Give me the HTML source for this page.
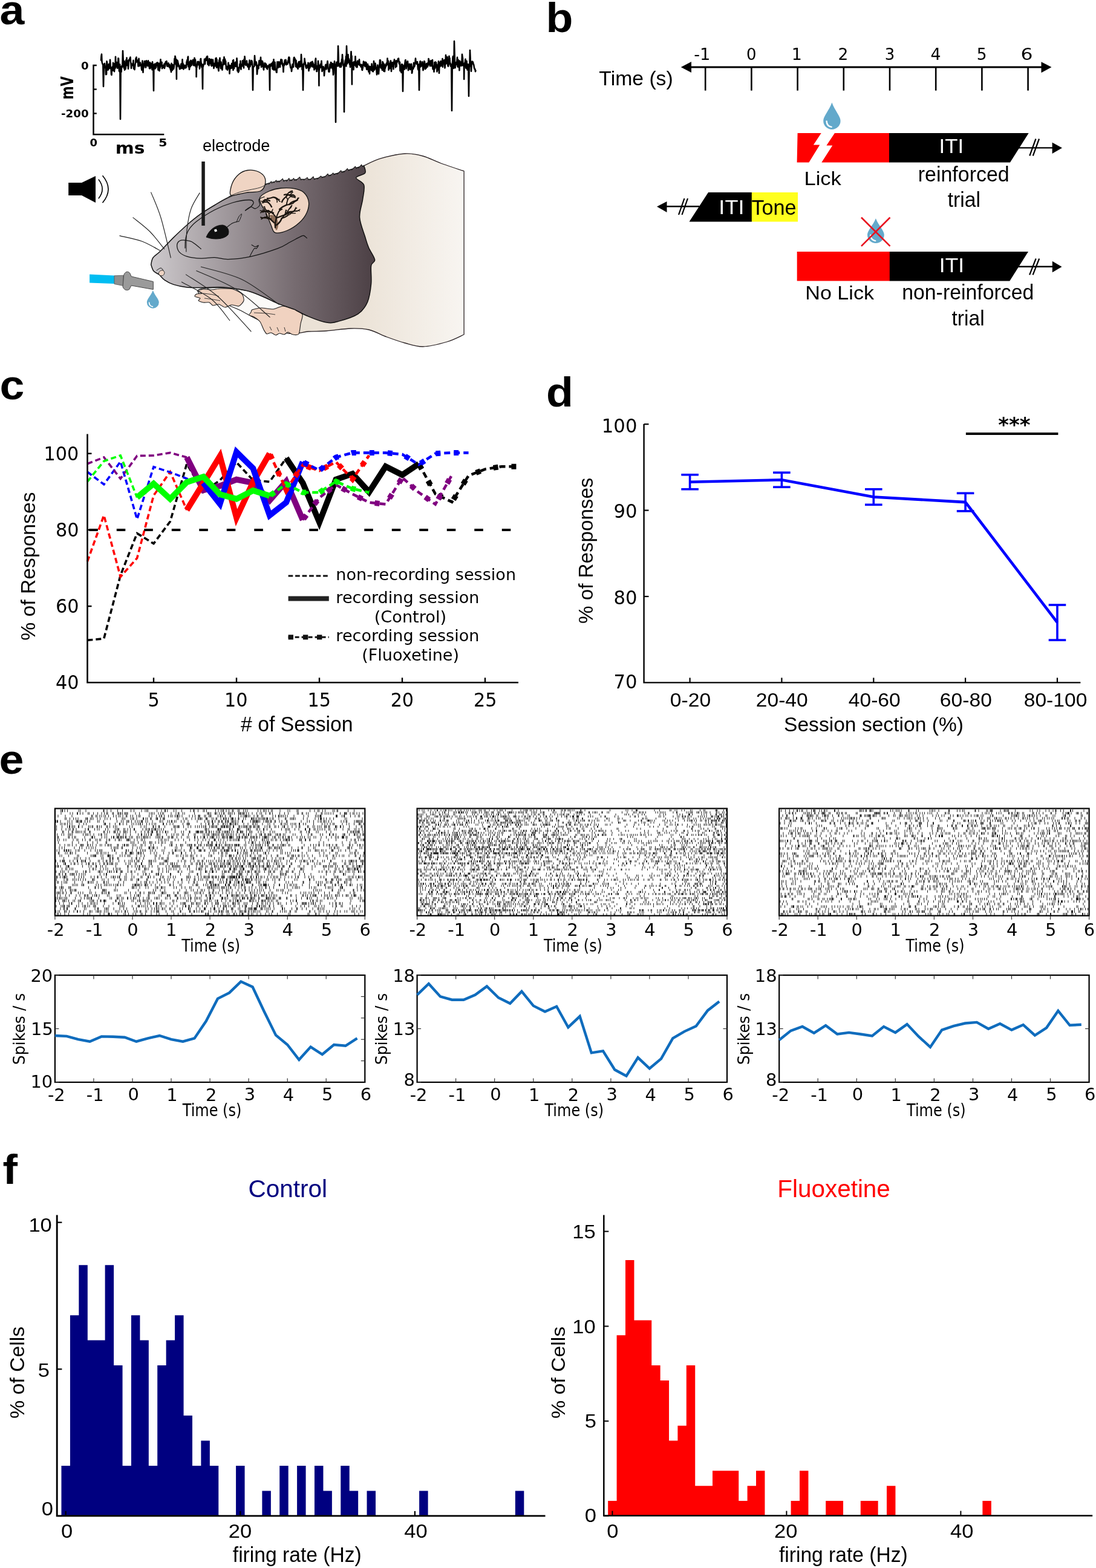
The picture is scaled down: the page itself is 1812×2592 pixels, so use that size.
<!DOCTYPE html>
<html><head><meta charset="utf-8"><title>Figure</title>
<style>html,body{margin:0;padding:0;background:#fff;} svg{display:block;}</style>
</head><body>
<svg width="1812" height="2592" viewBox="0 0 1812 2592"><text x="0.0" y="0.0" font-family="Liberation Sans, Arial, sans-serif" font-size="68" text-anchor="start" font-weight="bold" fill="#000" transform="translate(-0.5 39.5) scale(1.08 1)">a</text>
<text x="0.0" y="0.0" font-family="Liberation Sans, Arial, sans-serif" font-size="68" text-anchor="start" font-weight="bold" fill="#000" transform="translate(902.5 53) scale(1.08 1)">b</text>
<text x="0.0" y="0.0" font-family="Liberation Sans, Arial, sans-serif" font-size="68" text-anchor="start" font-weight="bold" fill="#000" transform="translate(-0.5 660) scale(1.08 1)">c</text>
<text x="0.0" y="0.0" font-family="Liberation Sans, Arial, sans-serif" font-size="68" text-anchor="start" font-weight="bold" fill="#000" transform="translate(903 672) scale(1.08 1)">d</text>
<text x="0.0" y="0.0" font-family="Liberation Sans, Arial, sans-serif" font-size="68" text-anchor="start" font-weight="bold" fill="#000" transform="translate(-1.5 1278.5) scale(1.08 1)">e</text>
<text x="0.0" y="0.0" font-family="Liberation Sans, Arial, sans-serif" font-size="68" text-anchor="start" font-weight="bold" fill="#000" transform="translate(4.5 1956.5) scale(1.08 1)">f</text>
<path d="M159.8 108.1 H154.5 V222.3 H271.3" fill="none" stroke="#000" stroke-width="2.5"/>
<line x1="154.5" y1="147.6" x2="159.8" y2="147.6" stroke="#000" stroke-width="2.3" />
<line x1="154.5" y1="187.5" x2="159.8" y2="187.5" stroke="#000" stroke-width="2.3" />
<text transform="translate(133.99 115.43) scale(1.0160 1)" font-family="DejaVu Sans, sans-serif" font-size="17.88" font-weight="bold" fill="#000">0</text>
<text transform="translate(101.00 193.73) scale(0.9985 1)" font-family="DejaVu Sans, sans-serif" font-size="18.28" font-weight="bold" fill="#000">-200</text>
<text transform="translate(148.40 241.64) scale(1.0535 1)" font-family="DejaVu Sans, sans-serif" font-size="17.09" font-weight="bold" fill="#000">0</text>
<text transform="translate(262.27 241.64) scale(1.1760 1)" font-family="DejaVu Sans, sans-serif" font-size="17.32" font-weight="bold" fill="#000">5</text>
<text transform="translate(190.77 253.91) scale(1.1565 1)" font-family="DejaVu Sans, sans-serif" font-size="25.74" font-weight="bold" fill="#000">ms</text>
<text transform="translate(120.90 164.60) rotate(-90) scale(0.7411 1)" font-family="DejaVu Sans, sans-serif" font-size="28.63" font-weight="bold" fill="#000">mV</text>
<path d="M167.0 100.6L167.5 92.8L168.0 89.6L168.5 102.0L169.0 104.0L169.5 105.8L170.3 106.5L171.0 143.0L171.7 110.5L172.5 105.7L173.0 104.9L173.5 108.2L174.0 112.4L174.5 110.9L175.0 123.1L175.5 112.2L176.0 122.6L176.5 101.2L177.0 103.4L177.5 108.8L178.0 110.4L178.5 115.7L179.0 112.7L179.5 114.2L180.0 106.1L180.5 113.1L181.0 108.8L181.5 108.8L182.0 98.8L182.5 107.2L183.0 113.3L183.5 111.3L184.0 122.8L184.5 123.9L185.0 112.3L185.5 115.7L186.0 110.4L186.5 116.6L187.0 103.7L187.5 112.9L188.0 116.0L188.5 105.4L189.0 118.1L189.5 111.6L190.0 113.3L190.5 112.8L191.0 93.7L191.5 104.3L192.0 107.5L192.5 110.5L193.0 103.0L193.5 106.7L194.0 112.6L194.5 112.4L195.0 108.6L195.5 96.4L196.0 96.5L196.5 107.8L197.0 117.5L197.5 118.1L198.3 106.5L199.0 197.0L199.7 110.5L200.5 119.0L201.0 111.3L201.5 108.8L202.0 110.9L202.4 109.5L203.0 84.0L204.0 105.5L204.5 108.3L205.0 112.8L205.5 101.1L206.0 115.8L206.5 103.7L207.0 106.2L207.5 114.1L208.0 110.3L208.5 99.0L209.0 107.7L209.5 95.6L210.0 107.9L210.5 100.2L211.0 102.7L211.5 103.1L212.0 113.8L212.5 107.8L213.0 99.1L213.5 100.4L214.0 97.6L214.5 98.0L215.0 95.8L215.5 94.5L216.0 101.7L216.5 105.6L217.0 112.9L217.5 106.8L218.0 105.7L218.5 106.2L219.0 108.2L219.5 107.5L220.0 106.3L220.5 99.8L221.0 113.5L221.5 108.6L222.0 111.5L222.5 115.1L223.0 110.5L223.5 106.0L224.0 103.8L224.5 96.5L225.0 96.2L225.5 94.5L226.0 102.4L226.5 99.0L227.0 100.3L227.5 100.0L228.0 103.1L228.5 109.5L229.0 105.4L229.5 96.7L230.0 105.0L230.5 109.1L231.0 106.4L231.5 104.9L232.0 103.5L232.5 105.7L233.0 108.6L233.5 108.1L234.0 113.6L234.5 115.9L235.0 112.4L235.5 100.5L236.0 106.6L236.5 119.8L237.0 109.5L237.5 112.0L238.0 110.4L238.5 105.3L239.0 101.0L239.5 102.5L240.0 101.4L240.5 103.6L241.0 111.6L241.5 109.2L242.0 100.4L242.5 105.5L243.0 107.8L243.5 102.9L244.0 107.0L244.5 109.3L245.0 100.3L245.5 103.5L246.0 107.1L246.5 103.0L247.0 113.0L247.5 113.2L248.0 103.3L248.5 113.2L249.0 107.4L249.5 106.4L250.0 104.9L250.5 110.9L251.0 105.7L251.5 115.2L252.0 102.3L252.5 107.1L253.3 106.5L254.0 150.0L254.4 109.5L254.7 110.5L256.0 105.5L256.5 113.5L257.0 109.1L257.5 112.2L258.0 111.1L258.5 104.6L259.0 104.8L259.5 107.9L260.0 103.2L260.5 104.1L261.0 109.9L261.5 115.6L262.0 109.5L262.5 104.6L263.0 112.1L263.5 117.2L264.0 109.9L264.5 112.6L265.0 105.4L265.5 98.2L266.0 107.8L266.5 109.1L267.0 105.4L267.5 102.7L268.0 113.2L268.5 112.2L269.0 111.1L269.5 108.3L270.0 111.6L270.5 110.2L271.0 108.0L271.5 105.5L272.0 112.9L272.5 107.4L273.0 110.0L273.5 103.4L274.0 102.0L274.5 102.1L275.0 102.2L275.5 101.1L276.0 106.8L276.5 109.6L277.0 106.2L277.5 108.1L278.0 109.4L278.5 104.2L279.0 106.2L279.5 109.5L280.0 111.3L280.5 106.9L281.0 111.2L281.5 112.7L282.0 115.6L282.5 114.9L283.0 119.2L283.5 104.8L284.0 106.7L284.5 112.2L285.0 116.1L285.5 107.1L286.0 107.8L286.5 109.1L287.0 114.0L287.5 111.5L288.0 107.6L288.5 97.1L289.0 104.9L289.5 92.9L290.0 94.6L290.5 99.9L291.0 106.9L291.2 106.5L291.5 106.5L291.9 130.7L292.0 98.6L292.5 99.9L292.6 110.5L293.0 102.8L293.5 100.0L294.0 101.8L294.5 104.9L295.0 105.4L295.5 110.0L296.0 108.1L296.5 111.2L297.0 114.3L297.5 112.7L298.0 111.6L298.5 113.6L299.0 107.5L299.5 105.6L300.0 109.1L300.5 108.9L301.0 113.0L301.5 98.2L302.0 108.7L302.5 104.8L303.0 109.9L303.5 114.5L304.0 107.4L304.5 110.3L305.0 111.9L305.5 112.3L306.0 111.8L306.5 108.1L307.0 112.4L307.5 111.4L308.0 111.0L308.5 102.3L309.0 101.7L309.5 99.0L310.0 106.7L310.5 95.1L311.0 93.5L311.5 110.3L312.0 109.2L312.5 108.8L313.0 114.9L313.5 111.4L314.0 101.7L314.5 104.9L315.0 110.0L315.5 99.7L316.0 101.9L316.5 106.9L317.0 107.7L317.5 101.1L318.0 101.6L318.5 103.1L319.0 98.9L319.5 100.6L320.0 107.9L320.5 105.3L321.0 108.4L321.5 95.7L322.0 97.9L322.5 100.7L323.0 98.8L323.5 109.6L323.9 106.5L324.0 110.9L324.5 109.1L324.6 127.0L325.0 109.7L325.3 110.5L325.5 111.2L326.0 105.9L326.5 102.1L327.0 107.3L327.5 106.8L328.0 101.9L328.5 106.8L329.0 102.5L329.5 107.0L330.0 113.7L330.5 109.5L331.0 105.4L331.5 97.9L332.0 97.0L332.5 104.1L333.0 104.8L333.5 111.1L334.3 106.5L335.0 147.0L335.4 109.5L335.7 110.5L337.0 105.5L337.5 105.5L338.0 97.9L338.5 102.8L339.0 106.0L339.5 99.2L340.0 96.8L340.5 99.2L341.0 99.8L341.5 94.4L342.0 98.7L342.5 93.0L343.0 93.0L343.5 106.5L344.0 104.0L344.5 105.1L345.0 106.4L345.5 108.3L346.0 97.1L346.5 99.3L347.0 105.0L347.5 99.3L348.0 98.3L348.5 101.0L349.0 107.9L349.5 98.0L350.0 109.2L350.5 103.5L351.0 108.5L351.5 98.9L352.0 98.7L352.5 106.0L353.0 104.5L353.5 112.9L354.0 109.2L354.5 109.1L355.0 104.7L355.5 109.3L356.0 102.9L356.5 96.6L357.0 105.3L357.5 95.9L358.0 111.6L358.5 98.4L359.0 111.1L359.5 103.7L360.0 108.0L360.5 109.7L361.0 114.8L361.5 117.2L362.0 102.6L362.5 99.0L363.0 100.9L363.5 95.8L364.0 105.6L364.5 109.8L365.0 113.3L365.5 102.5L366.0 109.5L366.5 107.2L367.0 113.5L367.5 115.6L368.0 109.5L368.5 107.2L369.0 98.7L369.5 105.9L370.0 106.3L370.5 94.4L371.0 103.7L371.5 103.7L372.0 97.8L372.5 106.3L373.0 100.8L373.5 106.0L374.0 113.9L374.5 111.8L375.0 113.0L375.5 110.1L376.0 115.7L376.5 113.9L377.0 109.8L377.5 103.8L378.0 107.3L378.5 108.5L379.0 107.6L379.5 121.7L380.0 114.6L380.5 112.8L381.0 108.6L381.5 108.3L382.0 112.9L382.5 111.3L383.0 105.0L383.5 105.2L384.0 109.1L384.5 112.8L385.0 100.0L385.5 116.0L386.0 99.0L386.5 111.3L387.0 113.3L387.5 108.8L388.0 108.4L388.5 106.7L389.0 103.0L389.5 109.5L390.0 109.9L390.5 102.3L391.0 106.3L391.5 96.2L392.0 101.4L392.5 117.1L393.0 111.3L393.5 114.8L394.0 119.5L394.5 118.2L395.0 117.4L395.5 111.6L396.0 111.7L396.5 105.8L397.0 111.3L397.5 100.9L398.0 111.0L398.5 114.7L399.0 106.9L399.5 106.3L400.0 107.6L400.5 109.2L401.0 100.3L401.5 106.1L402.0 108.0L402.5 108.0L403.0 112.4L403.5 98.0L404.0 106.5L404.5 93.2L405.0 97.5L405.5 106.0L406.0 105.9L406.5 108.0L407.0 105.1L407.5 103.8L408.0 100.5L408.5 107.2L409.0 105.2L409.5 110.4L410.0 108.1L410.5 108.5L411.0 106.2L411.5 114.6L412.0 105.1L412.5 99.5L413.0 107.3L413.5 110.2L414.0 104.1L414.5 103.8L415.0 106.9L415.5 100.1L416.0 104.4L416.5 100.9L417.3 106.5L418.0 149.0L418.7 110.5L419.5 110.0L420.0 110.2L420.4 109.5L421.0 92.0L422.0 105.5L422.5 104.7L423.0 107.6L423.5 102.3L424.0 103.8L424.5 110.7L425.0 122.6L425.5 117.1L426.0 114.1L426.5 113.6L427.0 107.6L427.5 113.1L428.0 104.9L428.5 100.2L429.0 107.8L429.5 106.7L430.0 103.4L430.5 100.5L431.0 94.9L431.5 104.5L432.0 110.8L432.5 106.3L433.0 100.8L433.5 104.0L434.0 101.2L434.5 110.1L435.0 103.7L435.5 112.9L436.0 115.5L436.5 107.8L437.0 110.6L437.5 110.8L438.0 104.2L438.5 105.7L439.0 110.5L439.5 107.5L440.0 105.9L440.5 112.5L441.0 112.8L441.5 109.3L442.0 114.4L442.5 108.8L443.0 111.0L443.5 108.9L444.0 109.7L444.5 111.0L445.3 106.5L446.0 149.0L446.4 109.5L446.7 110.5L448.0 105.5L448.5 106.2L449.0 105.5L449.5 109.4L450.0 104.1L450.5 113.2L451.0 114.4L451.5 102.1L452.0 107.3L452.5 98.2L453.0 115.8L453.5 113.7L454.0 114.2L454.5 102.8L455.0 113.3L455.5 115.3L456.0 116.4L456.5 115.9L457.0 119.5L457.5 119.7L458.0 108.8L458.5 102.2L459.0 111.7L459.5 109.3L460.0 111.9L460.5 110.6L461.0 102.3L461.5 106.2L462.0 107.1L462.5 103.3L463.0 110.9L463.5 105.1L464.0 101.0L464.5 98.2L465.0 101.4L465.5 105.5L466.0 98.8L466.5 103.4L467.0 104.3L467.5 109.1L468.0 108.4L468.5 118.9L469.0 108.6L469.5 105.5L470.0 108.1L470.5 102.0L471.0 99.4L471.5 105.6L472.0 101.5L472.5 98.8L473.0 104.8L473.5 107.1L474.0 104.1L474.5 105.7L475.0 103.7L475.5 105.9L476.0 100.5L476.5 103.4L477.0 96.8L477.5 94.5L478.0 94.6L478.5 95.4L479.0 104.4L479.5 106.2L480.0 109.5L480.5 112.2L481.0 112.5L481.5 111.4L482.0 118.0L482.5 114.4L483.0 109.5L483.5 106.4L484.0 111.1L484.5 110.5L485.0 110.7L485.5 98.7L486.0 95.2L486.5 94.9L487.0 97.7L487.5 96.9L488.0 98.6L488.5 105.2L489.0 110.0L489.5 99.9L490.0 110.5L490.5 104.9L491.0 111.5L491.5 111.7L492.0 110.2L492.5 113.9L493.0 111.2L493.5 103.7L494.0 102.0L494.5 104.4L495.0 106.8L495.5 110.8L496.0 103.5L496.5 101.4L497.0 103.3L497.4 109.5L498.0 90.0L499.0 105.5L499.5 115.0L500.3 106.5L501.0 149.0L501.7 110.5L502.5 104.8L503.0 106.0L503.5 96.8L504.0 101.3L504.5 102.9L505.0 105.1L505.5 110.6L506.0 111.8L506.5 112.8L507.0 111.9L507.5 107.7L508.0 110.9L508.5 108.8L509.0 111.2L509.5 103.7L510.0 113.4L510.5 117.1L511.0 113.3L511.5 111.3L512.0 112.7L512.5 104.3L513.0 110.8L513.5 103.6L514.0 107.2L514.5 102.7L515.0 105.6L515.5 108.2L516.0 110.3L516.5 101.7L517.0 108.3L517.5 104.3L518.0 110.8L518.5 106.7L519.0 110.6L519.5 115.4L520.0 112.1L520.5 113.6L521.0 103.9L521.5 98.9L522.0 96.5L522.5 108.6L523.0 114.1L523.5 118.1L524.0 117.9L524.5 109.0L525.0 114.3L525.5 110.8L526.0 100.8L526.5 105.7L526.7 106.5L527.0 111.9L527.4 141.6L527.5 108.1L528.0 115.6L528.1 110.5L528.5 113.1L529.0 110.3L529.5 111.8L530.0 106.1L530.5 106.2L531.0 104.7L531.5 100.8L532.0 109.2L532.5 118.0L533.0 113.5L533.5 115.8L534.0 112.0L534.5 110.0L535.0 115.1L535.5 112.3L536.0 125.2L536.5 119.4L537.0 114.9L537.5 112.9L538.0 108.3L538.5 106.8L539.0 113.8L539.5 114.5L540.0 107.1L540.5 111.0L541.0 104.5L541.5 101.1L542.0 105.5L542.5 113.9L543.0 114.3L543.5 118.7L544.0 116.3L544.5 118.7L545.0 113.8L545.5 106.3L546.0 107.1L546.5 112.4L547.0 103.1L547.5 103.4L548.0 108.2L548.5 107.0L549.0 109.5L549.5 113.5L550.0 105.1L550.5 115.8L551.0 123.6L551.5 120.8L552.0 106.0L552.5 107.5L553.0 101.3L553.5 107.0L554.3 106.5L555.0 202.0L555.7 110.5L556.5 102.9L557.0 107.8L557.5 106.3L558.0 102.4L558.4 109.5L559.0 76.0L560.0 105.5L560.5 104.7L561.0 109.2L561.5 105.5L562.0 110.9L562.5 106.1L563.0 109.3L563.5 103.7L564.0 110.6L564.5 107.3L565.0 98.1L565.5 101.9L566.0 90.3L566.5 97.4L567.0 100.0L567.5 108.2L568.3 106.5L569.0 185.0L569.7 110.5L570.5 102.8L571.0 99.3L571.5 101.0L572.0 93.0L572.4 109.5L573.0 76.0L574.0 105.5L574.5 101.7L575.0 96.3L575.5 90.2L576.0 103.1L576.5 97.0L577.0 99.4L577.5 100.8L578.0 106.5L578.5 102.9L579.0 110.9L579.5 104.0L580.0 94.5L580.5 85.2L581.0 94.6L581.2 106.5L581.5 92.5L581.9 139.4L582.0 103.6L582.5 108.5L582.6 110.5L583.0 106.5L583.5 103.5L584.0 112.6L584.5 115.2L585.0 102.4L585.5 102.7L586.0 107.4L586.5 104.9L587.0 107.9L587.5 93.3L588.0 102.5L588.5 110.1L589.0 106.2L589.5 103.3L590.0 111.2L590.5 111.0L591.0 100.9L591.5 100.6L592.0 103.3L592.5 102.2L593.0 105.5L593.5 107.2L594.0 98.3L594.5 105.1L595.0 108.1L595.5 106.3L596.0 107.5L596.5 110.0L597.0 111.0L597.5 109.5L598.0 106.9L598.5 115.3L599.0 116.0L599.5 113.6L600.0 111.0L600.5 107.3L601.0 101.5L601.5 106.8L602.0 107.7L602.5 107.8L603.0 102.9L603.5 109.9L604.0 107.8L604.5 102.8L605.0 106.6L605.5 103.5L606.0 113.9L606.5 115.0L607.0 109.7L607.5 112.5L608.0 106.1L608.5 113.0L609.0 115.3L609.5 118.8L610.0 109.3L610.5 110.7L611.0 122.0L611.5 112.6L612.0 110.5L612.5 112.3L613.0 110.0L613.5 110.7L614.0 116.1L614.5 105.5L615.0 109.5L615.5 115.8L616.0 118.0L616.5 114.0L617.0 118.4L617.5 113.5L618.0 101.1L618.5 111.8L619.0 115.6L619.5 106.0L620.0 106.2L620.5 104.7L621.0 113.1L621.5 113.9L622.0 111.2L622.5 116.9L623.0 123.5L623.5 116.8L624.0 107.5L624.5 113.5L625.0 121.3L625.5 119.8L626.0 122.2L626.5 115.4L627.0 107.4L627.5 108.6L628.0 99.3L628.5 101.3L629.0 99.5L629.5 111.9L630.0 112.5L630.5 107.2L631.0 110.6L631.5 112.9L632.0 116.0L632.5 102.1L633.0 103.3L633.5 107.5L634.0 104.5L634.5 117.6L635.0 106.1L635.5 115.6L636.0 118.2L636.5 107.7L637.0 112.7L637.5 110.1L638.0 109.8L638.5 105.2L639.0 108.3L639.5 103.9L640.0 106.0L640.5 96.6L641.0 103.7L641.5 106.9L642.0 100.8L642.5 115.6L643.0 109.1L643.5 105.5L644.0 104.9L644.5 113.1L645.0 111.8L645.5 101.8L646.0 100.4L646.5 112.3L647.0 118.0L647.5 108.5L648.0 109.8L648.5 103.3L649.0 107.4L649.5 103.5L650.0 104.7L650.5 114.2L651.0 102.8L651.5 101.5L652.0 98.4L652.5 105.1L653.0 100.8L653.5 105.2L654.0 111.4L654.5 102.5L655.0 100.3L655.5 109.8L656.0 101.7L656.5 103.0L657.0 100.4L657.5 100.5L658.0 97.1L658.5 100.5L659.0 96.5L659.5 102.0L660.0 105.7L660.5 103.7L661.0 102.7L661.5 117.1L662.0 109.5L662.5 109.9L663.0 116.4L663.5 120.0L664.0 106.3L664.5 114.1L665.3 106.5L665.4 109.5L666.0 151.0L666.7 110.5L667.5 108.5L668.0 114.5L668.5 114.7L669.0 107.0L669.5 104.1L670.0 100.0L670.5 99.1L671.0 102.2L671.5 113.5L672.0 110.2L672.5 105.8L673.0 102.5L673.5 108.6L674.0 101.3L674.5 106.6L675.0 116.1L675.5 111.5L676.0 110.0L676.5 113.0L677.0 105.8L677.5 108.1L678.0 114.9L678.5 114.5L679.0 108.4L679.5 106.4L680.0 105.7L680.5 109.1L681.0 120.9L681.5 119.2L682.0 111.5L682.5 114.4L683.0 114.1L683.5 112.9L684.0 103.7L684.5 109.6L685.0 110.4L685.5 109.1L686.0 106.8L686.5 102.7L687.0 96.5L687.5 102.3L688.0 104.2L688.5 104.0L689.0 105.8L689.5 102.8L690.0 102.0L690.5 107.1L691.0 113.8L691.5 115.4L692.3 106.5L693.0 149.0L693.7 110.5L694.5 101.7L695.0 101.2L695.5 110.4L696.0 106.2L696.5 107.1L697.0 106.2L697.5 109.0L698.0 102.3L698.5 107.8L699.0 110.2L699.5 116.1L700.0 114.4L700.5 108.6L701.0 102.3L701.5 101.1L702.0 101.9L702.5 107.9L703.0 114.1L703.5 112.2L704.0 106.6L704.5 113.0L705.0 105.3L705.5 111.0L706.0 108.8L706.5 104.6L707.0 110.4L707.5 107.4L708.0 107.6L708.5 97.0L709.0 98.6L709.5 106.8L710.0 104.4L710.5 102.4L711.0 109.1L711.5 100.7L712.0 106.6L712.5 100.2L713.0 108.2L713.5 109.1L714.0 103.0L714.5 101.3L715.0 99.0L715.5 113.5L716.0 114.6L716.5 114.5L717.0 109.2L717.5 118.8L718.0 111.7L718.5 103.0L719.0 113.6L719.5 109.3L720.0 102.5L720.5 105.9L721.0 103.2L721.5 111.1L722.0 106.8L722.5 118.5L723.0 111.4L723.5 115.8L724.0 114.5L724.5 108.3L725.0 101.2L725.5 107.2L726.0 121.0L726.5 103.5L727.0 110.6L727.5 105.9L728.0 109.4L728.5 101.1L729.0 101.2L729.5 106.1L730.0 108.4L730.5 109.1L731.0 105.2L731.5 97.1L732.0 110.7L732.5 107.1L733.0 102.2L733.5 104.5L734.0 99.5L734.5 100.9L735.0 99.1L735.5 112.5L736.0 106.8L736.5 103.5L737.0 91.1L737.5 105.4L738.0 103.7L738.5 99.7L739.0 97.8L739.5 94.1L740.0 104.4L740.5 108.6L741.0 109.6L741.5 107.3L742.0 105.7L742.5 92.7L743.0 100.4L743.5 96.1L744.0 105.4L744.5 104.3L745.0 109.4L745.5 108.6L746.3 106.5L747.0 183.0L747.7 110.5L748.5 95.2L749.0 93.1L749.5 103.0L750.0 112.9L750.4 109.5L751.0 68.0L752.0 105.5L752.5 112.3L753.0 109.0L753.5 104.9L754.0 104.7L754.5 102.7L755.0 106.5L755.5 99.9L756.0 94.7L756.5 109.8L757.0 110.7L757.5 98.8L758.0 108.2L758.5 102.8L759.0 108.2L759.5 116.3L760.0 100.6L760.5 108.3L761.0 108.7L761.5 105.7L762.0 102.6L762.5 104.3L763.0 108.8L763.5 103.0L764.0 89.8L764.5 93.9L765.0 96.2L765.5 108.1L766.0 106.3L766.5 106.5L767.0 111.2L767.2 131.0L767.5 110.5L767.9 110.5L768.0 104.3L768.5 106.4L769.0 102.3L769.5 97.7L770.0 110.1L770.5 112.7L771.0 109.6L771.5 100.8L772.0 106.5L772.5 115.4L773.0 107.1L773.5 106.3L774.3 106.5L775.0 159.0L775.7 110.5L776.4 109.5L777.0 83.0L778.0 105.5L778.5 107.7L779.0 117.8L779.5 109.4L780.0 105.8L780.5 101.6L781.0 105.4L781.5 102.1L782.0 103.1L782.5 105.1L783.0 106.4L783.5 108.6L784.0 112.1L784.5 114.0L785.0 113.6L785.5 115.2L786.0 118.3L786.5 115.9L787.0 115.5" fill="none" stroke="#000" stroke-width="2.6" stroke-linejoin="round"/>
<text transform="translate(334.88 250.23) scale(0.9872 1)" font-family="Liberation Sans, Arial, sans-serif" font-size="27.48" font-weight="normal" fill="#000">electrode</text>
<defs>
<linearGradient id="gfur" x1="250" y1="0" x2="612" y2="0" gradientUnits="userSpaceOnUse">
<stop offset="0" stop-color="#cdc9cc"/><stop offset="0.3" stop-color="#a59ea2"/><stop offset="0.65" stop-color="#776c71"/><stop offset="1" stop-color="#4e4247"/></linearGradient>
<linearGradient id="gcream" x1="590" y1="0" x2="767" y2="0" gradientUnits="userSpaceOnUse">
<stop offset="0" stop-color="#ebe2d6"/><stop offset="1" stop-color="#f8f5f1"/></linearGradient>
</defs>
<path d="M601.6 273.9C606.2 271.9 618.2 265.2 629.5 261.9C640.8 258.6 657.8 254.7 669.4 254.0C681.0 253.3 689.3 255.3 699.3 258.0C709.3 260.7 717.9 265.9 729.2 270.0C740.5 274.1 760.8 280.8 767.1 282.9 L767.1 553 L767.1 553.0C762.5 555.0 750.5 561.7 739.2 565.0C727.9 568.3 710.9 572.7 699.3 573.0C687.7 573.3 679.4 569.7 669.4 567.0C659.4 564.3 649.5 560.7 639.5 557.0C629.5 553.3 619.6 547.3 609.6 545.0C599.6 542.7 591.3 542.7 579.7 543.0C568.1 543.3 551.4 546.2 539.8 547.0C528.2 547.8 518.2 547.3 509.9 548.0C501.6 548.7 496.6 551.0 490.0 551.0C483.4 551.0 474.7 553.2 470.0 548.0C465.3 542.8 462.0 533.0 462.0 520.0C462.0 507.0 467.0 490.0 470.0 470.0C473.0 450.0 471.7 425.0 480.0 400.0C488.3 375.0 505.0 336.7 520.0 320.0C535.0 303.3 561.7 303.3 570.0 300.0Z" fill="url(#gcream)" stroke="#2a2224" stroke-width="1.3" stroke-linejoin="round"/>
<path d="M330.0 478.0C337.5 475.7 363.3 474.7 380.0 476.0C396.7 477.3 415.0 482.0 430.0 486.0C445.0 490.0 459.7 495.2 470.0 500.0C480.3 504.8 488.0 509.2 492.0 515.0C496.0 520.8 497.7 530.8 494.0 535.0C490.3 539.2 480.7 540.8 470.0 540.0C459.3 539.2 442.5 534.7 430.0 530.0C417.5 525.3 406.7 517.3 395.0 512.0C383.3 506.7 370.0 501.7 360.0 498.0C350.0 494.3 340.0 493.3 335.0 490.0C330.0 486.7 322.5 480.3 330.0 478.0Z" fill="#fbfaf8" stroke="#1d1d1d" stroke-width="1.1"/>
<path d="M417.0 512.0C419.0 511.2 427.9 509.1 432.0 509.0C436.1 508.9 447.8 511.4 452.0 511.0C456.2 510.6 463.8 506.0 468.0 506.0C472.2 506.0 484.3 509.4 488.0 511.0C491.7 512.6 498.9 517.2 500.0 520.0C501.1 522.8 497.7 531.3 497.0 535.0C496.3 538.7 495.5 549.9 494.0 552.0C492.5 554.1 486.1 553.4 484.0 553.0C481.9 552.6 477.6 549.0 476.0 549.0C474.4 549.0 471.6 552.8 470.0 553.0C468.4 553.2 463.6 550.9 462.0 551.0C460.4 551.1 457.6 554.1 456.0 554.0C454.4 553.9 449.8 550.2 448.0 550.0C446.2 549.8 442.4 552.6 441.0 552.0C439.6 551.4 437.3 547.3 436.0 545.0C434.7 542.7 431.9 534.5 430.0 532.0C428.1 529.5 422.1 525.3 420.0 524.0C417.9 522.7 412.6 521.9 412.0 521.0C411.4 520.1 414.4 517.0 415.0 516.0C415.6 515.0 415.0 512.8 417.0 512.0Z" fill="#f0d2c0" stroke="#1d1d1d" stroke-width="1.1"/>
<path d="M420.0 517.0C423.3 517.2 434.2 517.5 440.0 518.0C445.8 518.5 452.5 519.7 455.0 520.0" fill="none" stroke="#222" stroke-width="0.9"/>
<path d="M446.0 540.0 L449.0 546.0" fill="none" stroke="#222" stroke-width="0.9"/>
<path d="M458.0 541.0 L461.0 548.0" fill="none" stroke="#222" stroke-width="0.9"/>
<path d="M470.0 541.0 L472.0 548.0" fill="none" stroke="#222" stroke-width="0.9"/>
<path d="M400.0 486.0C402.1 488.2 403.6 494.7 403.0 497.0C402.4 499.3 397.3 505.2 395.0 506.0C392.7 506.8 385.7 503.8 383.0 504.0C380.3 504.2 374.4 508.1 372.0 508.0C369.6 507.9 364.3 503.4 362.0 503.0C359.7 502.6 353.9 505.4 352.0 505.0C350.1 504.6 347.9 500.6 346.0 500.0C344.1 499.4 338.1 500.4 336.0 500.0C333.9 499.6 328.6 497.8 328.0 497.0C327.4 496.2 331.7 493.8 331.0 493.0C330.3 492.2 322.7 490.8 322.0 490.0C321.3 489.2 323.6 486.6 325.0 486.0C326.4 485.4 333.8 485.6 334.0 485.0C334.2 484.4 326.8 481.8 327.0 481.0C327.2 480.2 333.3 478.2 336.0 478.0C338.7 477.8 346.6 479.1 350.0 479.0C353.4 478.9 360.9 477.1 365.0 477.0C369.1 476.9 380.9 476.9 385.0 478.0C389.1 479.1 397.9 483.8 400.0 486.0Z" fill="#f0d2c0" stroke="#1d1d1d" stroke-width="1.1"/>
<path d="M336.0 485.0C338.7 485.3 347.7 486.2 352.0 487.0C356.3 487.8 360.3 489.5 362.0 490.0" fill="none" stroke="#222" stroke-width="0.9"/>
<path d="M338.0 493.0C340.3 493.3 347.7 494.3 352.0 495.0C356.3 495.7 362.0 496.7 364.0 497.0" fill="none" stroke="#222" stroke-width="0.9"/>
<path d="M249.7 437.4C250.2 435.5 250.5 429.6 253.0 426.0C255.5 422.4 258.9 421.4 264.5 415.8C270.1 410.2 279.4 400.0 286.9 392.6C294.4 385.2 301.8 378.2 309.3 371.7C316.8 365.2 324.2 359.1 331.8 353.7C339.4 348.2 347.1 343.7 355.0 339.0C362.9 334.3 369.2 330.1 379.5 325.5C389.8 320.9 404.5 315.9 417.0 311.7C429.5 307.5 441.9 303.0 454.3 300.5C466.8 298.0 480.8 297.5 491.7 296.7C502.6 295.9 508.5 297.6 519.9 295.8C531.2 294.0 546.2 289.5 559.8 285.9C573.4 282.2 594.6 275.9 601.6 273.9L601.6 273.9C601.9 275.9 605.8 282.6 603.6 285.9C601.5 289.2 589.0 290.5 588.7 293.8C588.4 297.1 599.8 299.8 601.6 305.8C603.4 311.8 600.8 320.7 599.6 329.7C598.4 338.7 593.9 349.3 594.6 359.6C595.3 369.9 601.1 383.2 603.6 391.5C606.1 399.8 606.9 403.2 609.6 409.5C612.3 415.8 618.9 424.4 619.6 429.4C620.3 434.4 614.6 432.8 613.6 439.4C612.6 446.0 614.6 459.3 613.6 469.3C612.6 479.3 611.2 490.9 607.6 499.2C604.0 507.5 599.7 513.8 591.7 519.1C583.7 524.4 568.4 528.8 559.8 531.1C551.1 533.4 548.1 534.4 539.8 533.1C531.5 531.8 518.9 526.8 509.9 523.1C500.9 519.5 490.0 513.2 486.0 511.2L486.0 511.2C481.7 509.7 467.8 505.2 460.0 502.0C452.2 498.8 446.7 495.5 439.0 492.2C431.3 488.9 422.3 484.7 414.0 482.2C405.7 479.7 397.3 478.5 389.0 477.3C380.7 476.1 372.5 475.1 364.3 474.8C356.1 474.5 349.2 475.5 340.0 475.5C330.8 475.5 318.1 475.8 309.3 474.9C300.5 474.0 293.2 472.4 287.0 470.4C280.8 468.4 276.0 465.6 272.0 462.9C268.0 460.2 266.0 456.5 263.0 454.0C260.0 451.5 256.2 450.8 254.0 448.0C251.8 445.2 250.4 439.2 249.7 437.4Z" fill="url(#gfur)" stroke="#111" stroke-width="1.5" stroke-linejoin="round"/>
<path d="M444.0 305.0L448.5 299.9L449.9 303.3" fill="url(#gfur)" stroke="#1a1a1a" stroke-width="1.1" stroke-linejoin="round"/>
<path d="M452.5 302.5L456.7 297.9L458.1 301.6" fill="url(#gfur)" stroke="#1a1a1a" stroke-width="1.1" stroke-linejoin="round"/>
<path d="M460.8 301.3L467.3 295.3L469.4 300.5" fill="url(#gfur)" stroke="#1a1a1a" stroke-width="1.1" stroke-linejoin="round"/>
<path d="M473.5 300.1L477.9 294.7L479.4 299.5" fill="url(#gfur)" stroke="#1a1a1a" stroke-width="1.1" stroke-linejoin="round"/>
<path d="M481.5 299.2L485.7 294.7L487.2 298.7" fill="url(#gfur)" stroke="#1a1a1a" stroke-width="1.1" stroke-linejoin="round"/>
<path d="M489.0 298.5L495.6 292.6L497.7 298.0" fill="url(#gfur)" stroke="#1a1a1a" stroke-width="1.1" stroke-linejoin="round"/>
<path d="M502.0 297.9L508.1 293.4L510.2 297.6" fill="url(#gfur)" stroke="#1a1a1a" stroke-width="1.1" stroke-linejoin="round"/>
<path d="M512.4 297.5L518.0 292.0L519.9 297.3" fill="url(#gfur)" stroke="#1a1a1a" stroke-width="1.1" stroke-linejoin="round"/>
<path d="M524.3 296.2L530.7 291.0L532.9 294.1" fill="url(#gfur)" stroke="#1a1a1a" stroke-width="1.1" stroke-linejoin="round"/>
<path d="M536.3 293.2L542.0 287.3L544.0 291.3" fill="url(#gfur)" stroke="#1a1a1a" stroke-width="1.1" stroke-linejoin="round"/>
<path d="M545.7 290.9L550.8 285.9L552.6 289.2" fill="url(#gfur)" stroke="#1a1a1a" stroke-width="1.1" stroke-linejoin="round"/>
<path d="M557.3 288.0L563.7 281.8L565.8 285.7" fill="url(#gfur)" stroke="#1a1a1a" stroke-width="1.1" stroke-linejoin="round"/>
<path d="M568.0 285.1L574.4 278.7L576.6 282.6" fill="url(#gfur)" stroke="#1a1a1a" stroke-width="1.1" stroke-linejoin="round"/>
<path d="M581.1 281.3L587.4 275.1L589.5 278.9" fill="url(#gfur)" stroke="#1a1a1a" stroke-width="1.1" stroke-linejoin="round"/>
<path d="M592.2 278.1L597.7 272.2L599.6 276.0" fill="url(#gfur)" stroke="#1a1a1a" stroke-width="1.1" stroke-linejoin="round"/>
<path d="M381.0 322.0C379.2 319.0 381.7 308.7 384.0 303.0C386.3 297.3 390.8 291.6 395.0 288.0C399.2 284.4 404.0 282.3 409.0 281.5C414.0 280.7 420.3 281.2 425.0 283.0C429.7 284.8 434.8 288.2 437.0 292.0C439.2 295.8 439.2 302.0 438.0 306.0C436.8 310.0 434.7 314.0 430.0 316.0C425.3 318.0 415.8 317.2 410.0 318.0C404.2 318.8 399.8 320.3 395.0 321.0C390.2 321.7 382.8 325.0 381.0 322.0Z" fill="#efd4c3" stroke="#111" stroke-width="1.3"/>
<path d="M378.0 325.0C380.8 323.8 389.3 319.8 395.0 318.0C400.7 316.2 406.2 315.3 412.0 314.0C417.8 312.7 424.5 311.8 430.0 310.0C435.5 308.2 440.0 304.8 445.0 303.0C450.0 301.2 457.5 299.7 460.0 299.0" fill="none" stroke="#333" stroke-width="1"/>
<path d="M430.0 326.0C432.2 322.3 439.2 318.5 445.0 316.0C450.8 313.5 458.2 311.7 465.0 311.0C471.8 310.3 479.8 310.5 486.0 311.7C492.2 312.9 497.9 314.3 502.0 318.0C506.1 321.7 509.6 328.3 510.4 334.0C511.2 339.7 509.6 346.3 507.0 352.0C504.4 357.7 500.3 363.2 495.0 368.0C489.7 372.8 481.7 378.2 475.0 381.0C468.3 383.8 459.5 386.1 455.0 384.6C450.5 383.1 450.5 377.4 448.0 372.0C445.5 366.6 442.7 357.7 440.0 352.0C437.3 346.3 433.7 342.3 432.0 338.0C430.3 333.7 427.8 329.7 430.0 326.0Z" fill="#efd4c3" stroke="#111" stroke-width="1.3"/>
<path d="M446.0 356.0C445.3 357.7 450.5 364.3 452.0 368.0C453.5 371.7 454.0 376.0 455.0 378.0C456.0 380.0 457.2 381.3 458.0 380.0C458.8 378.7 460.3 373.7 460.0 370.0C459.7 366.3 458.3 360.3 456.0 358.0C453.7 355.7 446.7 354.3 446.0 356.0Z" fill="#8d6c57"/>
<path d="M455.0 376.0Q454.6 368.8 456.9 360.1" fill="none" stroke="#1b1510" stroke-width="2.35" stroke-linecap="round"/>
<path d="M456.9 360.1Q457.7 356.3 460.7 350.1" fill="none" stroke="#1b1510" stroke-width="1.90" stroke-linecap="round"/>
<path d="M460.7 350.1Q463.6 346.8 466.5 345.7" fill="none" stroke="#1b1510" stroke-width="1.45" stroke-linecap="round"/>
<path d="M460.7 350.1Q462.2 346.2 465.8 346.0" fill="none" stroke="#1b1510" stroke-width="1.45" stroke-linecap="round"/>
<path d="M456.9 360.1Q453.6 354.8 450.3 352.5" fill="none" stroke="#1b1510" stroke-width="1.90" stroke-linecap="round"/>
<path d="M450.3 352.5Q449.2 350.5 450.9 346.0" fill="none" stroke="#1b1510" stroke-width="1.45" stroke-linecap="round"/>
<path d="M450.3 352.5Q446.2 348.8 444.6 348.8" fill="none" stroke="#1b1510" stroke-width="1.45" stroke-linecap="round"/>
<path d="M457.0 372.0Q463.2 368.1 465.7 361.0" fill="none" stroke="#1b1510" stroke-width="2.35" stroke-linecap="round"/>
<path d="M465.7 361.0Q470.7 359.7 475.1 356.6" fill="none" stroke="#1b1510" stroke-width="1.90" stroke-linecap="round"/>
<path d="M475.1 356.6Q477.9 352.3 478.1 350.4" fill="none" stroke="#1b1510" stroke-width="1.45" stroke-linecap="round"/>
<path d="M475.1 356.6Q480.0 354.5 480.9 353.2" fill="none" stroke="#1b1510" stroke-width="1.45" stroke-linecap="round"/>
<path d="M465.7 361.0Q468.8 358.3 471.5 353.6" fill="none" stroke="#1b1510" stroke-width="1.90" stroke-linecap="round"/>
<path d="M471.5 353.6Q472.3 350.8 472.6 347.1" fill="none" stroke="#1b1510" stroke-width="1.45" stroke-linecap="round"/>
<path d="M471.5 353.6Q472.0 349.0 474.0 347.5" fill="none" stroke="#1b1510" stroke-width="1.45" stroke-linecap="round"/>
<path d="M453.0 368.0Q450.0 365.3 445.6 361.2" fill="none" stroke="#1b1510" stroke-width="2.35" stroke-linecap="round"/>
<path d="M445.6 361.2Q444.8 359.3 444.7 353.4" fill="none" stroke="#1b1510" stroke-width="1.90" stroke-linecap="round"/>
<path d="M444.7 353.4Q448.1 351.3 448.4 349.3" fill="none" stroke="#1b1510" stroke-width="1.45" stroke-linecap="round"/>
<path d="M444.7 353.4Q443.5 351.5 440.1 349.6" fill="none" stroke="#1b1510" stroke-width="1.45" stroke-linecap="round"/>
<path d="M445.6 361.2Q441.5 358.9 440.7 357.9" fill="none" stroke="#1b1510" stroke-width="1.90" stroke-linecap="round"/>
<path d="M440.7 357.9Q441.1 355.5 439.5 353.4" fill="none" stroke="#1b1510" stroke-width="1.45" stroke-linecap="round"/>
<path d="M440.7 357.9Q440.3 359.5 437.3 358.8" fill="none" stroke="#1b1510" stroke-width="1.45" stroke-linecap="round"/>
<path d="M458.0 360.0Q466.4 356.7 472.1 354.9" fill="none" stroke="#1b1510" stroke-width="2.35" stroke-linecap="round"/>
<path d="M472.1 354.9Q477.6 351.6 481.0 352.2" fill="none" stroke="#1b1510" stroke-width="1.90" stroke-linecap="round"/>
<path d="M481.0 352.2Q482.7 352.8 488.3 352.5" fill="none" stroke="#1b1510" stroke-width="1.45" stroke-linecap="round"/>
<path d="M481.0 352.2Q485.9 349.1 487.6 349.0" fill="none" stroke="#1b1510" stroke-width="1.45" stroke-linecap="round"/>
<path d="M472.1 354.9Q475.8 348.5 478.3 345.2" fill="none" stroke="#1b1510" stroke-width="1.90" stroke-linecap="round"/>
<path d="M478.3 345.2Q480.5 341.2 482.7 339.4" fill="none" stroke="#1b1510" stroke-width="1.45" stroke-linecap="round"/>
<path d="M478.3 345.2Q481.2 344.2 482.3 340.1" fill="none" stroke="#1b1510" stroke-width="1.45" stroke-linecap="round"/>
<path d="M452.0 352.0Q446.2 351.1 443.9 348.2" fill="none" stroke="#1b1510" stroke-width="2.35" stroke-linecap="round"/>
<path d="M443.9 348.2Q439.6 349.4 437.4 349.1" fill="none" stroke="#1b1510" stroke-width="1.90" stroke-linecap="round"/>
<path d="M437.4 349.1Q435.3 349.2 434.1 350.8" fill="none" stroke="#1b1510" stroke-width="1.45" stroke-linecap="round"/>
<path d="M437.4 349.1Q436.3 348.0 434.4 346.8" fill="none" stroke="#1b1510" stroke-width="1.45" stroke-linecap="round"/>
<path d="M443.9 348.2Q439.4 348.0 438.4 345.2" fill="none" stroke="#1b1510" stroke-width="1.90" stroke-linecap="round"/>
<path d="M438.4 345.2Q437.2 345.3 437.5 341.4" fill="none" stroke="#1b1510" stroke-width="1.45" stroke-linecap="round"/>
<path d="M438.4 345.2Q437.7 341.6 436.0 341.9" fill="none" stroke="#1b1510" stroke-width="1.45" stroke-linecap="round"/>
<path d="M462.0 346.0Q467.6 341.2 473.9 338.7" fill="none" stroke="#1b1510" stroke-width="2.35" stroke-linecap="round"/>
<path d="M473.9 338.7Q473.9 335.0 475.8 329.7" fill="none" stroke="#1b1510" stroke-width="1.90" stroke-linecap="round"/>
<path d="M475.8 329.7Q478.0 326.2 480.6 324.9" fill="none" stroke="#1b1510" stroke-width="1.45" stroke-linecap="round"/>
<path d="M475.8 329.7Q474.2 327.9 472.7 324.4" fill="none" stroke="#1b1510" stroke-width="1.45" stroke-linecap="round"/>
<path d="M473.9 338.7Q479.9 338.1 484.3 336.1" fill="none" stroke="#1b1510" stroke-width="1.90" stroke-linecap="round"/>
<path d="M484.3 336.1Q487.0 333.8 490.7 330.6" fill="none" stroke="#1b1510" stroke-width="1.45" stroke-linecap="round"/>
<path d="M484.3 336.1Q486.7 332.8 489.9 332.3" fill="none" stroke="#1b1510" stroke-width="1.45" stroke-linecap="round"/>
<path d="M449.0 342.0Q447.6 338.6 444.3 335.5" fill="none" stroke="#1b1510" stroke-width="2.35" stroke-linecap="round"/>
<path d="M444.3 335.5Q442.0 333.6 438.2 334.1" fill="none" stroke="#1b1510" stroke-width="1.90" stroke-linecap="round"/>
<path d="M438.2 334.1Q436.6 333.2 433.7 334.3" fill="none" stroke="#1b1510" stroke-width="1.45" stroke-linecap="round"/>
<path d="M438.2 334.1Q434.9 335.3 433.9 335.8" fill="none" stroke="#1b1510" stroke-width="1.45" stroke-linecap="round"/>
<path d="M444.3 335.5Q441.5 332.2 440.5 331.4" fill="none" stroke="#1b1510" stroke-width="1.90" stroke-linecap="round"/>
<path d="M440.5 331.4Q437.8 332.2 437.6 329.4" fill="none" stroke="#1b1510" stroke-width="1.45" stroke-linecap="round"/>
<path d="M440.5 331.4Q436.7 331.9 436.7 331.5" fill="none" stroke="#1b1510" stroke-width="1.45" stroke-linecap="round"/>
<path d="M466.0 334.0Q467.8 328.9 472.8 325.4" fill="none" stroke="#1b1510" stroke-width="2.35" stroke-linecap="round"/>
<path d="M472.8 325.4Q474.7 320.4 477.6 318.3" fill="none" stroke="#1b1510" stroke-width="1.90" stroke-linecap="round"/>
<path d="M477.6 318.3Q480.6 315.1 483.3 315.5" fill="none" stroke="#1b1510" stroke-width="1.45" stroke-linecap="round"/>
<path d="M477.6 318.3Q482.2 318.5 483.4 315.6" fill="none" stroke="#1b1510" stroke-width="1.45" stroke-linecap="round"/>
<path d="M472.8 325.4Q475.2 321.8 480.1 321.8" fill="none" stroke="#1b1510" stroke-width="1.90" stroke-linecap="round"/>
<path d="M480.1 321.8Q483.5 322.0 485.8 322.4" fill="none" stroke="#1b1510" stroke-width="1.45" stroke-linecap="round"/>
<path d="M480.1 321.8Q483.7 318.0 484.1 317.6" fill="none" stroke="#1b1510" stroke-width="1.45" stroke-linecap="round"/>
<path d="M446.0 332.0Q441.7 329.4 439.2 330.3" fill="none" stroke="#1b1510" stroke-width="2.35" stroke-linecap="round"/>
<path d="M439.2 330.3Q438.0 332.3 435.3 333.0" fill="none" stroke="#1b1510" stroke-width="1.90" stroke-linecap="round"/>
<path d="M435.3 333.0Q433.3 333.4 432.1 332.4" fill="none" stroke="#1b1510" stroke-width="1.45" stroke-linecap="round"/>
<path d="M439.2 330.3Q436.7 331.0 435.4 331.4" fill="none" stroke="#1b1510" stroke-width="1.90" stroke-linecap="round"/>
<path d="M442.0 328.0Q445.5 328.4 451.8 326.0" fill="none" stroke="#1b1510" stroke-width="2.35" stroke-linecap="round"/>
<path d="M451.8 326.0Q456.2 326.2 459.1 328.7" fill="none" stroke="#1b1510" stroke-width="1.90" stroke-linecap="round"/>
<path d="M459.1 328.7Q461.2 332.6 463.1 333.2" fill="none" stroke="#1b1510" stroke-width="1.45" stroke-linecap="round"/>
<path d="M459.1 328.7Q459.9 330.8 461.8 332.0" fill="none" stroke="#1b1510" stroke-width="1.45" stroke-linecap="round"/>
<path d="M451.8 326.0Q456.2 326.7 457.5 329.7" fill="none" stroke="#1b1510" stroke-width="1.90" stroke-linecap="round"/>
<path d="M457.5 329.7Q458.9 333.0 458.0 334.4" fill="none" stroke="#1b1510" stroke-width="1.45" stroke-linecap="round"/>
<path d="M457.5 329.7Q461.1 329.2 462.2 329.7" fill="none" stroke="#1b1510" stroke-width="1.45" stroke-linecap="round"/>
<path d="M445.0 350.0Q439.6 350.2 438.1 349.0" fill="none" stroke="#1b1510" stroke-width="2.35" stroke-linecap="round"/>
<path d="M438.1 349.0Q437.9 349.9 434.3 350.5" fill="none" stroke="#1b1510" stroke-width="1.90" stroke-linecap="round"/>
<path d="M438.1 349.0Q436.7 350.0 433.1 349.0" fill="none" stroke="#1b1510" stroke-width="1.90" stroke-linecap="round"/>
<path d="M433.1 349.0Q431.4 348.1 430.2 348.2" fill="none" stroke="#1b1510" stroke-width="1.45" stroke-linecap="round"/>
<path d="M433.1 349.0Q432.2 351.6 430.6 351.8" fill="none" stroke="#1b1510" stroke-width="1.45" stroke-linecap="round"/>
<path d="M470.0 322.0Q474.1 320.5 479.0 322.9" fill="none" stroke="#1b1510" stroke-width="2.35" stroke-linecap="round"/>
<path d="M479.0 322.9Q482.1 326.1 484.7 325.3" fill="none" stroke="#1b1510" stroke-width="1.90" stroke-linecap="round"/>
<path d="M484.7 325.3Q487.5 326.3 488.5 324.7" fill="none" stroke="#1b1510" stroke-width="1.45" stroke-linecap="round"/>
<path d="M484.7 325.3Q486.2 326.6 488.6 326.9" fill="none" stroke="#1b1510" stroke-width="1.45" stroke-linecap="round"/>
<path d="M479.0 322.9Q482.8 323.7 484.4 322.2" fill="none" stroke="#1b1510" stroke-width="1.90" stroke-linecap="round"/>
<path d="M484.4 322.2Q487.1 324.8 487.1 324.2" fill="none" stroke="#1b1510" stroke-width="1.45" stroke-linecap="round"/>
<path d="M484.4 322.2Q486.7 322.2 487.5 323.8" fill="none" stroke="#1b1510" stroke-width="1.45" stroke-linecap="round"/>
<path d="M448.0 362.0Q443.0 361.8 440.2 360.1" fill="none" stroke="#1b1510" stroke-width="2.35" stroke-linecap="round"/>
<path d="M440.2 360.1Q436.9 359.0 434.5 360.4" fill="none" stroke="#1b1510" stroke-width="1.90" stroke-linecap="round"/>
<path d="M434.5 360.4Q434.1 361.1 432.1 362.5" fill="none" stroke="#1b1510" stroke-width="1.45" stroke-linecap="round"/>
<path d="M434.5 360.4Q432.4 359.7 430.8 359.0" fill="none" stroke="#1b1510" stroke-width="1.45" stroke-linecap="round"/>
<path d="M440.2 360.1Q438.7 360.6 435.1 360.1" fill="none" stroke="#1b1510" stroke-width="1.90" stroke-linecap="round"/>
<path d="M435.1 360.1Q432.3 361.4 431.7 360.4" fill="none" stroke="#1b1510" stroke-width="1.45" stroke-linecap="round"/>
<path d="M435.1 360.1Q431.7 359.8 431.6 359.5" fill="none" stroke="#1b1510" stroke-width="1.45" stroke-linecap="round"/>
<path d="M474.0 352.0Q477.8 349.2 483.8 350.0" fill="none" stroke="#1b1510" stroke-width="2.35" stroke-linecap="round"/>
<path d="M483.8 350.0Q486.4 349.4 488.0 345.9" fill="none" stroke="#1b1510" stroke-width="1.90" stroke-linecap="round"/>
<path d="M488.0 345.9Q488.7 342.8 489.1 342.7" fill="none" stroke="#1b1510" stroke-width="1.45" stroke-linecap="round"/>
<path d="M488.0 345.9Q488.3 345.3 490.6 343.8" fill="none" stroke="#1b1510" stroke-width="1.45" stroke-linecap="round"/>
<path d="M483.8 350.0Q485.4 348.6 490.9 348.8" fill="none" stroke="#1b1510" stroke-width="1.90" stroke-linecap="round"/>
<path d="M490.9 348.8Q492.8 348.7 495.8 346.2" fill="none" stroke="#1b1510" stroke-width="1.45" stroke-linecap="round"/>
<path d="M490.9 348.8Q494.7 347.1 495.1 348.8" fill="none" stroke="#1b1510" stroke-width="1.45" stroke-linecap="round"/>
<path d="M478.0 338.0Q480.4 334.8 485.4 332.9" fill="none" stroke="#1b1510" stroke-width="2.35" stroke-linecap="round"/>
<path d="M485.4 332.9Q488.1 333.2 491.6 331.0" fill="none" stroke="#1b1510" stroke-width="1.90" stroke-linecap="round"/>
<path d="M491.6 331.0Q490.8 328.5 493.3 327.4" fill="none" stroke="#1b1510" stroke-width="1.45" stroke-linecap="round"/>
<path d="M491.6 331.0Q492.6 328.0 494.0 327.1" fill="none" stroke="#1b1510" stroke-width="1.45" stroke-linecap="round"/>
<path d="M485.4 332.9Q488.5 331.3 491.0 330.7" fill="none" stroke="#1b1510" stroke-width="1.90" stroke-linecap="round"/>
<path d="M491.0 330.7Q491.5 328.5 493.5 327.5" fill="none" stroke="#1b1510" stroke-width="1.45" stroke-linecap="round"/>
<path d="M491.0 330.7Q493.1 328.4 492.3 327.3" fill="none" stroke="#1b1510" stroke-width="1.45" stroke-linecap="round"/>
<path d="M341 392 C346 380 356 372 368 372 C376 373 380 381 377 388 C371 395 358 396 348 394 Z" fill="#111" stroke="#111" stroke-width="1"/>
<rect x="354.5" y="379" width="4" height="4" fill="#fff" transform="rotate(-20 356.5 381)"/>
<path d="M306.0 410.0C306.2 407.3 306.0 399.0 307.0 394.0C308.0 389.0 309.0 384.7 312.0 380.0C315.0 375.3 317.9 371.5 325.0 366.0C332.1 360.5 344.9 352.2 354.8 347.0C364.8 341.8 375.2 337.8 384.7 335.0C394.2 332.2 405.9 330.6 411.6 330.5C417.3 330.4 418.6 332.5 419.1 334.4C419.6 336.3 416.9 339.6 414.6 341.9C412.4 344.1 407.1 346.9 405.6 347.9" fill="none" stroke="#141414" stroke-width="1.3" stroke-linecap="round" stroke-linejoin="round"/>
<path d="M405.6 347.9C407.1 346.9 411.9 342.4 414.6 341.9C417.3 341.4 419.5 345.4 422.0 344.9C424.5 344.4 428.5 341.4 429.5 338.9C430.5 336.4 426.8 332.1 428.0 329.9C429.2 327.6 435.5 326.1 437.0 325.4" fill="none" stroke="#141414" stroke-width="1.2" stroke-linecap="round" stroke-linejoin="round"/>
<path d="M332.3 411.4C330.6 410.0 325.0 405.1 322.0 403.0C319.0 400.9 318.2 399.7 314.4 398.7C310.6 397.7 303.0 396.2 299.4 397.2C295.8 398.2 293.2 401.5 292.7 404.7C292.2 407.9 293.5 413.4 296.4 416.6C299.3 419.8 303.9 422.4 309.9 424.1C315.9 425.9 324.8 426.9 332.3 427.1C339.8 427.4 347.3 425.4 354.8 425.6C362.3 425.9 367.2 428.9 377.2 428.6C387.2 428.4 400.9 427.1 414.6 424.1C428.3 421.1 448.5 414.7 459.4 410.7C470.3 406.7 473.8 403.2 480.0 400.0C486.2 396.8 493.1 392.9 496.8 391.2C500.5 389.4 500.2 389.1 502.0 389.5C503.8 389.9 506.4 392.8 507.3 393.5" fill="none" stroke="#141414" stroke-width="1.3" stroke-linecap="round" stroke-linejoin="round"/>
<path d="M374.2 376.3C375.9 375.1 381.2 370.6 384.7 368.8C388.2 367.1 393.4 366.3 395.1 365.8" fill="none" stroke="#141414" stroke-width="1.1" stroke-linecap="round" stroke-linejoin="round"/>
<path d="M391.0 367.0C391.7 365.5 393.6 360.2 395.0 358.0C396.4 355.8 399.3 353.1 399.6 353.8C399.9 354.5 397.8 360.0 397.0 362.0C396.2 364.0 395.4 365.2 395.1 365.8" fill="none" stroke="#141414" stroke-width="1.0" stroke-linecap="round" stroke-linejoin="round"/>
<path d="M416.0 404.7C417.0 405.2 420.1 407.9 422.0 408.0C423.9 408.1 427.0 405.1 427.3 405.5C427.6 405.9 425.1 409.8 424.0 410.7C422.9 411.6 421.9 409.5 420.6 410.7C419.3 411.9 417.3 415.8 416.0 418.0C414.7 420.2 413.5 423.1 413.0 424.1" fill="none" stroke="#141414" stroke-width="1.1" stroke-linecap="round" stroke-linejoin="round"/>
<path d="M259.0 447.0C260.2 446.3 264.2 442.8 266.0 443.0C267.8 443.2 269.7 446.2 270.0 448.0C270.3 449.8 269.3 453.3 268.0 454.0C266.7 454.7 263.0 452.3 262.0 452.0" fill="none" stroke="#141414" stroke-width="1.0" stroke-linecap="round" stroke-linejoin="round"/>
<path d="M262 452 C264 446 270 445 272 450 C272 455 268 457 264 455 Z" fill="#efd4c3" stroke="#222" stroke-width="0.9"/>
<path d="M249.5 317.6C252.2 324.7 260.5 341.9 266.0 360.0C271.5 378.1 279.7 415.2 282.4 426.3" fill="none" stroke="#222" stroke-width="1.15"/>
<path d="M219.6 359.4C224.3 363.3 239.3 374.2 248.0 383.0C256.7 391.8 268.0 407.2 272.0 412.0" fill="none" stroke="#222" stroke-width="1.15"/>
<path d="M197.5 389.6C203.8 391.2 223.6 394.8 235.0 399.0C246.4 403.2 260.8 412.3 266.0 415.0" fill="none" stroke="#222" stroke-width="1.15"/>
<path d="M330.3 318.6C327.9 323.0 319.6 334.8 316.0 345.0C312.4 355.2 310.4 368.1 309.0 380.0C307.6 391.9 308.0 410.4 307.8 416.5" fill="none" stroke="#222" stroke-width="1.15"/>
<path d="M307.0 453.6C315.8 459.7 341.9 474.2 360.0 490.0C378.1 505.8 406.2 538.6 415.4 548.3" fill="none" stroke="#222" stroke-width="1.15"/>
<path d="M324.4 447.4C335.3 452.5 369.6 465.1 390.0 478.0C410.4 490.9 437.1 516.8 446.5 524.6" fill="none" stroke="#222" stroke-width="1.15"/>
<path d="M332.0 441.0C343.3 444.5 378.4 451.6 400.0 462.0C421.6 472.4 451.2 496.5 461.5 503.4" fill="none" stroke="#222" stroke-width="1.15"/>
<path d="M300.0 466.0C308.3 470.8 336.7 484.3 350.0 495.0C363.3 505.7 375.0 524.2 380.0 530.0" fill="none" stroke="#222" stroke-width="1.15"/>
<rect x="333.3" y="267" width="5.5" height="106" fill="#1a1a1a"/>
<path d="M113.2 302.1 H135.1 L158 291 V335 L135.1 323.1 H113.2 Z" fill="#000"/>
<path d="M162.8 296.6 Q175.5 312.6 162.8 328.3" fill="none" stroke="#000" stroke-width="1.6"/>
<path d="M169.5 290.2 Q188.5 312.6 169.5 335.3" fill="none" stroke="#000" stroke-width="1.6"/>
<path d="M148.1 453.6 L189 455.4 L189 468.9 L148.1 467.4 Z" fill="#00bdf2"/>
<path d="M189 455.8 L204 455.2 L204 472.4 L189 469.5 Z" fill="#8f8f8f" stroke="#555" stroke-width="0.8"/>
<path d="M203 474 L204.5 456 C205.5 449 212 447 215 452 L217 457 L253.3 465.5 L253.3 478.5 L217 472 L214 478 C211 481 205 480 203 474 Z" fill="#9a9a9a" stroke="#444" stroke-width="1"/>
<path d="M252.8 480.0 C256.3 488.9 262.8 494.7 262.8 499.7 A10.0 10.0 0 0 1 242.8 499.7 C242.8 494.7 249.3 488.9 252.8 480.0Z" fill="#63a9cb"/>
<path d="M246.6 500.2 Q246.8 505.9 252.3 506.9" fill="none" stroke="#fff" stroke-width="1.7" stroke-linecap="round"/>
<line x1="1140.0" y1="111.0" x2="1724.0" y2="111.0" stroke="#000" stroke-width="2.8" />
<path d="M1125.8 111.0 L1143.0 102.0 L1143.0 120.0" fill="#000" stroke="none" stroke-width="1" />
<path d="M1738.5 111.0 L1721.5 102.3 L1721.5 120.3" fill="#000" stroke="none" stroke-width="1" />
<line x1="1166.2" y1="111.0" x2="1166.2" y2="149.7" stroke="#000" stroke-width="2.6" />
<line x1="1242.4" y1="111.0" x2="1242.4" y2="149.7" stroke="#000" stroke-width="2.6" />
<line x1="1318.6" y1="111.0" x2="1318.6" y2="149.7" stroke="#000" stroke-width="2.6" />
<line x1="1394.8" y1="111.0" x2="1394.8" y2="149.7" stroke="#000" stroke-width="2.6" />
<line x1="1471.0" y1="111.0" x2="1471.0" y2="149.7" stroke="#000" stroke-width="2.6" />
<line x1="1547.2" y1="111.0" x2="1547.2" y2="149.7" stroke="#000" stroke-width="2.6" />
<line x1="1623.4" y1="111.0" x2="1623.4" y2="149.7" stroke="#000" stroke-width="2.6" />
<line x1="1699.6" y1="111.0" x2="1699.6" y2="149.7" stroke="#000" stroke-width="2.6" />
<text transform="translate(1147.13 98.90) scale(1.0193 1)" font-family="DejaVu Sans, sans-serif" font-size="26.85" font-weight="normal" fill="#000">-1</text>
<text transform="translate(1234.06 98.51) scale(1.0000 1)" font-family="DejaVu Sans, sans-serif" font-size="25.96" font-weight="normal" fill="#000">0</text>
<text transform="translate(1308.81 98.90) scale(1.0000 1)" font-family="DejaVu Sans, sans-serif" font-size="26.85" font-weight="normal" fill="#000">1</text>
<text transform="translate(1385.52 98.90) scale(1.0000 1)" font-family="DejaVu Sans, sans-serif" font-size="26.49" font-weight="normal" fill="#000">2</text>
<text transform="translate(1462.82 98.51) scale(1.0000 1)" font-family="DejaVu Sans, sans-serif" font-size="25.96" font-weight="normal" fill="#000">3</text>
<text transform="translate(1538.54 98.90) scale(1.0000 1)" font-family="DejaVu Sans, sans-serif" font-size="26.85" font-weight="normal" fill="#000">4</text>
<text transform="translate(1614.78 98.51) scale(1.0000 1)" font-family="DejaVu Sans, sans-serif" font-size="26.31" font-weight="normal" fill="#000">5</text>
<text transform="translate(1687.40 98.51) scale(1.2128 1)" font-family="DejaVu Sans, sans-serif" font-size="25.96" font-weight="normal" fill="#000">6</text>
<text transform="translate(990.33 140.76) scale(0.9920 1)" font-family="Liberation Sans, Arial, sans-serif" font-size="34.01" font-weight="normal" fill="#000">Time (s)</text>
<path d="M1318.6 220.0 L1357.7 220.0 L1344.9 239.5 L1355.3 239.5 L1337.4 268.5 L1317.6 268.5" fill="#ff0000" stroke="none" stroke-width="1" />
<path d="M1380.0 220.0 L1470.5 220.0 L1470.5 268.5 L1358.3 268.5 L1376.3 240.5 L1366.4 240.5" fill="#ff0000" stroke="none" stroke-width="1" />
<path d="M1470.0 220.0 L1700.7 220.0 L1670.0 268.5 L1470.0 268.5" fill="#000" stroke="none" stroke-width="1" />
<text transform="translate(1552.57 253.30) scale(1.0775 1)" font-family="Liberation Sans, Arial, sans-serif" font-size="32.32" font-weight="normal" fill="#fff">ITI</text>
<line x1="1684.0" y1="244.4" x2="1741.0" y2="244.4" stroke="#000" stroke-width="2.4" />
<path d="M1756.0 244.6 L1739.6 235.4 L1739.6 254.0" fill="#000" stroke="none" stroke-width="1" />
<line x1="1712.5" y1="229.5" x2="1702.3" y2="257.5" stroke="#000" stroke-width="2.2" />
<line x1="1718.0" y1="229.5" x2="1707.8" y2="257.5" stroke="#000" stroke-width="2.2" />
<path d="M1375.4 169.6 C1380.4 183.1 1389.6 192.6 1389.6 199.7 A14.2 14.2 0 0 1 1361.2 199.7 C1361.2 192.6 1370.4 183.1 1375.4 169.6Z" fill="#63a9cb"/>
<path d="M1366.6 200.4 Q1366.9 208.5 1374.7 209.9" fill="none" stroke="#fff" stroke-width="2.4" stroke-linecap="round"/>
<text transform="translate(1329.44 305.68) scale(1.0708 1)" font-family="Liberation Sans, Arial, sans-serif" font-size="32.24" font-weight="normal" fill="#000">Lick</text>
<text transform="translate(1517.69 300.25) scale(0.9754 1)" font-family="Liberation Sans, Arial, sans-serif" font-size="34.83" font-weight="normal" fill="#000">reinforced</text>
<text transform="translate(1566.69 341.75) scale(0.9766 1)" font-family="Liberation Sans, Arial, sans-serif" font-size="34.60" font-weight="normal" fill="#000">trial</text>
<path d="M1171.0 318.0 L1243.0 318.0 L1243.0 366.5 L1139.5 366.5" fill="#000" stroke="none" stroke-width="1" />
<rect x="1242.8" y="318" width="76.3" height="48.5" fill="#ffff1e"/>
<text transform="translate(1188.35 354.20) scale(1.0703 1)" font-family="Liberation Sans, Arial, sans-serif" font-size="33.77" font-weight="normal" fill="#fff">ITI</text>
<text transform="translate(1242.42 355.06) scale(0.9986 1)" font-family="Liberation Sans, Arial, sans-serif" font-size="34.29" font-weight="normal" fill="#000">Tone</text>
<line x1="1100.0" y1="341.3" x2="1156.0" y2="341.3" stroke="#000" stroke-width="2.4" />
<path d="M1086.0 341.5 L1102.5 333.0 L1102.5 351.0" fill="#000" stroke="none" stroke-width="1" />
<line x1="1131.5" y1="328.0" x2="1122.0" y2="355.0" stroke="#000" stroke-width="2.2" />
<line x1="1137.0" y1="328.0" x2="1127.5" y2="355.0" stroke="#000" stroke-width="2.2" />
<rect x="1317.7" y="416" width="153.3" height="48.4" fill="#ff0000"/>
<path d="M1470.8 416.0 L1700.0 416.0 L1669.3 464.4 L1470.8 464.4" fill="#000" stroke="none" stroke-width="1" />
<text transform="translate(1552.81 449.60) scale(1.0770 1)" font-family="Liberation Sans, Arial, sans-serif" font-size="32.90" font-weight="normal" fill="#fff">ITI</text>
<line x1="1683.0" y1="440.7" x2="1741.0" y2="440.7" stroke="#000" stroke-width="2.4" />
<path d="M1755.5 440.9 L1739.8 431.8 L1739.8 450.2" fill="#000" stroke="none" stroke-width="1" />
<line x1="1712.7" y1="427.5" x2="1702.1" y2="454.4" stroke="#000" stroke-width="2.2" />
<line x1="1718.2" y1="427.5" x2="1707.6" y2="454.4" stroke="#000" stroke-width="2.2" />
<path d="M1447.9 361.0 C1452.8 373.2 1461.8 381.2 1461.8 388.1 A13.9 13.9 0 0 1 1434.0 388.1 C1434.0 381.2 1443.0 373.2 1447.9 361.0Z" fill="#63a9cb"/>
<path d="M1439.3 388.8 Q1439.6 396.7 1447.2 398.1" fill="none" stroke="#fff" stroke-width="2.4" stroke-linecap="round"/>
<line x1="1424.0" y1="359.5" x2="1471.5" y2="406.8" stroke="#e8101e" stroke-width="2.6" />
<line x1="1471.5" y1="359.5" x2="1424.0" y2="406.8" stroke="#e8101e" stroke-width="2.6" />
<text transform="translate(1331.27 495.29) scale(1.0907 1)" font-family="Liberation Sans, Arial, sans-serif" font-size="31.29" font-weight="normal" fill="#000">No Lick</text>
<text transform="translate(1491.20 495.15) scale(0.9776 1)" font-family="Liberation Sans, Arial, sans-serif" font-size="34.60" font-weight="normal" fill="#000">non-reinforced</text>
<text transform="translate(1573.50 537.55) scale(0.9709 1)" font-family="Liberation Sans, Arial, sans-serif" font-size="34.60" font-weight="normal" fill="#000">trial</text>
<g fill="none" stroke-linejoin="miter">
<path d="M144.4 1058.3 L171.8 1055.7 L199.2 951.0 L226.6 881.6 L254.0 898.6 L281.4 862.0 L308.8 766.7 L336.2 813.4 L363.6 793.9 L391.0 764.2 L418.4 793.9 L445.8 796.4 L473.2 757.3" stroke="#000000" stroke-width="3.6" stroke-dasharray="9 5"/>
<path d="M144.4 928.3 L171.8 851.9 L199.2 953.5 L226.6 922.6 L254.0 819.1 L281.4 780.0 L308.8 843.1" stroke="#ff0000" stroke-width="3.6" stroke-dasharray="9 5"/>
<path d="M144.4 780.0 L171.8 800.8 L199.2 763.0 L226.6 858.2 L254.0 771.8 L281.4 780.6 L308.8 791.3 L336.2 798.3" stroke="#0000ff" stroke-width="3.6" stroke-dasharray="9 5"/>
<path d="M144.4 766.7 L171.8 756.0 L199.2 791.3 L226.6 753.5 L254.0 752.9 L281.4 748.4 L308.8 756.0" stroke="#800080" stroke-width="3.6" stroke-dasharray="9 5"/>
<path d="M144.4 796.4 L171.8 762.3 L199.2 752.9 L226.6 822.3" stroke="#00ff00" stroke-width="3.6" stroke-dasharray="9 5"/>
<path d="M308.8 756.0 L336.2 810.3 L363.6 803.3 L391.0 792.6 L418.4 798.3 L445.8 827.3 L473.2 795.8 L500.6 859.5" stroke="#800080" stroke-width="9.8"/>
<path d="M473.2 757.3 L500.6 798.3 L528.0 863.3 L555.4 792.6 L582.8 783.1 L610.2 813.4 L637.6 771.2 L665.0 785.0 L692.4 766.7" stroke="#000000" stroke-width="9.8"/>
<path d="M308.8 843.1 L336.2 798.9 L363.6 754.1 L391.0 855.7 L418.4 797.0 L445.8 749.7" stroke="#ff0000" stroke-width="9.8"/>
<path d="M336.2 798.3 L363.6 833.0 L391.0 747.2 L418.4 774.3 L445.8 851.9 L473.2 830.5 L500.6 763.6" stroke="#0000ff" stroke-width="9.8"/>
<path d="M226.6 822.3 L254.0 799.5 L281.4 824.8 L308.8 797.0 L336.2 788.2 L363.6 817.2 L391.0 824.8 L418.4 810.9 L445.8 819.7" stroke="#00ff00" stroke-width="9.8"/>
<path d="M692.4 766.7 L719.8 816.6 L747.2 829.8 L774.6 786.3 L802.0 775.6 L829.4 771.2 L856.8 771.2" stroke="#000000" stroke-width="4.5" stroke-dasharray="10 6"/>
<path d="M692.4 766.7 L719.8 816.6 L747.2 829.8 L774.6 786.3 L802.0 775.6 L829.4 771.2 L856.8 771.2" stroke="#000000" stroke-width="9" stroke-dasharray="8 22" stroke-dashoffset="-2"/>
<path d="M445.8 749.7 L473.2 809.6 L500.6 768.6 L528.0 778.1 L555.4 763.6 L582.8 792.0 L610.2 752.9" stroke="#ff0000" stroke-width="4.5" stroke-dasharray="10 6"/>
<path d="M445.8 749.7 L473.2 809.6 L500.6 768.6 L528.0 778.1 L555.4 763.6 L582.8 792.0 L610.2 752.9" stroke="#ff0000" stroke-width="9" stroke-dasharray="8 22" stroke-dashoffset="-2"/>
<path d="M500.6 763.6 L528.0 777.5 L555.4 756.0 L582.8 748.4 L610.2 748.4 L637.6 748.4 L665.0 751.0 L692.4 768.0 L719.8 749.7 L747.2 748.4 L774.6 748.4" stroke="#0000ff" stroke-width="4.5" stroke-dasharray="10 6"/>
<path d="M500.6 763.6 L528.0 777.5 L555.4 756.0 L582.8 748.4 L610.2 748.4 L637.6 748.4 L665.0 751.0 L692.4 768.0 L719.8 749.7 L747.2 748.4 L774.6 748.4" stroke="#0000ff" stroke-width="9" stroke-dasharray="8 22" stroke-dashoffset="-2"/>
<path d="M500.6 859.5 L528.0 822.9 L555.4 801.4 L582.8 816.6 L610.2 830.5 L637.6 833.6 L665.0 789.5 L692.4 814.1 L719.8 833.6 L747.2 785.0" stroke="#800080" stroke-width="4.5" stroke-dasharray="10 6"/>
<path d="M500.6 859.5 L528.0 822.9 L555.4 801.4 L582.8 816.6 L610.2 830.5 L637.6 833.6 L665.0 789.5 L692.4 814.1 L719.8 833.6 L747.2 785.0" stroke="#800080" stroke-width="9" stroke-dasharray="8 22" stroke-dashoffset="-2"/>
<path d="M445.8 819.7 L473.2 800.2 L500.6 814.1 L528.0 814.1 L555.4 795.8 L582.8 807.8 L610.2 814.1" stroke="#00ff00" stroke-width="4.5" stroke-dasharray="10 6"/>
<path d="M445.8 819.7 L473.2 800.2 L500.6 814.1 L528.0 814.1 L555.4 795.8 L582.8 807.8 L610.2 814.1" stroke="#00ff00" stroke-width="9" stroke-dasharray="8 22" stroke-dashoffset="-2"/>
</g>
<path d="M144.3 875.9 H850" stroke="#000" stroke-width="4" stroke-dasharray="14.5 31" stroke-dashoffset="-3"/>
<path d="M144.5 717.5 V1128.3 H857" fill="none" stroke="#000" stroke-width="2.6"/>
<line x1="144.5" y1="1002.1" x2="151.5" y2="1002.1" stroke="#000" stroke-width="2.4" />
<line x1="144.5" y1="875.9" x2="151.5" y2="875.9" stroke="#000" stroke-width="2.4" />
<line x1="144.5" y1="749.7" x2="151.5" y2="749.7" stroke="#000" stroke-width="2.4" />
<line x1="254.0" y1="1128.3" x2="254.0" y2="1120.3" stroke="#000" stroke-width="2.4" />
<line x1="391.0" y1="1128.3" x2="391.0" y2="1120.3" stroke="#000" stroke-width="2.4" />
<line x1="528.0" y1="1128.3" x2="528.0" y2="1120.3" stroke="#000" stroke-width="2.4" />
<line x1="665.0" y1="1128.3" x2="665.0" y2="1120.3" stroke="#000" stroke-width="2.4" />
<line x1="802.0" y1="1128.3" x2="802.0" y2="1120.3" stroke="#000" stroke-width="2.4" />
<text transform="translate(91.94 1139.32) scale(0.9519 1)" font-family="DejaVu Sans, sans-serif" font-size="31.79" font-weight="normal" fill="#000">40</text>
<text transform="translate(91.94 1013.12) scale(0.9519 1)" font-family="DejaVu Sans, sans-serif" font-size="31.79" font-weight="normal" fill="#000">60</text>
<text transform="translate(91.94 886.92) scale(0.9519 1)" font-family="DejaVu Sans, sans-serif" font-size="31.79" font-weight="normal" fill="#000">80</text>
<text transform="translate(72.57 760.72) scale(0.9519 1)" font-family="DejaVu Sans, sans-serif" font-size="31.79" font-weight="normal" fill="#000">100</text>
<text transform="translate(244.54 1167.72) scale(0.9519 1)" font-family="DejaVu Sans, sans-serif" font-size="31.79" font-weight="normal" fill="#000">5</text>
<text transform="translate(371.10 1167.72) scale(0.9519 1)" font-family="DejaVu Sans, sans-serif" font-size="31.79" font-weight="normal" fill="#000">10</text>
<text transform="translate(508.41 1167.72) scale(0.9519 1)" font-family="DejaVu Sans, sans-serif" font-size="31.79" font-weight="normal" fill="#000">15</text>
<text transform="translate(645.63 1167.72) scale(0.9519 1)" font-family="DejaVu Sans, sans-serif" font-size="31.79" font-weight="normal" fill="#000">20</text>
<text transform="translate(782.94 1167.72) scale(0.9519 1)" font-family="DejaVu Sans, sans-serif" font-size="31.79" font-weight="normal" fill="#000">25</text>
<text transform="translate(398.03 1209.26) scale(0.9801 1)" font-family="Liberation Sans, Arial, sans-serif" font-size="34.42" font-weight="normal" fill="#000"># of Session</text>
<text transform="translate(57.53 1058.68) rotate(-90) scale(0.9996 1)" font-family="Liberation Sans, Arial, sans-serif" font-size="33.69" font-weight="normal" fill="#000">% of Responses</text>
<line x1="476.6" y1="951.9" x2="543.8" y2="951.9" stroke="#111" stroke-width="3" stroke-dasharray="7.7 3.8"/>
<line x1="476.6" y1="989.5" x2="543.8" y2="989.5" stroke="#222" stroke-width="8.2" />
<line x1="476.6" y1="1053.3" x2="543.8" y2="1053.3" stroke="#111" stroke-width="3" stroke-dasharray="7 4"/>
<rect x="476.6" y="1049.3" width="8.4" height="8" fill="#111"/>
<rect x="500.9" y="1049.3" width="8.4" height="8" fill="#111"/>
<rect x="524.0" y="1049.3" width="8.4" height="8" fill="#111"/>
<text transform="translate(555.36 959.10) scale(1.0176 1)" font-family="DejaVu Sans, sans-serif" font-size="26.60" font-weight="normal" fill="#000">non-recording session</text>
<text transform="translate(555.36 996.60) scale(1.0176 1)" font-family="DejaVu Sans, sans-serif" font-size="26.60" font-weight="normal" fill="#000">recording session</text>
<text transform="translate(618.69 1029.00) scale(1.0224 1)" font-family="DejaVu Sans, sans-serif" font-size="26.60" font-weight="normal" fill="#000">(Control)</text>
<text transform="translate(555.36 1060.00) scale(1.0176 1)" font-family="DejaVu Sans, sans-serif" font-size="26.60" font-weight="normal" fill="#000">recording session</text>
<text transform="translate(598.20 1092.40) scale(1.0175 1)" font-family="DejaVu Sans, sans-serif" font-size="26.60" font-weight="normal" fill="#000">(Fluoxetine)</text>
<path d="M1064.6 701 V1128.4 H1786.4" fill="none" stroke="#000" stroke-width="2.4"/>
<line x1="1064.6" y1="986.0" x2="1072.5" y2="986.0" stroke="#000" stroke-width="2.2" />
<line x1="1064.6" y1="843.6" x2="1072.5" y2="843.6" stroke="#000" stroke-width="2.2" />
<line x1="1064.6" y1="701.2" x2="1072.5" y2="701.2" stroke="#000" stroke-width="2.2" />
<line x1="1140.6" y1="1128.4" x2="1140.6" y2="1120.4" stroke="#000" stroke-width="2.2" />
<line x1="1292.4" y1="1128.4" x2="1292.4" y2="1120.4" stroke="#000" stroke-width="2.2" />
<line x1="1444.3" y1="1128.4" x2="1444.3" y2="1120.4" stroke="#000" stroke-width="2.2" />
<line x1="1596.1" y1="1128.4" x2="1596.1" y2="1120.4" stroke="#000" stroke-width="2.2" />
<line x1="1748.0" y1="1128.4" x2="1748.0" y2="1120.4" stroke="#000" stroke-width="2.2" />
<text transform="translate(994.82 715.43) scale(0.9745 1)" font-family="DejaVu Sans, sans-serif" font-size="31.52" font-weight="normal" fill="#000">100</text>
<text transform="translate(1014.48 856.33) scale(0.9745 1)" font-family="DejaVu Sans, sans-serif" font-size="31.52" font-weight="normal" fill="#000">90</text>
<text transform="translate(1014.48 999.23) scale(0.9745 1)" font-family="DejaVu Sans, sans-serif" font-size="31.52" font-weight="normal" fill="#000">80</text>
<text transform="translate(1014.48 1138.43) scale(0.9745 1)" font-family="DejaVu Sans, sans-serif" font-size="31.52" font-weight="normal" fill="#000">70</text>
<text transform="translate(1107.85 1167.78) scale(1.0434 1)" font-family="Liberation Sans, Arial, sans-serif" font-size="32.25" font-weight="normal" fill="#000">0-20</text>
<text transform="translate(1249.74 1167.78) scale(1.0434 1)" font-family="Liberation Sans, Arial, sans-serif" font-size="32.25" font-weight="normal" fill="#000">20-40</text>
<text transform="translate(1402.76 1167.78) scale(1.0434 1)" font-family="Liberation Sans, Arial, sans-serif" font-size="32.25" font-weight="normal" fill="#000">40-60</text>
<text transform="translate(1553.84 1167.78) scale(1.0434 1)" font-family="Liberation Sans, Arial, sans-serif" font-size="32.25" font-weight="normal" fill="#000">60-80</text>
<text transform="translate(1692.70 1167.78) scale(1.0434 1)" font-family="Liberation Sans, Arial, sans-serif" font-size="32.25" font-weight="normal" fill="#000">80-100</text>
<text transform="translate(1295.99 1208.55) scale(1.0306 1)" font-family="Liberation Sans, Arial, sans-serif" font-size="32.62" font-weight="normal" fill="#000">Session section (%)</text>
<text transform="translate(979.86 1030.96) rotate(-90) scale(0.9751 1)" font-family="Liberation Sans, Arial, sans-serif" font-size="34.01" font-weight="normal" fill="#000">% of Responses</text>
<path d="M1140.6 796.8 L1292.4 793.2 L1444.3 821.5 L1596.1 830.1 L1748.0 1029.0" fill="none" stroke="#0000ff" stroke-width="4.6"/>
<line x1="1140.6" y1="784.8" x2="1140.6" y2="808.7" stroke="#0000ff" stroke-width="3.6" />
<line x1="1126.3" y1="784.8" x2="1154.9" y2="784.8" stroke="#0000ff" stroke-width="3.6" />
<line x1="1126.3" y1="808.7" x2="1154.9" y2="808.7" stroke="#0000ff" stroke-width="3.6" />
<line x1="1292.4" y1="781.2" x2="1292.4" y2="805.2" stroke="#0000ff" stroke-width="3.6" />
<line x1="1278.1" y1="781.2" x2="1306.7" y2="781.2" stroke="#0000ff" stroke-width="3.6" />
<line x1="1278.1" y1="805.2" x2="1306.7" y2="805.2" stroke="#0000ff" stroke-width="3.6" />
<line x1="1444.3" y1="808.7" x2="1444.3" y2="834.3" stroke="#0000ff" stroke-width="3.6" />
<line x1="1430.0" y1="808.7" x2="1458.6" y2="808.7" stroke="#0000ff" stroke-width="3.6" />
<line x1="1430.0" y1="834.3" x2="1458.6" y2="834.3" stroke="#0000ff" stroke-width="3.6" />
<line x1="1596.1" y1="815.3" x2="1596.1" y2="844.9" stroke="#0000ff" stroke-width="3.6" />
<line x1="1581.8" y1="815.3" x2="1610.4" y2="815.3" stroke="#0000ff" stroke-width="3.6" />
<line x1="1581.8" y1="844.9" x2="1610.4" y2="844.9" stroke="#0000ff" stroke-width="3.6" />
<line x1="1748.0" y1="1000.0" x2="1748.0" y2="1058.1" stroke="#0000ff" stroke-width="3.6" />
<line x1="1733.7" y1="1000.0" x2="1762.3" y2="1000.0" stroke="#0000ff" stroke-width="3.6" />
<line x1="1733.7" y1="1058.1" x2="1762.3" y2="1058.1" stroke="#0000ff" stroke-width="3.6" />
<line x1="1596.9" y1="717.0" x2="1749.4" y2="717.0" stroke="#000" stroke-width="4" />
<text transform="translate(1650.22 714.33) scale(1.0144 1)" font-family="DejaVu Sans, sans-serif" font-size="33.55" font-weight="bold" fill="#000">***</text>
<g stroke="#262626" stroke-width="4.38" fill="none" transform="scale(0.5 1)">
<path d="M184 1340.19h1020" stroke-dasharray="0 16 2 2 2 0 2 5 2 7 2 35 2 3 2 17 2 56 2 0 2 8 2 11 2 20 2 14 2 26 2 8 2 23 2 10 2 3 2 2 2 28 2 13 2 9 2 0 2 4 2 20 2 5 2 17 2 27 2 8 2 0 2 11 2 15 2 2 2 5 2 28 2 7 2 7 2 3 2 1 2 7 2 7 2 9 2 1 2 14 2 2 2 12 2 4 2 4 2 34 2 7 2 7 2 2 2 3 2 6 2 7 2 2 2 23 2 24 2 4 2 22 2 2 2 37 2 13 2 9 2 2 2 10 2 6 2 24 2 3 2 6 2 1 2 32 2 18 2 3000"/>
<path d="M184 1344.57h1020" stroke-dasharray="0 17 2 28 2 6 2 13 2 0 2 6 2 7 2 15 2 2 2 12 2 12 2 11 2 7 2 6 2 1 2 14 2 1 2 13 2 0 2 3 2 1 2 3 2 5 2 1 2 2 2 1 2 24 2 11 2 31 2 4 2 2 2 4 2 12 2 5 2 4 2 2 2 23 2 14 2 5 2 1 2 10 2 4 2 31 2 41 2 1 2 1 2 3 2 12 2 0 2 2 2 6 2 5 2 5 2 1 2 11 2 2 2 2 2 3 2 5 2 12 2 1 2 1 2 1 2 3 2 0 2 2 2 4 2 5 2 10 2 13 2 9 2 3 2 12 2 10 2 1 2 5 2 22 2 14 2 10 2 28 2 2 2 9 2 1 2 10 2 4 2 25 2 14 2 1 2 8 2 4 2 4 2 5 2 6 2 21 2 12 2 0 2 1 2 0 2 10 2 7 2 2 2 7 2 6 2 10 2 3000"/>
<path d="M184 1348.95h1020" stroke-dasharray="0 7 2 22 2 20 2 63 2 1 2 9 2 2 2 7 2 4 2 6 2 3 2 8 2 14 2 7 2 7 2 3 2 6 2 9 2 1 2 10 2 5 2 11 2 5 2 2 2 28 2 7 2 13 2 8 2 3 2 1 2 6 2 12 2 5 2 3 2 8 2 3 2 1 2 0 2 3 2 6 2 22 2 9 2 6 2 9 2 0 2 1 2 13 2 2 2 9 2 2 2 1 2 21 2 5 2 0 2 3 2 8 2 13 2 1 2 24 2 6 2 5 2 3 2 1 2 0 2 0 2 3 2 3 2 12 2 8 2 1 2 10 2 2 2 31 2 7 2 8 2 0 2 3 2 2 2 3 2 4 2 5 2 20 2 30 2 13 2 22 2 3 2 3 2 3 2 0 2 0 2 47 2 0 2 0 2 14 2 4 2 0 2 18 2 13 2 9 2 2 2 3000"/>
<path d="M184 1353.33h1020" stroke-dasharray="0 30 2 2 2 10 2 10 2 6 2 5 2 23 2 2 2 0 2 8 2 2 2 3 2 12 2 7 2 14 2 5 2 9 2 18 2 17 2 2 2 3 2 18 2 4 2 1 2 8 2 19 2 0 2 5 2 3 2 9 2 0 2 14 2 1 2 0 2 8 2 6 2 1 2 0 2 40 2 2 2 14 2 6 2 2 2 14 2 10 2 7 2 1 2 2 2 0 2 2 2 10 2 1 2 0 2 14 2 3 2 6 2 1 2 11 2 7 2 0 2 3 2 0 2 5 2 7 2 1 2 0 2 0 2 5 2 8 2 0 2 13 2 5 2 17 2 0 2 1 2 1 2 3 2 3 2 4 2 2 2 3 2 3 2 1 2 1 2 3 2 1 2 0 2 6 2 5 2 2 2 16 2 19 2 1 2 12 2 2 2 2 2 1 2 3 2 25 2 11 2 24 2 9 2 4 2 0 2 0 2 6 2 6 2 10 2 10 2 36 2 3 2 50 2 3000"/>
<path d="M184 1357.71h1020" stroke-dasharray="0 0 2 2 2 0 2 7 2 22 2 4 2 6 2 12 2 1 2 0 2 2 2 3 2 0 2 0 2 9 2 6 2 6 2 24 2 3 2 13 2 42 2 12 2 4 2 10 2 2 2 1 2 7 2 10 2 5 2 4 2 4 2 1 2 0 2 9 2 4 2 14 2 22 2 2 2 4 2 15 2 4 2 4 2 0 2 6 2 3 2 15 2 8 2 11 2 28 2 23 2 8 2 2 2 8 2 0 2 6 2 9 2 1 2 6 2 0 2 8 2 1 2 3 2 0 2 8 2 2 2 0 2 3 2 2 2 5 2 12 2 0 2 24 2 5 2 0 2 1 2 1 2 1 2 0 2 1 2 0 2 3 2 11 2 5 2 1 2 1 2 2 2 4 2 0 2 9 2 1 2 11 2 6 2 13 2 1 2 44 2 18 2 5 2 12 2 13 2 5 2 2 2 5 2 1 2 3 2 7 2 7 2 30 2 7 2 5 2 1 2 23 2 4 2 1 2 1 2 1 2 2 2 2 2 1 2 3000"/>
<path d="M184 1362.09h1020" stroke-dasharray="0 15 2 3 2 5 2 2 2 5 2 6 2 5 2 22 2 13 2 6 2 57 2 1 2 0 2 12 2 16 2 12 2 0 2 8 2 10 2 15 2 4 2 6 2 5 2 3 2 1 2 4 2 12 2 7 2 7 2 5 2 3 2 22 2 0 2 8 2 9 2 8 2 31 2 11 2 1 2 1 2 0 2 37 2 13 2 7 2 1 2 9 2 0 2 14 2 14 2 1 2 4 2 4 2 6 2 0 2 0 2 2 2 3 2 3 2 0 2 4 2 18 2 12 2 13 2 2 2 4 2 3 2 16 2 16 2 4 2 12 2 21 2 1 2 6 2 3 2 3 2 10 2 4 2 4 2 2 2 9 2 0 2 10 2 6 2 24 2 26 2 7 2 6 2 8 2 7 2 2 2 25 2 12 2 6 2 15 2 14 2 0 2 2 2 7 2 3000"/>
<path d="M184 1366.47h1020" stroke-dasharray="0 2 2 16 2 16 2 4 2 0 2 5 2 2 2 3 2 10 2 0 2 9 2 19 2 3 2 4 2 1 2 11 2 1 2 4 2 4 2 16 2 1 2 5 2 10 2 4 2 3 2 41 2 6 2 27 2 9 2 4 2 21 2 0 2 5 2 8 2 0 2 16 2 28 2 1 2 2 2 3 2 1 2 0 2 13 2 13 2 7 2 13 2 5 2 4 2 6 2 4 2 3 2 1 2 10 2 4 2 2 2 0 2 3 2 2 2 1 2 12 2 1 2 0 2 2 2 0 2 0 2 3 2 0 2 1 2 2 2 2 2 7 2 0 2 15 2 0 2 4 2 4 2 2 2 1 2 2 2 0 2 5 2 2 2 0 2 7 2 0 2 3 2 4 2 0 2 1 2 17 2 5 2 5 2 1 2 13 2 2 2 7 2 11 2 3 2 0 2 9 2 12 2 11 2 8 2 1 2 23 2 1 2 13 2 3 2 8 2 4 2 4 2 9 2 1 2 1 2 6 2 1 2 17 2 0 2 1 2 9 2 0 2 6 2 18 2 21 2 14 2 1 2 3000"/>
<path d="M184 1370.85h1020" stroke-dasharray="0 2 2 15 2 12 2 8 2 2 2 6 2 1 2 7 2 28 2 7 2 0 2 18 2 7 2 4 2 19 2 6 2 22 2 3 2 2 2 1 2 14 2 2 2 7 2 7 2 10 2 0 2 25 2 8 2 2 2 4 2 0 2 5 2 2 2 3 2 1 2 0 2 3 2 4 2 5 2 6 2 25 2 9 2 34 2 61 2 1 2 1 2 4 2 28 2 0 2 0 2 2 2 0 2 27 2 0 2 5 2 15 2 0 2 0 2 2 2 20 2 3 2 0 2 3 2 19 2 2 2 5 2 10 2 0 2 8 2 12 2 32 2 11 2 2 2 3 2 2 2 16 2 11 2 19 2 0 2 10 2 0 2 11 2 2 2 7 2 5 2 5 2 7 2 11 2 2 2 13 2 4 2 20 2 15 2 2 2 15 2 3 2 8 2 9 2 3000"/>
<path d="M184 1375.23h1020" stroke-dasharray="0 22 2 1 2 15 2 9 2 1 2 8 2 2 2 2 2 3 2 4 2 6 2 2 2 12 2 0 2 43 2 1 2 7 2 5 2 12 2 1 2 1 2 5 2 6 2 10 2 1 2 1 2 3 2 9 2 16 2 16 2 10 2 8 2 1 2 6 2 1 2 0 2 11 2 0 2 7 2 7 2 7 2 0 2 4 2 22 2 19 2 5 2 17 2 0 2 18 2 1 2 0 2 0 2 0 2 3 2 1 2 1 2 1 2 7 2 1 2 5 2 1 2 4 2 5 2 7 2 3 2 2 2 1 2 6 2 4 2 2 2 1 2 2 2 0 2 3 2 5 2 4 2 10 2 0 2 7 2 0 2 1 2 1 2 10 2 8 2 2 2 2 2 19 2 7 2 7 2 19 2 7 2 4 2 36 2 11 2 32 2 2 2 15 2 5 2 0 2 21 2 4 2 25 2 13 2 53 2 8 2 2 2 3 2 0 2 3 2 2 2 2 2 1 2 0 2 10 2 3000"/>
<path d="M184 1379.61h1020" stroke-dasharray="0 4 2 13 2 5 2 13 2 2 2 2 2 3 2 34 2 6 2 2 2 2 2 5 2 10 2 15 2 5 2 0 2 9 2 4 2 31 2 4 2 1 2 11 2 6 2 13 2 24 2 8 2 0 2 7 2 4 2 5 2 6 2 0 2 15 2 1 2 1 2 3 2 20 2 15 2 5 2 8 2 3 2 11 2 2 2 14 2 17 2 2 2 24 2 3 2 5 2 2 2 1 2 8 2 2 2 0 2 2 2 2 2 3 2 2 2 7 2 2 2 1 2 6 2 2 2 2 2 4 2 2 2 4 2 7 2 8 2 11 2 1 2 6 2 4 2 0 2 5 2 15 2 10 2 2 2 0 2 8 2 1 2 6 2 1 2 2 2 1 2 14 2 2 2 1 2 4 2 0 2 8 2 3 2 25 2 5 2 19 2 20 2 8 2 1 2 25 2 6 2 20 2 0 2 7 2 1 2 6 2 21 2 2 2 0 2 13 2 14 2 0 2 3 2 3 2 6 2 7 2 0 2 3000"/>
<path d="M184 1383.99h1020" stroke-dasharray="0 5 2 1 2 31 2 1 2 8 2 5 2 2 2 28 2 20 2 1 2 0 2 4 2 21 2 9 2 4 2 14 2 4 2 0 2 7 2 1 2 0 2 1 2 3 2 0 2 2 2 2 2 4 2 0 2 9 2 4 2 2 2 12 2 2 2 4 2 5 2 4 2 0 2 2 2 2 2 2 2 5 2 18 2 3 2 2 2 2 2 5 2 0 2 16 2 2 2 5 2 1 2 0 2 11 2 13 2 17 2 3 2 17 2 0 2 6 2 9 2 6 2 1 2 0 2 7 2 7 2 3 2 0 2 0 2 1 2 8 2 5 2 9 2 1 2 0 2 2 2 4 2 0 2 5 2 0 2 0 2 0 2 0 2 2 2 10 2 2 2 2 2 0 2 5 2 1 2 4 2 1 2 0 2 2 2 9 2 1 2 2 2 1 2 1 2 4 2 0 2 6 2 9 2 3 2 0 2 0 2 0 2 1 2 3 2 12 2 4 2 0 2 9 2 3 2 6 2 1 2 5 2 6 2 1 2 0 2 5 2 16 2 9 2 4 2 6 2 10 2 4 2 11 2 4 2 16 2 15 2 15 2 11 2 3 2 3 2 10 2 0 2 0 2 0 2 5 2 2 2 32 2 2 2 2 2 3000"/>
<path d="M184 1388.37h1020" stroke-dasharray="0 5 2 4 2 13 2 5 2 22 2 10 2 2 2 13 2 7 2 12 2 1 2 15 2 3 2 6 2 2 2 18 2 5 2 1 2 16 2 10 2 0 2 3 2 17 2 1 2 0 2 0 2 2 2 12 2 8 2 11 2 2 2 5 2 45 2 5 2 2 2 6 2 3 2 5 2 21 2 9 2 15 2 18 2 15 2 9 2 14 2 7 2 10 2 14 2 0 2 0 2 9 2 5 2 8 2 10 2 6 2 2 2 5 2 3 2 3 2 3 2 1 2 0 2 17 2 13 2 4 2 9 2 4 2 17 2 1 2 3 2 5 2 3 2 8 2 3 2 7 2 2 2 10 2 8 2 3 2 2 2 0 2 0 2 3 2 0 2 7 2 23 2 1 2 1 2 10 2 0 2 10 2 1 2 32 2 24 2 23 2 33 2 13 2 9 2 1 2 8 2 7 2 4 2 1 2 3000"/>
<path d="M184 1392.75h1020" stroke-dasharray="0 8 2 44 2 19 2 27 2 16 2 13 2 26 2 1 2 78 2 3 2 3 2 12 2 16 2 3 2 13 2 1 2 2 2 10 2 9 2 7 2 2 2 6 2 17 2 2 2 43 2 37 2 11 2 20 2 0 2 8 2 0 2 12 2 10 2 8 2 6 2 64 2 9 2 7 2 1 2 0 2 5 2 12 2 10 2 5 2 4 2 0 2 1 2 1 2 38 2 17 2 46 2 55 2 13 2 60 2 23 2 15 2 2 2 3000"/>
<path d="M184 1397.13h1020" stroke-dasharray="0 13 2 14 2 9 2 3 2 7 2 11 2 12 2 1 2 1 2 1 2 12 2 1 2 5 2 5 2 10 2 11 2 3 2 10 2 6 2 1 2 3 2 2 2 18 2 1 2 13 2 3 2 0 2 4 2 0 2 2 2 11 2 3 2 4 2 15 2 2 2 8 2 17 2 6 2 25 2 26 2 3 2 0 2 12 2 12 2 1 2 2 2 14 2 3 2 1 2 2 2 0 2 7 2 1 2 9 2 3 2 1 2 9 2 5 2 1 2 2 2 2 2 1 2 1 2 0 2 9 2 0 2 0 2 5 2 1 2 4 2 9 2 1 2 2 2 3 2 1 2 3 2 3 2 5 2 0 2 1 2 0 2 2 2 0 2 1 2 14 2 3 2 16 2 4 2 6 2 2 2 3 2 2 2 1 2 5 2 7 2 6 2 1 2 12 2 0 2 13 2 8 2 3 2 0 2 1 2 3 2 8 2 2 2 46 2 19 2 8 2 6 2 7 2 0 2 12 2 9 2 5 2 0 2 8 2 9 2 1 2 18 2 19 2 1 2 6 2 14 2 5 2 1 2 6 2 3000"/>
<path d="M184 1401.51h1020" stroke-dasharray="0 11 2 7 2 6 2 31 2 15 2 6 2 13 2 6 2 6 2 4 2 6 2 50 2 7 2 2 2 3 2 2 2 10 2 1 2 32 2 13 2 6 2 4 2 22 2 0 2 0 2 5 2 2 2 0 2 9 2 23 2 33 2 3 2 13 2 27 2 0 2 1 2 15 2 0 2 0 2 14 2 19 2 5 2 7 2 0 2 6 2 2 2 1 2 8 2 1 2 0 2 12 2 0 2 2 2 3 2 10 2 16 2 4 2 9 2 13 2 7 2 7 2 2 2 5 2 4 2 0 2 0 2 19 2 2 2 0 2 3 2 8 2 0 2 2 2 2 2 3 2 1 2 3 2 32 2 19 2 10 2 0 2 18 2 15 2 3 2 46 2 4 2 7 2 1 2 5 2 3 2 27 2 2 2 0 2 6 2 25 2 4 2 3000"/>
<path d="M184 1405.89h1020" stroke-dasharray="0 3 2 6 2 14 2 0 2 3 2 0 2 3 2 0 2 4 2 15 2 5 2 2 2 16 2 18 2 13 2 5 2 5 2 2 2 2 2 32 2 5 2 0 2 34 2 1 2 4 2 10 2 12 2 12 2 4 2 3 2 3 2 14 2 4 2 9 2 20 2 4 2 26 2 7 2 0 2 2 2 5 2 4 2 9 2 16 2 2 2 9 2 14 2 0 2 1 2 0 2 8 2 1 2 16 2 5 2 2 2 2 2 2 2 13 2 2 2 5 2 0 2 2 2 1 2 0 2 0 2 1 2 7 2 1 2 6 2 0 2 5 2 10 2 6 2 1 2 5 2 11 2 0 2 1 2 6 2 0 2 3 2 2 2 3 2 1 2 4 2 14 2 5 2 12 2 10 2 10 2 3 2 29 2 5 2 4 2 5 2 0 2 0 2 30 2 4 2 14 2 1 2 2 2 3 2 7 2 3 2 8 2 17 2 0 2 1 2 16 2 5 2 14 2 11 2 17 2 2 2 3000"/>
<path d="M184 1410.27h1020" stroke-dasharray="0 8 2 1 2 18 2 4 2 8 2 0 2 3 2 9 2 37 2 29 2 2 2 7 2 2 2 5 2 4 2 6 2 24 2 18 2 9 2 1 2 10 2 0 2 0 2 0 2 2 2 11 2 2 2 0 2 3 2 1 2 5 2 22 2 10 2 6 2 21 2 16 2 10 2 0 2 24 2 0 2 11 2 17 2 9 2 46 2 13 2 14 2 8 2 1 2 9 2 2 2 32 2 0 2 7 2 7 2 3 2 2 2 2 2 12 2 5 2 10 2 19 2 3 2 0 2 7 2 38 2 3 2 9 2 5 2 6 2 38 2 13 2 40 2 13 2 17 2 18 2 3 2 41 2 4 2 6 2 1 2 7 2 17 2 3000"/>
<path d="M184 1414.65h1020" stroke-dasharray="0 13 2 4 2 21 2 27 2 2 2 39 2 3 2 2 2 0 2 1 2 0 2 15 2 4 2 14 2 0 2 0 2 0 2 2 2 5 2 22 2 5 2 7 2 7 2 2 2 2 2 20 2 12 2 9 2 34 2 2 2 10 2 25 2 25 2 3 2 8 2 6 2 7 2 3 2 8 2 1 2 3 2 11 2 12 2 24 2 4 2 1 2 30 2 2 2 9 2 9 2 0 2 0 2 1 2 6 2 7 2 9 2 8 2 7 2 4 2 7 2 1 2 11 2 11 2 2 2 1 2 17 2 13 2 17 2 1 2 30 2 2 2 8 2 1 2 1 2 4 2 7 2 1 2 8 2 5 2 10 2 13 2 23 2 10 2 6 2 2 2 17 2 1 2 6 2 8 2 8 2 3 2 15 2 18 2 1 2 13 2 7 2 3000"/>
<path d="M184 1419.03h1020" stroke-dasharray="0 26 2 33 2 4 2 3 2 7 2 16 2 9 2 39 2 3 2 19 2 1 2 5 2 0 2 13 2 1 2 42 2 12 2 0 2 8 2 11 2 36 2 11 2 7 2 2 2 12 2 2 2 45 2 0 2 24 2 4 2 1 2 32 2 32 2 13 2 7 2 25 2 4 2 1 2 8 2 1 2 5 2 3 2 9 2 5 2 19 2 2 2 1 2 0 2 1 2 4 2 1 2 4 2 9 2 1 2 5 2 17 2 10 2 10 2 3 2 5 2 0 2 21 2 1 2 2 2 11 2 17 2 20 2 17 2 40 2 16 2 4 2 79 2 0 2 3000"/>
<path d="M184 1423.41h1020" stroke-dasharray="0 0 2 12 2 5 2 0 2 1 2 0 2 16 2 9 2 11 2 0 2 10 2 1 2 2 2 3 2 0 2 13 2 25 2 2 2 10 2 8 2 1 2 7 2 1 2 5 2 18 2 17 2 12 2 4 2 3 2 6 2 6 2 2 2 1 2 9 2 19 2 1 2 2 2 1 2 5 2 4 2 26 2 2 2 0 2 0 2 2 2 32 2 9 2 8 2 2 2 14 2 10 2 10 2 2 2 8 2 1 2 10 2 5 2 5 2 5 2 9 2 6 2 3 2 3 2 6 2 0 2 7 2 2 2 4 2 6 2 2 2 5 2 2 2 5 2 8 2 4 2 0 2 7 2 12 2 2 2 11 2 3 2 1 2 2 2 3 2 1 2 13 2 2 2 8 2 7 2 0 2 3 2 3 2 6 2 19 2 6 2 18 2 13 2 3 2 5 2 0 2 1 2 4 2 10 2 4 2 1 2 12 2 15 2 4 2 18 2 0 2 35 2 8 2 10 2 2 2 1 2 0 2 1 2 2 2 4 2 1 2 12 2 1 2 1 2 1 2 3000"/>
<path d="M184 1427.79h1020" stroke-dasharray="0 5 2 19 2 2 2 0 2 16 2 8 2 1 2 8 2 11 2 12 2 6 2 0 2 9 2 1 2 6 2 11 2 11 2 1 2 6 2 0 2 4 2 3 2 1 2 1 2 7 2 3 2 27 2 8 2 3 2 14 2 2 2 14 2 0 2 22 2 3 2 1 2 25 2 2 2 3 2 2 2 11 2 8 2 2 2 1 2 4 2 6 2 24 2 19 2 2 2 11 2 2 2 5 2 0 2 5 2 6 2 13 2 2 2 1 2 6 2 1 2 6 2 9 2 3 2 3 2 2 2 5 2 2 2 1 2 0 2 1 2 7 2 4 2 7 2 0 2 5 2 8 2 2 2 9 2 2 2 0 2 0 2 8 2 3 2 0 2 8 2 1 2 12 2 8 2 1 2 4 2 13 2 5 2 1 2 4 2 8 2 14 2 12 2 1 2 27 2 20 2 1 2 19 2 6 2 6 2 2 2 27 2 12 2 2 2 2 2 26 2 2 2 10 2 2 2 6 2 10 2 17 2 0 2 3000"/>
<path d="M184 1432.17h1020" stroke-dasharray="0 1 2 3 2 0 2 5 2 17 2 3 2 0 2 0 2 43 2 19 2 5 2 14 2 0 2 12 2 4 2 9 2 31 2 37 2 0 2 10 2 9 2 5 2 4 2 0 2 7 2 1 2 4 2 11 2 8 2 17 2 25 2 8 2 9 2 0 2 2 2 2 2 1 2 2 2 1 2 2 2 12 2 4 2 8 2 0 2 22 2 10 2 3 2 1 2 9 2 3 2 12 2 7 2 1 2 2 2 4 2 5 2 0 2 1 2 1 2 4 2 0 2 7 2 6 2 2 2 5 2 4 2 1 2 2 2 4 2 2 2 1 2 0 2 0 2 9 2 6 2 3 2 1 2 2 2 1 2 0 2 5 2 2 2 5 2 1 2 4 2 2 2 0 2 8 2 1 2 0 2 1 2 2 2 7 2 13 2 2 2 1 2 7 2 1 2 1 2 15 2 0 2 25 2 3 2 12 2 25 2 8 2 25 2 1 2 2 2 1 2 6 2 3 2 2 2 2 2 7 2 4 2 15 2 0 2 10 2 2 2 14 2 2 2 7 2 2 2 2 2 0 2 0 2 3 2 3000"/>
<path d="M184 1436.55h1020" stroke-dasharray="0 20 2 10 2 2 2 7 2 4 2 3 2 53 2 9 2 1 2 5 2 13 2 8 2 6 2 4 2 17 2 7 2 2 2 4 2 2 2 23 2 26 2 6 2 1 2 14 2 0 2 2 2 4 2 31 2 2 2 9 2 11 2 6 2 4 2 8 2 5 2 11 2 23 2 5 2 20 2 6 2 1 2 0 2 3 2 10 2 16 2 1 2 1 2 7 2 7 2 2 2 13 2 17 2 0 2 0 2 8 2 0 2 1 2 2 2 10 2 2 2 3 2 0 2 0 2 21 2 2 2 0 2 12 2 5 2 13 2 2 2 0 2 0 2 8 2 8 2 8 2 4 2 13 2 0 2 19 2 17 2 19 2 0 2 1 2 3 2 26 2 38 2 13 2 19 2 2 2 7 2 12 2 12 2 1 2 0 2 2 2 4 2 4 2 1 2 0 2 3 2 0 2 0 2 6 2 3000"/>
<path d="M184 1440.93h1020" stroke-dasharray="0 1 2 13 2 4 2 3 2 12 2 22 2 3 2 19 2 5 2 0 2 10 2 26 2 2 2 0 2 4 2 16 2 4 2 1 2 3 2 6 2 6 2 0 2 10 2 1 2 0 2 17 2 8 2 1 2 8 2 25 2 4 2 20 2 1 2 19 2 11 2 11 2 4 2 29 2 1 2 8 2 25 2 4 2 2 2 24 2 13 2 0 2 1 2 8 2 5 2 0 2 0 2 8 2 18 2 6 2 0 2 2 2 4 2 1 2 9 2 2 2 1 2 12 2 1 2 3 2 2 2 8 2 5 2 1 2 0 2 5 2 10 2 0 2 2 2 4 2 2 2 14 2 11 2 2 2 1 2 8 2 1 2 17 2 3 2 12 2 1 2 2 2 11 2 1 2 20 2 10 2 50 2 8 2 11 2 1 2 9 2 11 2 2 2 13 2 0 2 3 2 11 2 5 2 3 2 9 2 3 2 11 2 0 2 4 2 8 2 3000"/>
<path d="M184 1445.31h1020" stroke-dasharray="0 10 2 1 2 7 2 7 2 0 2 12 2 2 2 2 2 0 2 2 2 5 2 7 2 6 2 4 2 4 2 47 2 11 2 5 2 0 2 43 2 17 2 17 2 18 2 16 2 5 2 1 2 8 2 20 2 1 2 2 2 0 2 6 2 28 2 0 2 30 2 26 2 25 2 0 2 8 2 25 2 42 2 3 2 25 2 14 2 1 2 4 2 0 2 1 2 1 2 16 2 13 2 12 2 2 2 1 2 33 2 8 2 26 2 1 2 2 2 2 2 4 2 0 2 28 2 12 2 15 2 19 2 49 2 23 2 29 2 0 2 3 2 26 2 3000"/>
<path d="M184 1449.69h1020" stroke-dasharray="0 2 2 0 2 8 2 7 2 2 2 0 2 0 2 3 2 24 2 12 2 6 2 6 2 22 2 9 2 8 2 0 2 9 2 14 2 15 2 4 2 0 2 3 2 6 2 3 2 0 2 15 2 3 2 16 2 5 2 21 2 2 2 17 2 0 2 4 2 10 2 20 2 4 2 2 2 13 2 5 2 8 2 5 2 35 2 2 2 1 2 3 2 13 2 10 2 7 2 7 2 1 2 2 2 3 2 2 2 0 2 7 2 0 2 2 2 4 2 0 2 6 2 8 2 0 2 1 2 0 2 0 2 10 2 3 2 1 2 0 2 0 2 1 2 0 2 0 2 0 2 0 2 2 2 0 2 4 2 0 2 0 2 4 2 2 2 9 2 13 2 0 2 5 2 7 2 0 2 4 2 5 2 2 2 6 2 9 2 9 2 6 2 2 2 4 2 2 2 8 2 12 2 10 2 9 2 10 2 5 2 1 2 19 2 11 2 8 2 4 2 22 2 8 2 33 2 2 2 3 2 1 2 32 2 3 2 5 2 2 2 7 2 6 2 0 2 2 2 4 2 3000"/>
<path d="M184 1454.07h1020" stroke-dasharray="0 2 2 23 2 7 2 1 2 15 2 3 2 4 2 5 2 5 2 7 2 6 2 21 2 0 2 2 2 24 2 4 2 12 2 18 2 17 2 1 2 10 2 3 2 14 2 2 2 14 2 2 2 0 2 24 2 1 2 28 2 8 2 0 2 11 2 9 2 4 2 14 2 22 2 0 2 14 2 6 2 14 2 1 2 10 2 5 2 4 2 10 2 3 2 16 2 14 2 6 2 6 2 10 2 0 2 7 2 2 2 3 2 7 2 2 2 2 2 14 2 0 2 5 2 0 2 1 2 0 2 1 2 2 2 4 2 1 2 8 2 3 2 5 2 4 2 18 2 3 2 13 2 5 2 11 2 1 2 14 2 32 2 5 2 39 2 0 2 11 2 37 2 0 2 15 2 0 2 1 2 10 2 4 2 3 2 2 2 14 2 2 2 4 2 2 2 1 2 18 2 17 2 3000"/>
<path d="M184 1458.45h1020" stroke-dasharray="0 4 2 2 2 9 2 6 2 3 2 2 2 24 2 23 2 17 2 0 2 3 2 3 2 3 2 11 2 20 2 0 2 5 2 4 2 32 2 15 2 41 2 12 2 10 2 2 2 1 2 8 2 9 2 12 2 12 2 9 2 9 2 15 2 14 2 11 2 20 2 14 2 1 2 7 2 29 2 8 2 0 2 0 2 2 2 2 2 20 2 3 2 5 2 7 2 0 2 7 2 0 2 0 2 11 2 4 2 3 2 0 2 0 2 6 2 5 2 6 2 0 2 0 2 0 2 2 2 0 2 1 2 17 2 5 2 2 2 11 2 5 2 28 2 35 2 6 2 11 2 33 2 0 2 18 2 20 2 5 2 4 2 4 2 12 2 3 2 6 2 1 2 1 2 17 2 0 2 18 2 1 2 3 2 11 2 3000"/>
<path d="M184 1462.83h1020" stroke-dasharray="0 19 2 34 2 3 2 4 2 3 2 12 2 2 2 1 2 39 2 5 2 7 2 9 2 3 2 2 2 5 2 4 2 7 2 5 2 3 2 0 2 7 2 7 2 29 2 3 2 1 2 0 2 1 2 2 2 0 2 2 2 4 2 9 2 0 2 1 2 2 2 10 2 12 2 12 2 31 2 1 2 7 2 20 2 3 2 36 2 8 2 1 2 1 2 17 2 6 2 4 2 8 2 0 2 3 2 1 2 2 2 0 2 1 2 3 2 1 2 19 2 0 2 5 2 1 2 0 2 11 2 2 2 4 2 6 2 6 2 0 2 1 2 4 2 23 2 0 2 18 2 3 2 2 2 4 2 0 2 0 2 0 2 0 2 0 2 4 2 17 2 15 2 0 2 14 2 7 2 7 2 2 2 5 2 4 2 3 2 17 2 21 2 26 2 0 2 6 2 10 2 1 2 21 2 7 2 0 2 8 2 6 2 0 2 14 2 9 2 0 2 3 2 16 2 7 2 3 2 3000"/>
<path d="M184 1467.21h1020" stroke-dasharray="0 1 2 10 2 3 2 0 2 2 2 16 2 2 2 1 2 57 2 19 2 0 2 7 2 8 2 45 2 53 2 1 2 1 2 5 2 10 2 18 2 6 2 22 2 3 2 1 2 9 2 0 2 2 2 4 2 28 2 6 2 16 2 9 2 13 2 3 2 24 2 27 2 2 2 1 2 3 2 1 2 3 2 3 2 4 2 4 2 7 2 1 2 1 2 2 2 4 2 4 2 4 2 1 2 12 2 10 2 6 2 8 2 1 2 11 2 7 2 11 2 11 2 5 2 10 2 0 2 9 2 12 2 34 2 7 2 16 2 6 2 2 2 2 2 4 2 31 2 5 2 7 2 3 2 31 2 6 2 2 2 3 2 4 2 23 2 1 2 1 2 0 2 46 2 11 2 0 2 3000"/>
<path d="M184 1471.59h1020" stroke-dasharray="0 15 2 4 2 9 2 13 2 1 2 3 2 4 2 1 2 1 2 44 2 39 2 1 2 0 2 1 2 2 2 25 2 2 2 4 2 35 2 30 2 48 2 6 2 13 2 13 2 47 2 20 2 14 2 5 2 12 2 10 2 2 2 5 2 13 2 11 2 1 2 17 2 7 2 11 2 1 2 3 2 10 2 17 2 12 2 7 2 0 2 10 2 7 2 6 2 8 2 5 2 4 2 5 2 20 2 20 2 3 2 6 2 3 2 2 2 16 2 5 2 73 2 5 2 3 2 5 2 4 2 34 2 0 2 18 2 4 2 10 2 28 2 0 2 10 2 10 2 6 2 3000"/>
<path d="M184 1475.97h1020" stroke-dasharray="0 3 2 2 2 1 2 2 2 5 2 2 2 7 2 13 2 0 2 21 2 5 2 6 2 21 2 3 2 12 2 19 2 1 2 4 2 3 2 6 2 0 2 50 2 3 2 11 2 16 2 11 2 1 2 9 2 13 2 1 2 1 2 4 2 3 2 1 2 21 2 1 2 0 2 2 2 3 2 25 2 10 2 1 2 18 2 2 2 0 2 3 2 21 2 3 2 3 2 5 2 1 2 6 2 17 2 1 2 6 2 1 2 7 2 6 2 12 2 10 2 8 2 7 2 12 2 10 2 14 2 16 2 1 2 4 2 4 2 6 2 8 2 13 2 12 2 7 2 2 2 30 2 8 2 5 2 41 2 9 2 4 2 9 2 5 2 7 2 13 2 18 2 14 2 26 2 2 2 35 2 9 2 2 2 3000"/>
<path d="M184 1480.35h1020" stroke-dasharray="0 5 2 7 2 16 2 10 2 21 2 10 2 14 2 0 2 4 2 1 2 13 2 5 2 3 2 0 2 6 2 25 2 3 2 25 2 5 2 3 2 31 2 11 2 6 2 2 2 0 2 3 2 24 2 1 2 31 2 5 2 18 2 0 2 2 2 1 2 14 2 1 2 0 2 11 2 13 2 9 2 5 2 15 2 18 2 12 2 1 2 7 2 1 2 0 2 9 2 18 2 0 2 19 2 0 2 11 2 0 2 1 2 3 2 3 2 1 2 0 2 2 2 6 2 3 2 8 2 2 2 10 2 1 2 7 2 0 2 2 2 6 2 8 2 0 2 1 2 1 2 5 2 0 2 7 2 4 2 5 2 3 2 4 2 44 2 1 2 13 2 19 2 1 2 6 2 4 2 8 2 5 2 1 2 2 2 0 2 1 2 15 2 8 2 3 2 3 2 5 2 5 2 10 2 1 2 2 2 4 2 9 2 9 2 1 2 2 2 10 2 5 2 0 2 0 2 1 2 13 2 3000"/>
<path d="M184 1484.73h1020" stroke-dasharray="0 1 2 3 2 4 2 1 2 3 2 5 2 3 2 2 2 26 2 17 2 9 2 7 2 2 2 2 2 3 2 0 2 21 2 36 2 3 2 16 2 0 2 2 2 8 2 3 2 11 2 0 2 8 2 6 2 1 2 3 2 10 2 11 2 10 2 3 2 1 2 16 2 4 2 0 2 4 2 19 2 3 2 9 2 21 2 0 2 8 2 6 2 4 2 9 2 5 2 0 2 10 2 3 2 2 2 4 2 3 2 19 2 6 2 0 2 0 2 5 2 27 2 0 2 0 2 4 2 2 2 4 2 16 2 4 2 3 2 9 2 6 2 0 2 1 2 1 2 7 2 0 2 7 2 0 2 1 2 2 2 2 2 11 2 1 2 20 2 0 2 0 2 2 2 0 2 3 2 5 2 1 2 2 2 12 2 1 2 0 2 17 2 1 2 28 2 15 2 16 2 0 2 5 2 4 2 17 2 21 2 9 2 1 2 6 2 4 2 11 2 43 2 4 2 19 2 4 2 3 2 3000"/>
<path d="M184 1489.11h1020" stroke-dasharray="0 0 2 7 2 11 2 2 2 0 2 3 2 7 2 13 2 3 2 10 2 3 2 0 2 30 2 3 2 2 2 1 2 10 2 8 2 0 2 7 2 0 2 0 2 1 2 30 2 0 2 10 2 5 2 31 2 3 2 12 2 3 2 1 2 8 2 1 2 2 2 4 2 2 2 8 2 32 2 35 2 2 2 7 2 31 2 3 2 6 2 13 2 18 2 10 2 2 2 2 2 6 2 3 2 12 2 4 2 0 2 11 2 12 2 10 2 2 2 6 2 6 2 3 2 0 2 0 2 4 2 1 2 26 2 1 2 0 2 3 2 2 2 5 2 7 2 8 2 1 2 0 2 3 2 1 2 6 2 2 2 5 2 3 2 10 2 2 2 41 2 6 2 8 2 0 2 44 2 5 2 0 2 8 2 2 2 7 2 3 2 42 2 50 2 29 2 6 2 2 2 3000"/>
<path d="M184 1493.49h1020" stroke-dasharray="0 12 2 11 2 17 2 5 2 0 2 20 2 10 2 16 2 8 2 2 2 4 2 2 2 5 2 22 2 27 2 15 2 0 2 2 2 6 2 4 2 36 2 14 2 13 2 6 2 4 2 11 2 0 2 6 2 0 2 8 2 1 2 2 2 4 2 18 2 10 2 22 2 4 2 2 2 0 2 1 2 18 2 1 2 2 2 7 2 1 2 2 2 3 2 14 2 0 2 6 2 12 2 10 2 1 2 2 2 0 2 14 2 4 2 8 2 13 2 1 2 0 2 3 2 6 2 2 2 14 2 3 2 3 2 16 2 13 2 1 2 10 2 2 2 8 2 4 2 6 2 9 2 13 2 1 2 4 2 17 2 14 2 18 2 14 2 1 2 0 2 2 2 0 2 1 2 6 2 6 2 3 2 1 2 4 2 14 2 29 2 8 2 8 2 0 2 8 2 1 2 5 2 24 2 3000"/>
<path d="M184 1497.87h1020" stroke-dasharray="0 1 2 14 2 3 2 2 2 0 2 7 2 2 2 1 2 22 2 5 2 12 2 4 2 0 2 6 2 4 2 11 2 2 2 1 2 24 2 16 2 35 2 3 2 2 2 2 2 25 2 17 2 1 2 0 2 5 2 4 2 4 2 5 2 10 2 15 2 1 2 4 2 6 2 14 2 18 2 15 2 17 2 6 2 0 2 7 2 0 2 5 2 17 2 3 2 10 2 12 2 17 2 5 2 9 2 7 2 8 2 1 2 2 2 0 2 6 2 4 2 9 2 2 2 13 2 8 2 6 2 1 2 0 2 16 2 13 2 1 2 4 2 0 2 4 2 3 2 2 2 2 2 10 2 0 2 11 2 23 2 2 2 42 2 15 2 10 2 12 2 17 2 3 2 7 2 8 2 6 2 26 2 8 2 1 2 13 2 2 2 31 2 12 2 10 2 3000"/>
<path d="M184 1502.25h1020" stroke-dasharray="0 15 2 8 2 1 2 6 2 0 2 23 2 0 2 27 2 3 2 28 2 7 2 0 2 19 2 3 2 1 2 2 2 16 2 18 2 11 2 8 2 20 2 8 2 29 2 6 2 10 2 7 2 4 2 1 2 3 2 9 2 1 2 4 2 14 2 1 2 12 2 15 2 6 2 18 2 0 2 2 2 18 2 10 2 12 2 0 2 0 2 16 2 8 2 0 2 0 2 11 2 12 2 0 2 7 2 14 2 1 2 0 2 16 2 3 2 15 2 1 2 6 2 2 2 1 2 1 2 1 2 4 2 0 2 0 2 0 2 0 2 12 2 1 2 1 2 6 2 4 2 3 2 4 2 11 2 25 2 0 2 4 2 22 2 14 2 0 2 14 2 12 2 19 2 15 2 1 2 4 2 4 2 3 2 36 2 46 2 8 2 4 2 13 2 3000"/>
<path d="M184 1506.63h1020" stroke-dasharray="0 0 2 5 2 3 2 14 2 1 2 2 2 7 2 13 2 9 2 0 2 6 2 10 2 17 2 1 2 3 2 12 2 3 2 0 2 3 2 2 2 9 2 4 2 4 2 23 2 3 2 4 2 7 2 9 2 0 2 5 2 20 2 4 2 2 2 7 2 1 2 13 2 2 2 13 2 8 2 5 2 1 2 0 2 1 2 22 2 17 2 3 2 21 2 0 2 27 2 0 2 10 2 0 2 6 2 5 2 6 2 0 2 2 2 16 2 5 2 11 2 3 2 7 2 0 2 4 2 0 2 2 2 8 2 2 2 1 2 11 2 8 2 12 2 2 2 0 2 3 2 4 2 0 2 1 2 5 2 1 2 5 2 4 2 2 2 3 2 5 2 4 2 20 2 3 2 12 2 0 2 23 2 5 2 5 2 3 2 10 2 1 2 13 2 2 2 41 2 1 2 13 2 12 2 3 2 8 2 8 2 7 2 16 2 6 2 8 2 13 2 5 2 14 2 2 2 2 2 7 2 10 2 4 2 3000"/>
<path d="M184 1511.01h1020" stroke-dasharray="0 4 2 2 2 5 2 12 2 11 2 47 2 12 2 5 2 32 2 11 2 12 2 0 2 0 2 5 2 18 2 19 2 3 2 8 2 13 2 7 2 15 2 2 2 9 2 17 2 16 2 6 2 25 2 20 2 12 2 14 2 5 2 20 2 43 2 1 2 3 2 0 2 15 2 14 2 8 2 2 2 13 2 4 2 13 2 1 2 5 2 9 2 5 2 0 2 0 2 14 2 1 2 6 2 3 2 12 2 10 2 14 2 10 2 6 2 17 2 35 2 3 2 57 2 2 2 19 2 1 2 7 2 25 2 2 2 16 2 9 2 56 2 11 2 3000"/>
</g>
<rect x="90.9" y="1336.5" width="512.4" height="177.2" fill="none" stroke="#000" stroke-width="2.2"/>
<line x1="90.9" y1="1513.7" x2="90.9" y2="1520.2" stroke="#333" stroke-width="1.2" />
<text transform="translate(77.74 1547.30) scale(1.0488 1)" font-family="DejaVu Sans, sans-serif" font-size="27.57" font-weight="normal" fill="#000">-2</text>
<line x1="154.9" y1="1513.7" x2="154.9" y2="1520.2" stroke="#333" stroke-width="1.2" />
<text transform="translate(141.64 1547.30) scale(1.0488 1)" font-family="DejaVu Sans, sans-serif" font-size="27.57" font-weight="normal" fill="#000">-1</text>
<line x1="219.0" y1="1513.7" x2="219.0" y2="1520.2" stroke="#333" stroke-width="1.2" />
<text transform="translate(210.32 1546.89) scale(1.0488 1)" font-family="DejaVu Sans, sans-serif" font-size="27.57" font-weight="normal" fill="#000">0</text>
<line x1="283.0" y1="1513.7" x2="283.0" y2="1520.2" stroke="#333" stroke-width="1.2" />
<text transform="translate(274.08 1547.30) scale(1.0488 1)" font-family="DejaVu Sans, sans-serif" font-size="27.57" font-weight="normal" fill="#000">1</text>
<line x1="347.1" y1="1513.7" x2="347.1" y2="1520.2" stroke="#333" stroke-width="1.2" />
<text transform="translate(338.78 1547.30) scale(1.0488 1)" font-family="DejaVu Sans, sans-serif" font-size="27.57" font-weight="normal" fill="#000">2</text>
<line x1="411.1" y1="1513.7" x2="411.1" y2="1520.2" stroke="#333" stroke-width="1.2" />
<text transform="translate(402.54 1546.89) scale(1.0488 1)" font-family="DejaVu Sans, sans-serif" font-size="27.57" font-weight="normal" fill="#000">3</text>
<line x1="475.2" y1="1513.7" x2="475.2" y2="1520.2" stroke="#333" stroke-width="1.2" />
<text transform="translate(466.59 1547.30) scale(1.0488 1)" font-family="DejaVu Sans, sans-serif" font-size="27.57" font-weight="normal" fill="#000">4</text>
<line x1="539.2" y1="1513.7" x2="539.2" y2="1520.2" stroke="#333" stroke-width="1.2" />
<text transform="translate(530.71 1546.89) scale(1.0488 1)" font-family="DejaVu Sans, sans-serif" font-size="27.57" font-weight="normal" fill="#000">5</text>
<line x1="603.3" y1="1513.7" x2="603.3" y2="1520.2" stroke="#333" stroke-width="1.2" />
<text transform="translate(594.48 1546.89) scale(1.0488 1)" font-family="DejaVu Sans, sans-serif" font-size="27.57" font-weight="normal" fill="#000">6</text>
<text transform="translate(300.22 1573.05) scale(0.8487 1)" font-family="DejaVu Sans, sans-serif" font-size="28.09" font-weight="normal" fill="#000">Time (s)</text>
<rect x="90.9" y="1612.0" width="512.4" height="177.0" fill="none" stroke="#000" stroke-width="2.2"/>
<line x1="154.9" y1="1612.0" x2="154.9" y2="1618.5" stroke="#333" stroke-width="1.2" />
<line x1="154.9" y1="1789.0" x2="154.9" y2="1782.5" stroke="#333" stroke-width="1.2" />
<line x1="219.0" y1="1612.0" x2="219.0" y2="1618.5" stroke="#333" stroke-width="1.2" />
<line x1="219.0" y1="1789.0" x2="219.0" y2="1782.5" stroke="#333" stroke-width="1.2" />
<line x1="283.0" y1="1612.0" x2="283.0" y2="1618.5" stroke="#333" stroke-width="1.2" />
<line x1="283.0" y1="1789.0" x2="283.0" y2="1782.5" stroke="#333" stroke-width="1.2" />
<line x1="347.1" y1="1612.0" x2="347.1" y2="1618.5" stroke="#333" stroke-width="1.2" />
<line x1="347.1" y1="1789.0" x2="347.1" y2="1782.5" stroke="#333" stroke-width="1.2" />
<line x1="411.1" y1="1612.0" x2="411.1" y2="1618.5" stroke="#333" stroke-width="1.2" />
<line x1="411.1" y1="1789.0" x2="411.1" y2="1782.5" stroke="#333" stroke-width="1.2" />
<line x1="475.2" y1="1612.0" x2="475.2" y2="1618.5" stroke="#333" stroke-width="1.2" />
<line x1="475.2" y1="1789.0" x2="475.2" y2="1782.5" stroke="#333" stroke-width="1.2" />
<line x1="539.2" y1="1612.0" x2="539.2" y2="1618.5" stroke="#333" stroke-width="1.2" />
<line x1="539.2" y1="1789.0" x2="539.2" y2="1782.5" stroke="#333" stroke-width="1.2" />
<line x1="90.9" y1="1789.0" x2="97.4" y2="1789.0" stroke="#333" stroke-width="1.2" />
<line x1="90.9" y1="1700.5" x2="97.4" y2="1700.5" stroke="#333" stroke-width="1.2" />
<line x1="90.9" y1="1612.0" x2="97.4" y2="1612.0" stroke="#333" stroke-width="1.2" />
<line x1="603.3" y1="1753.6" x2="596.8" y2="1753.6" stroke="#333" stroke-width="1.2" />
<line x1="603.3" y1="1718.2" x2="596.8" y2="1718.2" stroke="#333" stroke-width="1.2" />
<line x1="603.3" y1="1682.8" x2="596.8" y2="1682.8" stroke="#333" stroke-width="1.2" />
<line x1="603.3" y1="1647.4" x2="596.8" y2="1647.4" stroke="#333" stroke-width="1.2" />
<path d="M90.9 1712.0 L110.1 1712.9 L129.3 1718.2 L148.5 1721.7 L167.8 1713.4 L187.0 1713.8 L206.2 1714.7 L225.4 1721.7 L244.6 1716.4 L263.8 1712.0 L283.0 1718.2 L302.3 1721.7 L321.5 1716.4 L340.7 1688.1 L359.9 1650.9 L379.1 1641.2 L398.3 1622.6 L417.6 1631.5 L436.8 1672.2 L456.0 1711.1 L475.2 1727.0 L494.4 1751.8 L513.6 1730.6 L532.8 1743.0 L552.1 1727.0 L571.3 1728.8 L590.5 1716.4" fill="none" stroke="#0f6cbd" stroke-width="4.4" stroke-linejoin="miter"/>
<text transform="translate(50.46 1797.99) scale(1.0488 1)" font-family="DejaVu Sans, sans-serif" font-size="27.57" font-weight="normal" fill="#000">10</text>
<text transform="translate(51.04 1711.19) scale(1.0488 1)" font-family="DejaVu Sans, sans-serif" font-size="27.57" font-weight="normal" fill="#000">15</text>
<text transform="translate(50.46 1622.59) scale(1.0488 1)" font-family="DejaVu Sans, sans-serif" font-size="27.57" font-weight="normal" fill="#000">20</text>
<text transform="translate(78.94 1819.50) scale(1.0488 1)" font-family="DejaVu Sans, sans-serif" font-size="27.57" font-weight="normal" fill="#000">-2</text>
<text transform="translate(142.84 1819.50) scale(1.0488 1)" font-family="DejaVu Sans, sans-serif" font-size="27.57" font-weight="normal" fill="#000">-1</text>
<text transform="translate(211.52 1819.09) scale(1.0488 1)" font-family="DejaVu Sans, sans-serif" font-size="27.57" font-weight="normal" fill="#000">0</text>
<text transform="translate(275.28 1819.50) scale(1.0488 1)" font-family="DejaVu Sans, sans-serif" font-size="27.57" font-weight="normal" fill="#000">1</text>
<text transform="translate(339.98 1819.50) scale(1.0488 1)" font-family="DejaVu Sans, sans-serif" font-size="27.57" font-weight="normal" fill="#000">2</text>
<text transform="translate(403.74 1819.09) scale(1.0488 1)" font-family="DejaVu Sans, sans-serif" font-size="27.57" font-weight="normal" fill="#000">3</text>
<text transform="translate(467.79 1819.50) scale(1.0488 1)" font-family="DejaVu Sans, sans-serif" font-size="27.57" font-weight="normal" fill="#000">4</text>
<text transform="translate(531.91 1819.09) scale(1.0488 1)" font-family="DejaVu Sans, sans-serif" font-size="27.57" font-weight="normal" fill="#000">5</text>
<text transform="translate(595.68 1819.09) scale(1.0488 1)" font-family="DejaVu Sans, sans-serif" font-size="27.57" font-weight="normal" fill="#000">6</text>
<text transform="translate(301.72 1845.45) scale(0.8549 1)" font-family="DejaVu Sans, sans-serif" font-size="28.09" font-weight="normal" fill="#000">Time (s)</text>
<text transform="translate(41.20 1760.13) rotate(-90) scale(0.9595 1)" font-family="DejaVu Sans, sans-serif" font-size="26.19" font-weight="normal" fill="#000">Spikes / s</text>
<g stroke="#262626" stroke-width="3.37" fill="none" transform="scale(0.5 1)">
<path d="M1382 1339.68h1020" stroke-dasharray="0 3 2 8 2 4 2 12 2 7 2 11 2 5 2 0 2 9 2 8 2 3 2 0 2 6 2 3 2 4 2 11 2 6 2 4 2 2 2 8 2 5 2 4 2 6 2 6 2 4 2 12 2 2 2 2 2 7 2 2 2 11 2 14 2 8 2 7 2 2 2 2 2 8 2 20 2 27 2 8 2 3 2 2 2 1 2 7 2 3 2 5 2 8 2 10 2 25 2 8 2 5 2 0 2 21 2 2 2 5 2 1 2 6 2 2 2 2 2 4 2 4 2 19 2 1 2 10 2 81 2 51 2 4 2 12 2 11 2 0 2 1 2 54 2 15 2 32 2 2 2 11 2 4 2 14 2 7 2 18 2 3 2 25 2 10 2 2 2 34 2 0 2 1 2 19 2 6 2 3000"/>
<path d="M1382 1343.05h1020" stroke-dasharray="0 16 2 3 2 17 2 7 2 7 2 9 2 9 2 4 2 1 2 9 2 15 2 2 2 3 2 5 2 0 2 0 2 3 2 0 2 1 2 1 2 5 2 3 2 14 2 2 2 3 2 0 2 2 2 7 2 5 2 9 2 2 2 1 2 2 2 9 2 2 2 0 2 13 2 1 2 2 2 10 2 12 2 2 2 0 2 1 2 0 2 1 2 3 2 6 2 7 2 1 2 3 2 2 2 2 2 6 2 1 2 14 2 4 2 2 2 3 2 12 2 3 2 3 2 0 2 27 2 2 2 4 2 16 2 8 2 18 2 17 2 2 2 0 2 3 2 0 2 0 2 1 2 1 2 19 2 0 2 9 2 4 2 1 2 3 2 14 2 0 2 14 2 3 2 42 2 15 2 19 2 2 2 3 2 8 2 1 2 4 2 2 2 6 2 31 2 5 2 6 2 3 2 3 2 4 2 25 2 9 2 0 2 29 2 4 2 4 2 2 2 1 2 13 2 2 2 1 2 6 2 7 2 3 2 2 2 9 2 18 2 1 2 4 2 10 2 3 2 3000"/>
<path d="M1382 1346.42h1020" stroke-dasharray="0 0 2 3 2 3 2 3 2 10 2 12 2 4 2 1 2 3 2 13 2 1 2 6 2 6 2 4 2 3 2 15 2 2 2 16 2 19 2 18 2 4 2 9 2 18 2 5 2 2 2 4 2 6 2 5 2 8 2 3 2 0 2 5 2 12 2 9 2 21 2 24 2 14 2 10 2 6 2 2 2 8 2 1 2 11 2 1 2 20 2 11 2 8 2 6 2 3 2 3 2 1 2 7 2 2 2 1 2 15 2 8 2 5 2 5 2 8 2 18 2 28 2 52 2 28 2 3 2 6 2 11 2 16 2 11 2 6 2 49 2 10 2 5 2 36 2 7 2 7 2 18 2 0 2 0 2 6 2 29 2 6 2 6 2 12 2 15 2 0 2 8 2 2 2 1 2 5 2 5 2 3000"/>
<path d="M1382 1349.79h1020" stroke-dasharray="0 3 2 3 2 1 2 15 2 2 2 3 2 16 2 2 2 1 2 1 2 6 2 2 2 5 2 2 2 3 2 1 2 1 2 3 2 6 2 9 2 3 2 6 2 3 2 9 2 9 2 4 2 3 2 7 2 5 2 1 2 11 2 0 2 0 2 8 2 3 2 1 2 8 2 6 2 0 2 0 2 3 2 6 2 8 2 2 2 2 2 0 2 2 2 0 2 2 2 5 2 13 2 1 2 1 2 0 2 8 2 8 2 7 2 1 2 6 2 3 2 0 2 9 2 8 2 11 2 9 2 5 2 0 2 9 2 6 2 16 2 11 2 9 2 3 2 0 2 9 2 5 2 0 2 0 2 8 2 0 2 0 2 0 2 30 2 6 2 5 2 25 2 11 2 0 2 29 2 9 2 38 2 12 2 1 2 8 2 23 2 41 2 3 2 9 2 29 2 12 2 3 2 9 2 0 2 4 2 1 2 5 2 2 2 5 2 22 2 5 2 4 2 5 2 5 2 14 2 0 2 1 2 5 2 3 2 2 2 0 2 0 2 6 2 1 2 3 2 3000"/>
<path d="M1382 1353.16h1020" stroke-dasharray="0 0 2 9 2 9 2 3 2 6 2 6 2 4 2 22 2 10 2 0 2 20 2 20 2 2 2 2 2 2 2 2 2 3 2 1 2 19 2 14 2 11 2 2 2 1 2 18 2 10 2 8 2 7 2 18 2 1 2 2 2 3 2 2 2 3 2 17 2 7 2 16 2 4 2 2 2 1 2 4 2 16 2 1 2 6 2 1 2 16 2 5 2 10 2 16 2 0 2 31 2 18 2 2 2 8 2 2 2 11 2 0 2 41 2 4 2 28 2 0 2 4 2 27 2 2 2 9 2 64 2 1 2 5 2 3 2 28 2 30 2 31 2 6 2 14 2 2 2 10 2 3 2 13 2 5 2 14 2 7 2 6 2 5 2 2 2 2 2 12 2 6 2 0 2 2 2 0 2 1 2 9 2 2 2 0 2 3000"/>
<path d="M1382 1356.53h1020" stroke-dasharray="0 4 2 1 2 0 2 2 2 3 2 0 2 6 2 1 2 8 2 7 2 4 2 14 2 0 2 6 2 3 2 5 2 1 2 0 2 26 2 5 2 16 2 5 2 4 2 0 2 7 2 8 2 12 2 20 2 4 2 0 2 1 2 6 2 4 2 5 2 1 2 4 2 0 2 0 2 19 2 1 2 0 2 1 2 4 2 2 2 0 2 14 2 2 2 3 2 0 2 2 2 3 2 4 2 14 2 17 2 12 2 0 2 0 2 2 2 12 2 2 2 10 2 2 2 1 2 12 2 3 2 0 2 32 2 14 2 5 2 0 2 3 2 6 2 4 2 2 2 1 2 11 2 1 2 7 2 5 2 8 2 3 2 18 2 12 2 28 2 16 2 1 2 2 2 13 2 25 2 7 2 0 2 16 2 1 2 0 2 0 2 2 2 3 2 6 2 26 2 3 2 8 2 6 2 7 2 17 2 18 2 8 2 4 2 3 2 0 2 1 2 5 2 5 2 11 2 2 2 10 2 1 2 6 2 7 2 0 2 1 2 2 2 1 2 1 2 0 2 5 2 0 2 9 2 0 2 2 2 3 2 3000"/>
<path d="M1382 1359.90h1020" stroke-dasharray="0 3 2 1 2 6 2 1 2 9 2 1 2 2 2 7 2 1 2 0 2 2 2 0 2 10 2 7 2 13 2 4 2 17 2 9 2 4 2 2 2 7 2 10 2 0 2 1 2 4 2 5 2 7 2 14 2 6 2 4 2 11 2 4 2 15 2 4 2 1 2 11 2 0 2 2 2 1 2 2 2 1 2 4 2 3 2 2 2 3 2 0 2 0 2 3 2 3 2 2 2 1 2 3 2 1 2 13 2 3 2 14 2 6 2 27 2 9 2 3 2 4 2 28 2 12 2 1 2 13 2 1 2 2 2 1 2 12 2 9 2 1 2 38 2 8 2 56 2 19 2 0 2 2 2 46 2 2 2 17 2 5 2 2 2 17 2 8 2 35 2 4 2 11 2 13 2 53 2 11 2 31 2 7 2 7 2 0 2 10 2 2 2 13 2 1 2 1 2 7 2 3000"/>
<path d="M1382 1363.27h1020" stroke-dasharray="0 13 2 4 2 13 2 2 2 17 2 1 2 4 2 0 2 4 2 11 2 1 2 2 2 4 2 10 2 3 2 0 2 0 2 7 2 6 2 1 2 2 2 0 2 7 2 5 2 26 2 4 2 13 2 24 2 8 2 3 2 7 2 1 2 4 2 2 2 10 2 5 2 0 2 8 2 14 2 0 2 4 2 0 2 5 2 2 2 8 2 3 2 3 2 14 2 1 2 1 2 3 2 13 2 6 2 1 2 2 2 1 2 0 2 0 2 3 2 1 2 17 2 7 2 24 2 0 2 6 2 0 2 1 2 11 2 0 2 4 2 9 2 3 2 9 2 5 2 1 2 6 2 10 2 4 2 6 2 21 2 3 2 9 2 53 2 22 2 13 2 17 2 10 2 36 2 16 2 15 2 4 2 9 2 5 2 0 2 12 2 15 2 20 2 5 2 5 2 4 2 11 2 2 2 3 2 5 2 2 2 7 2 6 2 1 2 0 2 4 2 3 2 3 2 13 2 3000"/>
<path d="M1382 1366.64h1020" stroke-dasharray="0 0 2 4 2 0 2 1 2 4 2 5 2 2 2 0 2 16 2 6 2 14 2 9 2 2 2 8 2 6 2 14 2 28 2 6 2 6 2 45 2 15 2 0 2 0 2 0 2 6 2 12 2 6 2 9 2 0 2 4 2 3 2 0 2 2 2 26 2 2 2 5 2 1 2 67 2 7 2 25 2 4 2 11 2 2 2 3 2 2 2 2 2 9 2 15 2 26 2 7 2 8 2 2 2 20 2 9 2 0 2 88 2 26 2 52 2 10 2 13 2 27 2 1 2 26 2 34 2 6 2 7 2 1 2 16 2 4 2 38 2 4 2 19 2 2 2 2 2 3 2 3 2 3000"/>
<path d="M1382 1370.01h1020" stroke-dasharray="0 4 2 0 2 14 2 10 2 13 2 0 2 0 2 1 2 7 2 51 2 2 2 12 2 33 2 4 2 0 2 7 2 14 2 11 2 0 2 0 2 7 2 23 2 0 2 21 2 30 2 1 2 17 2 39 2 8 2 7 2 5 2 25 2 27 2 0 2 17 2 14 2 1 2 3 2 9 2 9 2 0 2 14 2 3 2 23 2 9 2 20 2 50 2 2 2 60 2 10 2 73 2 40 2 50 2 0 2 27 2 7 2 12 2 21 2 1 2 20 2 6 2 3000"/>
<path d="M1382 1373.38h1020" stroke-dasharray="0 3 2 4 2 2 2 3 2 7 2 2 2 8 2 4 2 20 2 0 2 14 2 10 2 16 2 14 2 10 2 0 2 3 2 3 2 8 2 1 2 1 2 1 2 7 2 3 2 0 2 29 2 6 2 7 2 7 2 16 2 3 2 6 2 2 2 0 2 3 2 7 2 1 2 1 2 6 2 4 2 3 2 13 2 6 2 0 2 3 2 1 2 12 2 6 2 3 2 1 2 0 2 2 2 5 2 3 2 14 2 3 2 0 2 6 2 13 2 1 2 5 2 0 2 15 2 14 2 4 2 0 2 11 2 7 2 2 2 1 2 10 2 1 2 16 2 7 2 10 2 7 2 0 2 2 2 2 2 2 2 7 2 16 2 23 2 21 2 7 2 51 2 11 2 27 2 17 2 9 2 15 2 7 2 5 2 2 2 19 2 0 2 9 2 14 2 7 2 7 2 2 2 18 2 2 2 7 2 0 2 5 2 12 2 3 2 0 2 6 2 11 2 3000"/>
<path d="M1382 1376.75h1020" stroke-dasharray="0 6 2 0 2 9 2 15 2 22 2 5 2 0 2 5 2 0 2 1 2 3 2 1 2 8 2 13 2 3 2 2 2 2 2 0 2 5 2 10 2 4 2 1 2 6 2 1 2 2 2 4 2 1 2 9 2 3 2 1 2 6 2 7 2 15 2 4 2 4 2 6 2 7 2 4 2 5 2 2 2 35 2 3 2 8 2 4 2 3 2 1 2 7 2 19 2 1 2 0 2 2 2 0 2 11 2 12 2 11 2 17 2 2 2 4 2 5 2 7 2 12 2 9 2 29 2 3 2 40 2 6 2 27 2 3 2 22 2 28 2 62 2 12 2 9 2 30 2 2 2 1 2 14 2 5 2 6 2 20 2 18 2 3 2 13 2 32 2 12 2 3 2 30 2 0 2 5 2 3 2 9 2 13 2 3000"/>
<path d="M1382 1380.12h1020" stroke-dasharray="0 2 2 0 2 7 2 6 2 1 2 5 2 1 2 2 2 1 2 4 2 4 2 0 2 2 2 3 2 4 2 6 2 6 2 1 2 4 2 5 2 0 2 7 2 3 2 2 2 1 2 1 2 0 2 5 2 4 2 6 2 5 2 11 2 0 2 1 2 4 2 1 2 0 2 1 2 0 2 3 2 7 2 5 2 9 2 6 2 5 2 8 2 1 2 8 2 3 2 9 2 26 2 9 2 5 2 1 2 3 2 1 2 0 2 3 2 2 2 3 2 0 2 0 2 9 2 6 2 0 2 3 2 0 2 0 2 26 2 1 2 3 2 0 2 0 2 14 2 2 2 0 2 1 2 1 2 3 2 2 2 9 2 4 2 1 2 3 2 3 2 26 2 2 2 12 2 1 2 2 2 3 2 6 2 3 2 10 2 9 2 6 2 0 2 10 2 0 2 1 2 3 2 1 2 17 2 21 2 6 2 2 2 4 2 8 2 8 2 3 2 4 2 4 2 4 2 9 2 1 2 5 2 3 2 10 2 6 2 23 2 4 2 4 2 27 2 4 2 20 2 22 2 0 2 12 2 3 2 7 2 6 2 1 2 4 2 0 2 8 2 4 2 20 2 1 2 10 2 0 2 0 2 0 2 6 2 6 2 1 2 3000"/>
<path d="M1382 1383.48h1020" stroke-dasharray="0 7 2 10 2 3 2 3 2 4 2 13 2 3 2 12 2 20 2 8 2 8 2 7 2 1 2 1 2 3 2 0 2 5 2 11 2 15 2 1 2 19 2 2 2 5 2 2 2 27 2 6 2 10 2 2 2 4 2 28 2 0 2 1 2 19 2 6 2 15 2 3 2 11 2 4 2 9 2 1 2 25 2 1 2 0 2 2 2 5 2 14 2 9 2 7 2 36 2 11 2 0 2 22 2 3 2 5 2 0 2 7 2 7 2 6 2 3 2 102 2 8 2 5 2 42 2 36 2 44 2 29 2 0 2 6 2 79 2 16 2 2 2 20 2 12 2 3000"/>
<path d="M1382 1386.85h1020" stroke-dasharray="0 13 2 0 2 3 2 13 2 1 2 7 2 1 2 12 2 16 2 6 2 4 2 5 2 5 2 1 2 5 2 1 2 4 2 0 2 2 2 12 2 4 2 8 2 11 2 12 2 2 2 10 2 4 2 12 2 4 2 0 2 6 2 0 2 13 2 1 2 9 2 11 2 6 2 18 2 1 2 7 2 0 2 5 2 8 2 4 2 0 2 6 2 19 2 2 2 2 2 0 2 14 2 13 2 3 2 0 2 1 2 0 2 15 2 3 2 2 2 1 2 0 2 0 2 3 2 1 2 17 2 10 2 24 2 5 2 7 2 11 2 7 2 3 2 0 2 44 2 6 2 10 2 19 2 2 2 0 2 40 2 4 2 62 2 43 2 11 2 28 2 2 2 3 2 12 2 14 2 11 2 17 2 5 2 7 2 11 2 7 2 3 2 13 2 0 2 8 2 0 2 3000"/>
<path d="M1382 1390.22h1020" stroke-dasharray="0 7 2 3 2 16 2 0 2 0 2 2 2 0 2 3 2 1 2 0 2 0 2 0 2 3 2 6 2 2 2 4 2 6 2 5 2 1 2 4 2 0 2 4 2 0 2 1 2 2 2 15 2 2 2 0 2 5 2 12 2 3 2 2 2 3 2 2 2 0 2 4 2 1 2 7 2 4 2 7 2 0 2 4 2 5 2 2 2 0 2 4 2 9 2 3 2 7 2 0 2 4 2 0 2 2 2 1 2 0 2 2 2 4 2 1 2 2 2 7 2 0 2 11 2 2 2 6 2 10 2 4 2 1 2 3 2 14 2 16 2 11 2 6 2 0 2 6 2 10 2 10 2 8 2 0 2 9 2 5 2 1 2 4 2 0 2 1 2 2 2 9 2 0 2 2 2 3 2 2 2 1 2 21 2 1 2 16 2 19 2 26 2 7 2 35 2 7 2 1 2 13 2 16 2 4 2 7 2 6 2 22 2 5 2 8 2 4 2 3 2 15 2 14 2 3 2 7 2 7 2 6 2 2 2 2 2 8 2 7 2 0 2 4 2 0 2 10 2 0 2 9 2 15 2 2 2 5 2 6 2 1 2 2 2 0 2 2 2 5 2 0 2 12 2 1 2 0 2 1 2 3 2 1 2 0 2 10 2 3000"/>
<path d="M1382 1393.59h1020" stroke-dasharray="0 0 2 0 2 7 2 10 2 1 2 6 2 0 2 0 2 6 2 2 2 6 2 10 2 1 2 2 2 15 2 0 2 4 2 6 2 0 2 8 2 16 2 0 2 1 2 10 2 2 2 0 2 0 2 3 2 4 2 5 2 0 2 0 2 4 2 10 2 3 2 3 2 2 2 8 2 2 2 3 2 1 2 2 2 10 2 12 2 1 2 3 2 2 2 3 2 21 2 0 2 4 2 4 2 3 2 6 2 5 2 4 2 0 2 4 2 4 2 9 2 3 2 11 2 2 2 1 2 3 2 5 2 12 2 4 2 0 2 1 2 3 2 0 2 1 2 12 2 2 2 4 2 9 2 10 2 18 2 1 2 2 2 12 2 7 2 4 2 7 2 3 2 0 2 0 2 21 2 25 2 2 2 15 2 8 2 3 2 19 2 3 2 12 2 5 2 23 2 10 2 3 2 9 2 4 2 1 2 4 2 56 2 15 2 1 2 17 2 5 2 7 2 2 2 2 2 5 2 6 2 18 2 6 2 3 2 3 2 3 2 10 2 0 2 5 2 0 2 1 2 5 2 10 2 1 2 4 2 9 2 1 2 3000"/>
<path d="M1382 1396.96h1020" stroke-dasharray="0 8 2 3 2 1 2 0 2 10 2 2 2 4 2 1 2 1 2 6 2 26 2 9 2 3 2 3 2 6 2 14 2 2 2 0 2 12 2 13 2 2 2 5 2 4 2 0 2 3 2 2 2 22 2 16 2 1 2 1 2 3 2 2 2 3 2 0 2 2 2 7 2 0 2 7 2 10 2 8 2 2 2 19 2 0 2 11 2 9 2 2 2 0 2 20 2 1 2 4 2 3 2 7 2 25 2 10 2 18 2 10 2 17 2 0 2 4 2 14 2 19 2 3 2 0 2 6 2 6 2 32 2 25 2 10 2 71 2 39 2 5 2 42 2 6 2 29 2 7 2 2 2 20 2 5 2 7 2 30 2 11 2 4 2 21 2 0 2 2 2 27 2 3000"/>
<path d="M1382 1400.33h1020" stroke-dasharray="0 12 2 5 2 0 2 3 2 1 2 5 2 7 2 13 2 5 2 5 2 8 2 2 2 2 2 4 2 9 2 6 2 0 2 2 2 7 2 2 2 15 2 5 2 3 2 6 2 11 2 0 2 3 2 4 2 0 2 0 2 6 2 0 2 1 2 1 2 3 2 2 2 0 2 2 2 0 2 30 2 2 2 4 2 6 2 0 2 4 2 4 2 0 2 3 2 9 2 5 2 1 2 6 2 1 2 3 2 0 2 3 2 5 2 2 2 7 2 9 2 0 2 3 2 0 2 3 2 5 2 3 2 0 2 2 2 3 2 1 2 16 2 1 2 9 2 5 2 9 2 7 2 0 2 1 2 0 2 6 2 10 2 13 2 1 2 13 2 1 2 33 2 13 2 4 2 3 2 2 2 9 2 6 2 11 2 24 2 24 2 28 2 14 2 24 2 3 2 12 2 16 2 2 2 1 2 3 2 7 2 10 2 2 2 7 2 22 2 2 2 1 2 3 2 7 2 3 2 10 2 1 2 16 2 0 2 1 2 3 2 4 2 3 2 5 2 5 2 0 2 5 2 4 2 1 2 25 2 3000"/>
<path d="M1382 1403.70h1020" stroke-dasharray="0 0 2 1 2 5 2 4 2 0 2 8 2 0 2 0 2 0 2 0 2 1 2 0 2 0 2 3 2 1 2 2 2 2 2 1 2 7 2 0 2 0 2 0 2 0 2 1 2 8 2 1 2 2 2 5 2 0 2 0 2 12 2 0 2 9 2 1 2 0 2 8 2 2 2 4 2 1 2 2 2 2 2 1 2 3 2 5 2 2 2 0 2 1 2 3 2 0 2 2 2 1 2 0 2 4 2 2 2 0 2 8 2 1 2 0 2 8 2 0 2 5 2 2 2 0 2 2 2 6 2 1 2 0 2 0 2 0 2 3 2 1 2 0 2 9 2 1 2 1 2 3 2 3 2 7 2 1 2 2 2 0 2 0 2 0 2 0 2 2 2 7 2 0 2 1 2 0 2 0 2 8 2 13 2 2 2 0 2 0 2 2 2 6 2 0 2 0 2 4 2 0 2 10 2 5 2 0 2 0 2 7 2 0 2 3 2 3 2 2 2 6 2 8 2 0 2 0 2 0 2 7 2 0 2 3 2 20 2 4 2 3 2 1 2 8 2 2 2 1 2 0 2 0 2 3 2 10 2 2 2 7 2 2 2 2 2 4 2 13 2 4 2 7 2 32 2 8 2 2 2 4 2 0 2 23 2 9 2 1 2 2 2 1 2 16 2 2 2 12 2 1 2 3 2 0 2 3 2 2 2 6 2 4 2 3 2 4 2 1 2 1 2 10 2 1 2 0 2 5 2 4 2 3 2 1 2 2 2 1 2 0 2 5 2 13 2 2 2 11 2 4 2 3 2 4 2 2 2 4 2 2 2 5 2 0 2 3 2 0 2 8 2 1 2 0 2 4 2 6 2 3 2 1 2 2 2 4 2 0 2 3000"/>
<path d="M1382 1407.07h1020" stroke-dasharray="0 4 2 2 2 0 2 0 2 11 2 1 2 2 2 15 2 6 2 1 2 10 2 0 2 0 2 2 2 3 2 2 2 20 2 4 2 2 2 1 2 6 2 0 2 1 2 15 2 2 2 6 2 0 2 1 2 17 2 1 2 3 2 12 2 6 2 7 2 2 2 4 2 1 2 4 2 0 2 16 2 2 2 5 2 37 2 7 2 4 2 0 2 3 2 14 2 6 2 7 2 5 2 4 2 3 2 4 2 4 2 4 2 9 2 3 2 0 2 9 2 5 2 4 2 1 2 2 2 2 2 4 2 1 2 0 2 0 2 7 2 16 2 1 2 8 2 6 2 11 2 13 2 2 2 1 2 0 2 13 2 4 2 2 2 0 2 8 2 8 2 5 2 10 2 6 2 8 2 0 2 3 2 9 2 18 2 28 2 18 2 3 2 10 2 3 2 31 2 11 2 8 2 9 2 13 2 0 2 23 2 14 2 0 2 16 2 6 2 4 2 4 2 6 2 1 2 0 2 7 2 1 2 0 2 1 2 1 2 10 2 13 2 4 2 5 2 1 2 9 2 3 2 3000"/>
<path d="M1382 1410.44h1020" stroke-dasharray="0 2 2 4 2 9 2 0 2 2 2 2 2 3 2 6 2 0 2 3 2 1 2 0 2 0 2 0 2 0 2 0 2 0 2 0 2 6 2 2 2 2 2 0 2 1 2 2 2 0 2 1 2 1 2 6 2 4 2 0 2 1 2 0 2 0 2 1 2 1 2 0 2 7 2 4 2 1 2 3 2 5 2 9 2 0 2 2 2 5 2 10 2 0 2 1 2 3 2 2 2 8 2 2 2 0 2 5 2 1 2 10 2 1 2 0 2 0 2 0 2 1 2 2 2 0 2 1 2 5 2 2 2 4 2 2 2 0 2 1 2 3 2 0 2 6 2 3 2 0 2 1 2 0 2 0 2 0 2 6 2 2 2 4 2 7 2 9 2 1 2 4 2 0 2 1 2 2 2 5 2 1 2 0 2 6 2 0 2 15 2 6 2 8 2 4 2 7 2 2 2 8 2 8 2 4 2 5 2 1 2 15 2 1 2 2 2 8 2 2 2 7 2 5 2 3 2 11 2 11 2 2 2 3 2 11 2 8 2 4 2 9 2 4 2 5 2 3 2 12 2 15 2 4 2 2 2 11 2 2 2 6 2 2 2 7 2 0 2 4 2 2 2 4 2 4 2 4 2 6 2 2 2 8 2 0 2 0 2 2 2 2 2 23 2 0 2 17 2 0 2 14 2 0 2 9 2 3 2 5 2 4 2 7 2 9 2 10 2 3 2 8 2 1 2 0 2 1 2 14 2 0 2 1 2 3 2 0 2 0 2 0 2 7 2 3 2 2 2 0 2 0 2 6 2 0 2 0 2 1 2 4 2 3000"/>
<path d="M1382 1413.81h1020" stroke-dasharray="0 7 2 22 2 1 2 3 2 0 2 1 2 19 2 56 2 0 2 0 2 2 2 13 2 12 2 1 2 2 2 1 2 1 2 14 2 6 2 16 2 3 2 7 2 0 2 24 2 9 2 1 2 10 2 12 2 3 2 4 2 7 2 9 2 4 2 22 2 0 2 0 2 9 2 23 2 8 2 0 2 0 2 30 2 18 2 23 2 13 2 9 2 7 2 8 2 14 2 5 2 9 2 4 2 83 2 18 2 51 2 15 2 1 2 11 2 7 2 10 2 31 2 11 2 0 2 2 2 38 2 2 2 10 2 16 2 31 2 20 2 21 2 6 2 9 2 3000"/>
<path d="M1382 1417.18h1020" stroke-dasharray="0 3 2 1 2 3 2 10 2 0 2 0 2 7 2 1 2 0 2 1 2 4 2 12 2 0 2 8 2 5 2 9 2 3 2 10 2 5 2 0 2 2 2 4 2 6 2 12 2 0 2 16 2 0 2 0 2 2 2 14 2 3 2 0 2 1 2 0 2 3 2 3 2 7 2 0 2 1 2 2 2 7 2 4 2 2 2 15 2 6 2 1 2 29 2 2 2 0 2 3 2 1 2 12 2 3 2 8 2 0 2 4 2 4 2 1 2 6 2 0 2 5 2 2 2 8 2 1 2 11 2 2 2 1 2 1 2 14 2 4 2 31 2 2 2 0 2 5 2 27 2 6 2 10 2 2 2 38 2 2 2 7 2 0 2 0 2 15 2 33 2 6 2 9 2 0 2 2 2 22 2 19 2 23 2 4 2 15 2 0 2 10 2 3 2 4 2 10 2 3 2 3 2 7 2 9 2 2 2 5 2 9 2 17 2 5 2 6 2 8 2 13 2 8 2 1 2 3 2 14 2 3 2 2 2 2 2 4 2 2 2 2 2 15 2 0 2 5 2 3000"/>
<path d="M1382 1420.55h1020" stroke-dasharray="0 12 2 10 2 12 2 0 2 15 2 3 2 0 2 22 2 11 2 7 2 14 2 4 2 3 2 0 2 1 2 0 2 8 2 22 2 6 2 18 2 4 2 4 2 33 2 10 2 4 2 32 2 24 2 13 2 14 2 2 2 17 2 17 2 25 2 26 2 1 2 19 2 8 2 4 2 1 2 9 2 12 2 5 2 8 2 46 2 21 2 31 2 6 2 38 2 28 2 22 2 18 2 3 2 18 2 5 2 22 2 13 2 25 2 27 2 0 2 4 2 12 2 1 2 6 2 6 2 14 2 18 2 9 2 2 2 3000"/>
<path d="M1382 1423.92h1020" stroke-dasharray="0 2 2 9 2 0 2 4 2 23 2 35 2 8 2 19 2 7 2 0 2 3 2 36 2 4 2 0 2 6 2 3 2 3 2 0 2 4 2 0 2 0 2 2 2 2 2 2 2 10 2 0 2 5 2 10 2 16 2 14 2 0 2 3 2 5 2 1 2 6 2 3 2 1 2 2 2 2 2 5 2 3 2 0 2 8 2 3 2 4 2 1 2 3 2 12 2 3 2 0 2 6 2 14 2 1 2 4 2 2 2 2 2 0 2 2 2 2 2 24 2 1 2 5 2 20 2 17 2 2 2 7 2 33 2 13 2 29 2 10 2 36 2 23 2 10 2 1 2 0 2 11 2 2 2 24 2 5 2 0 2 14 2 3 2 5 2 2 2 0 2 2 2 0 2 8 2 9 2 5 2 6 2 2 2 8 2 4 2 21 2 36 2 4 2 0 2 3 2 14 2 0 2 4 2 13 2 5 2 2 2 9 2 3 2 1 2 1 2 8 2 3 2 3000"/>
<path d="M1382 1427.28h1020" stroke-dasharray="0 3 2 2 2 2 2 6 2 0 2 0 2 0 2 2 2 3 2 1 2 5 2 0 2 2 2 0 2 1 2 4 2 8 2 0 2 3 2 6 2 1 2 10 2 5 2 8 2 0 2 9 2 1 2 2 2 0 2 2 2 1 2 3 2 1 2 6 2 0 2 0 2 7 2 3 2 0 2 4 2 19 2 1 2 11 2 5 2 1 2 1 2 10 2 0 2 6 2 1 2 1 2 1 2 2 2 3 2 7 2 0 2 9 2 1 2 5 2 6 2 15 2 3 2 0 2 1 2 1 2 3 2 0 2 0 2 2 2 1 2 18 2 5 2 4 2 7 2 7 2 1 2 5 2 4 2 13 2 18 2 7 2 1 2 0 2 5 2 1 2 7 2 0 2 4 2 6 2 14 2 4 2 11 2 5 2 6 2 10 2 8 2 7 2 1 2 0 2 7 2 4 2 5 2 20 2 28 2 1 2 7 2 0 2 10 2 27 2 9 2 1 2 14 2 21 2 3 2 0 2 28 2 1 2 1 2 0 2 4 2 13 2 3 2 5 2 0 2 20 2 1 2 8 2 6 2 7 2 3 2 10 2 14 2 1 2 4 2 8 2 2 2 14 2 3 2 16 2 0 2 3000"/>
<path d="M1382 1430.65h1020" stroke-dasharray="0 32 2 12 2 28 2 5 2 12 2 44 2 1 2 6 2 19 2 4 2 9 2 1 2 1 2 19 2 0 2 8 2 0 2 2 2 2 2 18 2 4 2 1 2 30 2 7 2 14 2 14 2 62 2 7 2 1 2 22 2 14 2 1 2 22 2 7 2 3 2 38 2 46 2 27 2 43 2 10 2 7 2 32 2 25 2 36 2 31 2 13 2 15 2 8 2 6 2 6 2 5 2 70 2 0 2 14 2 23 2 16 2 3000"/>
<path d="M1382 1434.02h1020" stroke-dasharray="0 20 2 6 2 13 2 1 2 11 2 16 2 2 2 2 2 5 2 7 2 9 2 0 2 0 2 5 2 8 2 1 2 13 2 22 2 10 2 9 2 1 2 9 2 3 2 6 2 0 2 5 2 4 2 21 2 0 2 25 2 5 2 1 2 9 2 3 2 1 2 6 2 2 2 17 2 0 2 8 2 13 2 22 2 21 2 3 2 1 2 7 2 0 2 2 2 8 2 19 2 1 2 6 2 8 2 1 2 18 2 1 2 11 2 1 2 10 2 13 2 0 2 17 2 44 2 103 2 5 2 14 2 10 2 13 2 36 2 17 2 8 2 5 2 12 2 13 2 12 2 40 2 11 2 5 2 2 2 10 2 6 2 3 2 14 2 3000"/>
<path d="M1382 1437.39h1020" stroke-dasharray="0 0 2 3 2 2 2 9 2 2 2 3 2 4 2 3 2 9 2 0 2 5 2 5 2 2 2 1 2 0 2 4 2 1 2 0 2 6 2 9 2 5 2 5 2 8 2 1 2 5 2 3 2 6 2 17 2 3 2 0 2 1 2 0 2 0 2 4 2 2 2 0 2 2 2 15 2 0 2 1 2 1 2 5 2 3 2 0 2 0 2 0 2 1 2 0 2 9 2 3 2 7 2 14 2 0 2 26 2 5 2 4 2 2 2 0 2 2 2 15 2 16 2 2 2 2 2 7 2 1 2 0 2 0 2 11 2 10 2 4 2 2 2 11 2 2 2 2 2 1 2 1 2 1 2 5 2 6 2 2 2 2 2 4 2 6 2 3 2 1 2 1 2 30 2 3 2 3 2 13 2 3 2 4 2 0 2 25 2 11 2 6 2 14 2 19 2 0 2 12 2 8 2 41 2 16 2 30 2 7 2 5 2 8 2 3 2 13 2 10 2 8 2 5 2 13 2 0 2 5 2 11 2 2 2 3 2 5 2 1 2 0 2 1 2 17 2 13 2 4 2 0 2 5 2 0 2 2 2 6 2 7 2 2 2 3000"/>
<path d="M1382 1440.76h1020" stroke-dasharray="0 7 2 1 2 14 2 37 2 22 2 0 2 14 2 7 2 29 2 26 2 7 2 5 2 22 2 20 2 15 2 3 2 64 2 2 2 10 2 3 2 8 2 16 2 0 2 70 2 24 2 41 2 8 2 30 2 17 2 19 2 4 2 4 2 193 2 24 2 16 2 17 2 8 2 13 2 9 2 16 2 6 2 8 2 22 2 35 2 3000"/>
<path d="M1382 1444.13h1020" stroke-dasharray="0 0 2 11 2 2 2 2 2 16 2 2 2 9 2 4 2 3 2 8 2 5 2 11 2 6 2 3 2 1 2 11 2 1 2 9 2 0 2 11 2 10 2 0 2 0 2 0 2 25 2 5 2 3 2 2 2 3 2 1 2 0 2 7 2 2 2 22 2 4 2 14 2 0 2 7 2 2 2 2 2 12 2 3 2 6 2 6 2 3 2 13 2 11 2 0 2 3 2 3 2 7 2 3 2 26 2 11 2 0 2 16 2 11 2 4 2 19 2 23 2 4 2 0 2 18 2 58 2 12 2 29 2 28 2 86 2 31 2 9 2 5 2 2 2 5 2 20 2 30 2 0 2 0 2 23 2 15 2 4 2 3 2 1 2 7 2 10 2 13 2 5 2 7 2 7 2 3 2 0 2 3000"/>
<path d="M1382 1447.50h1020" stroke-dasharray="0 7 2 0 2 1 2 7 2 3 2 2 2 3 2 9 2 1 2 4 2 6 2 0 2 5 2 4 2 12 2 2 2 3 2 1 2 2 2 0 2 4 2 2 2 5 2 7 2 3 2 7 2 2 2 0 2 0 2 0 2 1 2 13 2 5 2 5 2 2 2 6 2 10 2 6 2 1 2 13 2 2 2 10 2 0 2 11 2 6 2 2 2 1 2 1 2 6 2 0 2 6 2 24 2 5 2 5 2 2 2 1 2 1 2 5 2 0 2 0 2 7 2 5 2 1 2 32 2 7 2 10 2 10 2 1 2 0 2 5 2 8 2 3 2 10 2 5 2 1 2 6 2 11 2 0 2 7 2 8 2 0 2 4 2 5 2 3 2 16 2 6 2 3 2 0 2 3 2 1 2 20 2 13 2 44 2 29 2 3 2 12 2 23 2 4 2 6 2 9 2 4 2 19 2 2 2 0 2 5 2 0 2 13 2 10 2 16 2 0 2 5 2 4 2 7 2 8 2 16 2 0 2 7 2 0 2 34 2 0 2 5 2 4 2 8 2 5 2 3000"/>
<path d="M1382 1450.87h1020" stroke-dasharray="0 17 2 21 2 1 2 25 2 61 2 23 2 6 2 12 2 1 2 0 2 17 2 7 2 23 2 0 2 9 2 84 2 2 2 18 2 41 2 33 2 26 2 14 2 17 2 10 2 14 2 25 2 41 2 55 2 34 2 3 2 19 2 7 2 39 2 2 2 41 2 25 2 12 2 18 2 40 2 9 2 9 2 31 2 6 2 14 2 9 2 0 2 3000"/>
<path d="M1382 1454.24h1020" stroke-dasharray="0 1 2 7 2 11 2 1 2 7 2 5 2 3 2 7 2 13 2 0 2 1 2 7 2 10 2 0 2 6 2 0 2 3 2 1 2 0 2 5 2 0 2 7 2 2 2 11 2 5 2 2 2 1 2 1 2 19 2 2 2 0 2 4 2 0 2 0 2 0 2 4 2 0 2 0 2 2 2 1 2 0 2 4 2 9 2 6 2 0 2 13 2 0 2 3 2 3 2 10 2 0 2 5 2 0 2 0 2 12 2 5 2 2 2 6 2 5 2 2 2 0 2 2 2 13 2 5 2 2 2 4 2 2 2 1 2 6 2 3 2 5 2 7 2 9 2 1 2 8 2 10 2 0 2 6 2 7 2 2 2 11 2 8 2 0 2 5 2 9 2 1 2 1 2 1 2 2 2 3 2 0 2 6 2 0 2 32 2 1 2 19 2 7 2 12 2 6 2 1 2 1 2 4 2 17 2 5 2 8 2 5 2 3 2 5 2 8 2 2 2 16 2 12 2 2 2 10 2 22 2 1 2 13 2 3 2 12 2 6 2 1 2 10 2 11 2 0 2 4 2 2 2 2 2 1 2 8 2 14 2 2 2 0 2 5 2 11 2 4 2 2 2 7 2 0 2 0 2 6 2 6 2 9 2 2 2 6 2 4 2 3 2 3000"/>
<path d="M1382 1457.61h1020" stroke-dasharray="0 3 2 52 2 5 2 8 2 26 2 1 2 9 2 15 2 14 2 23 2 7 2 4 2 4 2 11 2 31 2 3 2 57 2 30 2 0 2 9 2 1 2 27 2 5 2 0 2 4 2 20 2 43 2 14 2 9 2 44 2 17 2 6 2 30 2 16 2 51 2 10 2 171 2 27 2 3 2 38 2 3 2 9 2 22 2 6 2 7 2 0 2 25 2 3000"/>
<path d="M1382 1460.98h1020" stroke-dasharray="0 2 2 4 2 1 2 3 2 0 2 4 2 13 2 0 2 1 2 4 2 0 2 13 2 2 2 2 2 2 2 7 2 0 2 6 2 0 2 7 2 5 2 6 2 5 2 10 2 3 2 2 2 3 2 10 2 1 2 9 2 8 2 6 2 6 2 1 2 0 2 6 2 0 2 11 2 1 2 1 2 5 2 2 2 22 2 3 2 3 2 0 2 9 2 2 2 6 2 4 2 5 2 0 2 10 2 7 2 0 2 3 2 7 2 1 2 6 2 1 2 0 2 3 2 13 2 4 2 25 2 4 2 12 2 2 2 7 2 5 2 4 2 2 2 4 2 2 2 0 2 6 2 30 2 1 2 13 2 22 2 0 2 3 2 4 2 17 2 3 2 4 2 4 2 0 2 23 2 22 2 9 2 14 2 21 2 43 2 25 2 37 2 8 2 23 2 8 2 6 2 2 2 17 2 0 2 2 2 0 2 6 2 1 2 1 2 27 2 5 2 7 2 0 2 22 2 7 2 3000"/>
<path d="M1382 1464.35h1020" stroke-dasharray="0 3 2 3 2 3 2 12 2 5 2 5 2 0 2 6 2 3 2 0 2 4 2 2 2 5 2 0 2 0 2 1 2 4 2 10 2 0 2 2 2 11 2 3 2 10 2 5 2 4 2 0 2 4 2 1 2 0 2 14 2 2 2 3 2 11 2 4 2 6 2 4 2 10 2 9 2 4 2 24 2 5 2 12 2 4 2 8 2 3 2 4 2 4 2 5 2 1 2 6 2 13 2 1 2 2 2 12 2 3 2 11 2 3 2 4 2 14 2 10 2 4 2 0 2 4 2 0 2 5 2 2 2 8 2 2 2 5 2 2 2 3 2 0 2 18 2 1 2 2 2 4 2 0 2 8 2 2 2 5 2 8 2 0 2 1 2 1 2 8 2 18 2 7 2 6 2 6 2 32 2 18 2 36 2 28 2 1 2 11 2 4 2 3 2 8 2 8 2 1 2 14 2 1 2 29 2 0 2 11 2 2 2 10 2 7 2 5 2 11 2 1 2 7 2 1 2 6 2 5 2 18 2 3 2 4 2 15 2 3 2 10 2 6 2 3000"/>
<path d="M1382 1467.72h1020" stroke-dasharray="0 7 2 5 2 8 2 15 2 2 2 14 2 3 2 8 2 2 2 9 2 1 2 22 2 8 2 4 2 15 2 1 2 9 2 27 2 1 2 2 2 32 2 9 2 9 2 27 2 40 2 9 2 31 2 29 2 12 2 11 2 14 2 0 2 8 2 2 2 12 2 17 2 37 2 46 2 42 2 9 2 6 2 23 2 13 2 30 2 29 2 17 2 37 2 0 2 18 2 20 2 51 2 11 2 1 2 32 2 1 2 7 2 9 2 4 2 0 2 9 2 15 2 3000"/>
<path d="M1382 1471.08h1020" stroke-dasharray="0 7 2 6 2 6 2 13 2 6 2 2 2 6 2 10 2 13 2 0 2 17 2 17 2 6 2 0 2 1 2 6 2 12 2 9 2 2 2 5 2 6 2 9 2 8 2 5 2 0 2 6 2 0 2 0 2 7 2 8 2 7 2 0 2 7 2 0 2 21 2 0 2 7 2 4 2 6 2 5 2 5 2 10 2 6 2 4 2 3 2 0 2 6 2 2 2 8 2 1 2 9 2 12 2 9 2 53 2 6 2 7 2 13 2 1 2 7 2 3 2 34 2 5 2 31 2 28 2 21 2 6 2 69 2 35 2 16 2 0 2 32 2 19 2 8 2 2 2 12 2 0 2 5 2 6 2 23 2 3 2 11 2 14 2 7 2 0 2 6 2 1 2 12 2 4 2 1 2 10 2 3000"/>
<path d="M1382 1474.45h1020" stroke-dasharray="0 8 2 24 2 0 2 5 2 0 2 0 2 13 2 0 2 16 2 1 2 0 2 3 2 0 2 0 2 3 2 21 2 4 2 9 2 4 2 2 2 1 2 4 2 0 2 4 2 0 2 6 2 12 2 0 2 2 2 0 2 5 2 17 2 2 2 2 2 5 2 4 2 5 2 3 2 3 2 7 2 1 2 5 2 0 2 10 2 7 2 1 2 2 2 8 2 0 2 2 2 14 2 9 2 15 2 6 2 46 2 0 2 8 2 13 2 2 2 0 2 4 2 0 2 0 2 6 2 0 2 3 2 0 2 4 2 14 2 5 2 1 2 2 2 3 2 7 2 2 2 8 2 10 2 5 2 13 2 19 2 5 2 30 2 9 2 31 2 0 2 8 2 25 2 2 2 0 2 4 2 7 2 28 2 31 2 0 2 24 2 10 2 0 2 5 2 11 2 4 2 15 2 13 2 5 2 7 2 10 2 1 2 0 2 0 2 0 2 18 2 6 2 5 2 2 2 0 2 2 2 8 2 0 2 4 2 1 2 3000"/>
<path d="M1382 1477.82h1020" stroke-dasharray="0 3 2 4 2 2 2 14 2 5 2 1 2 2 2 2 2 11 2 5 2 4 2 1 2 1 2 6 2 1 2 1 2 8 2 4 2 8 2 0 2 0 2 3 2 3 2 0 2 8 2 5 2 0 2 12 2 1 2 8 2 8 2 2 2 1 2 1 2 1 2 0 2 1 2 1 2 8 2 1 2 0 2 0 2 0 2 5 2 2 2 12 2 0 2 3 2 0 2 7 2 9 2 4 2 10 2 1 2 2 2 2 2 1 2 0 2 4 2 0 2 0 2 4 2 0 2 3 2 3 2 3 2 1 2 0 2 1 2 0 2 6 2 1 2 8 2 4 2 0 2 0 2 0 2 1 2 8 2 5 2 0 2 0 2 11 2 0 2 1 2 4 2 6 2 1 2 6 2 0 2 2 2 6 2 0 2 1 2 1 2 1 2 11 2 1 2 3 2 3 2 1 2 0 2 17 2 6 2 6 2 0 2 3 2 1 2 0 2 11 2 8 2 3 2 1 2 5 2 24 2 1 2 4 2 0 2 11 2 2 2 1 2 0 2 23 2 8 2 7 2 16 2 4 2 16 2 12 2 12 2 6 2 1 2 6 2 2 2 7 2 3 2 2 2 7 2 3 2 0 2 13 2 1 2 8 2 0 2 4 2 1 2 0 2 0 2 5 2 2 2 10 2 0 2 4 2 0 2 2 2 10 2 6 2 3 2 0 2 1 2 5 2 2 2 0 2 8 2 5 2 0 2 3 2 2 2 2 2 6 2 3 2 0 2 4 2 4 2 3000"/>
<path d="M1382 1481.19h1020" stroke-dasharray="0 27 2 16 2 30 2 6 2 19 2 15 2 35 2 4 2 21 2 14 2 18 2 5 2 15 2 14 2 1 2 12 2 1 2 23 2 19 2 0 2 4 2 6 2 4 2 0 2 9 2 16 2 0 2 3 2 0 2 42 2 12 2 14 2 3 2 4 2 26 2 3 2 17 2 24 2 25 2 28 2 8 2 65 2 42 2 11 2 88 2 3 2 71 2 7 2 37 2 8 2 2 2 7 2 2 2 11 2 12 2 3000"/>
<path d="M1382 1484.56h1020" stroke-dasharray="0 8 2 2 2 11 2 0 2 4 2 15 2 2 2 1 2 2 2 5 2 12 2 2 2 1 2 0 2 38 2 6 2 7 2 6 2 1 2 8 2 0 2 2 2 6 2 37 2 3 2 15 2 0 2 7 2 22 2 18 2 10 2 0 2 0 2 2 2 3 2 20 2 8 2 3 2 0 2 30 2 17 2 2 2 10 2 5 2 10 2 9 2 0 2 8 2 1 2 0 2 8 2 11 2 0 2 2 2 11 2 33 2 42 2 35 2 7 2 2 2 15 2 12 2 1 2 4 2 21 2 8 2 3 2 9 2 2 2 5 2 3 2 4 2 26 2 5 2 12 2 24 2 4 2 6 2 5 2 8 2 8 2 2 2 1 2 1 2 7 2 1 2 4 2 8 2 3 2 0 2 3 2 13 2 4 2 15 2 0 2 2 2 0 2 24 2 2 2 7 2 2 2 3000"/>
<path d="M1382 1487.93h1020" stroke-dasharray="0 6 2 0 2 1 2 4 2 0 2 5 2 9 2 10 2 1 2 2 2 9 2 0 2 8 2 9 2 13 2 1 2 1 2 9 2 0 2 1 2 4 2 4 2 22 2 14 2 0 2 8 2 11 2 1 2 10 2 5 2 12 2 9 2 0 2 25 2 3 2 21 2 0 2 1 2 5 2 0 2 13 2 15 2 2 2 1 2 1 2 2 2 5 2 14 2 4 2 4 2 10 2 3 2 6 2 7 2 7 2 10 2 1 2 7 2 10 2 14 2 6 2 0 2 19 2 0 2 10 2 11 2 5 2 4 2 0 2 19 2 7 2 4 2 12 2 1 2 3 2 4 2 47 2 16 2 0 2 9 2 0 2 7 2 22 2 2 2 19 2 16 2 3 2 9 2 5 2 0 2 6 2 9 2 2 2 6 2 9 2 1 2 7 2 15 2 2 2 2 2 5 2 3 2 0 2 3 2 5 2 15 2 7 2 0 2 2 2 22 2 3 2 2 2 1 2 1 2 9 2 5 2 1 2 3000"/>
<path d="M1382 1491.30h1020" stroke-dasharray="0 9 2 2 2 3 2 8 2 7 2 7 2 1 2 13 2 10 2 1 2 2 2 6 2 2 2 5 2 2 2 5 2 3 2 6 2 1 2 3 2 34 2 10 2 10 2 5 2 15 2 1 2 6 2 6 2 8 2 13 2 1 2 2 2 2 2 8 2 5 2 2 2 2 2 1 2 4 2 8 2 13 2 13 2 2 2 6 2 2 2 0 2 22 2 4 2 3 2 10 2 3 2 1 2 22 2 1 2 2 2 5 2 16 2 14 2 13 2 13 2 0 2 57 2 1 2 2 2 49 2 3 2 42 2 11 2 2 2 37 2 5 2 7 2 25 2 14 2 27 2 10 2 11 2 6 2 13 2 7 2 6 2 1 2 14 2 1 2 7 2 12 2 12 2 1 2 2 2 1 2 0 2 9 2 12 2 5 2 3000"/>
<path d="M1382 1494.67h1020" stroke-dasharray="0 11 2 1 2 0 2 4 2 1 2 0 2 1 2 1 2 1 2 8 2 7 2 0 2 29 2 5 2 8 2 27 2 8 2 4 2 0 2 2 2 5 2 14 2 0 2 19 2 1 2 4 2 15 2 1 2 14 2 4 2 7 2 0 2 2 2 0 2 11 2 0 2 2 2 5 2 3 2 4 2 5 2 6 2 5 2 4 2 5 2 2 2 9 2 3 2 19 2 0 2 0 2 8 2 0 2 8 2 7 2 2 2 0 2 0 2 0 2 26 2 17 2 3 2 0 2 17 2 22 2 4 2 2 2 10 2 9 2 11 2 4 2 26 2 7 2 3 2 10 2 24 2 29 2 0 2 8 2 14 2 17 2 4 2 7 2 5 2 3 2 4 2 8 2 9 2 2 2 4 2 8 2 23 2 6 2 9 2 10 2 6 2 6 2 1 2 11 2 7 2 19 2 14 2 0 2 2 2 0 2 0 2 3 2 0 2 5 2 2 2 0 2 8 2 2 2 8 2 2 2 6 2 3000"/>
<path d="M1382 1498.04h1020" stroke-dasharray="0 9 2 6 2 1 2 0 2 11 2 3 2 3 2 10 2 25 2 0 2 1 2 12 2 11 2 5 2 17 2 2 2 0 2 3 2 5 2 8 2 1 2 9 2 9 2 9 2 7 2 39 2 6 2 2 2 1 2 8 2 3 2 2 2 3 2 5 2 3 2 12 2 14 2 3 2 6 2 0 2 1 2 11 2 13 2 22 2 8 2 1 2 8 2 0 2 6 2 8 2 1 2 24 2 2 2 3 2 7 2 1 2 0 2 1 2 1 2 5 2 14 2 3 2 0 2 0 2 7 2 42 2 12 2 14 2 9 2 13 2 36 2 18 2 69 2 44 2 36 2 45 2 1 2 17 2 21 2 11 2 47 2 3000"/>
<path d="M1382 1501.41h1020" stroke-dasharray="0 1 2 2 2 18 2 13 2 0 2 2 2 3 2 0 2 14 2 3 2 3 2 1 2 1 2 2 2 4 2 20 2 3 2 4 2 20 2 3 2 14 2 0 2 25 2 5 2 0 2 10 2 2 2 0 2 6 2 0 2 3 2 3 2 30 2 0 2 5 2 26 2 40 2 6 2 21 2 15 2 22 2 2 2 19 2 22 2 4 2 16 2 2 2 7 2 7 2 23 2 13 2 28 2 26 2 1 2 13 2 25 2 0 2 28 2 2 2 7 2 100 2 14 2 38 2 8 2 7 2 11 2 4 2 1 2 6 2 5 2 25 2 10 2 2 2 3 2 0 2 11 2 4 2 3 2 0 2 3 2 0 2 6 2 3000"/>
<path d="M1382 1504.78h1020" stroke-dasharray="0 0 2 0 2 1 2 0 2 1 2 2 2 4 2 16 2 5 2 0 2 9 2 4 2 3 2 2 2 17 2 1 2 1 2 14 2 0 2 1 2 4 2 0 2 5 2 6 2 2 2 1 2 1 2 6 2 2 2 2 2 0 2 0 2 1 2 11 2 0 2 2 2 1 2 5 2 0 2 3 2 7 2 0 2 2 2 7 2 2 2 0 2 3 2 1 2 3 2 0 2 1 2 0 2 3 2 0 2 0 2 1 2 4 2 1 2 1 2 0 2 1 2 2 2 1 2 3 2 0 2 4 2 0 2 4 2 8 2 11 2 0 2 3 2 0 2 1 2 1 2 2 2 2 2 8 2 1 2 5 2 0 2 1 2 7 2 0 2 33 2 0 2 4 2 2 2 0 2 7 2 0 2 0 2 1 2 11 2 4 2 4 2 2 2 4 2 2 2 3 2 2 2 5 2 3 2 3 2 2 2 5 2 6 2 6 2 0 2 1 2 4 2 4 2 13 2 4 2 3 2 14 2 9 2 27 2 5 2 5 2 60 2 0 2 3 2 1 2 0 2 15 2 6 2 1 2 17 2 6 2 2 2 5 2 0 2 6 2 7 2 9 2 6 2 13 2 1 2 7 2 2 2 26 2 0 2 2 2 0 2 1 2 5 2 1 2 0 2 3 2 2 2 0 2 0 2 5 2 0 2 5 2 0 2 1 2 8 2 0 2 0 2 7 2 2 2 6 2 4 2 2 2 0 2 0 2 2 2 3000"/>
<path d="M1382 1508.15h1020" stroke-dasharray="0 7 2 3 2 12 2 0 2 4 2 1 2 9 2 15 2 4 2 5 2 12 2 4 2 1 2 1 2 10 2 0 2 1 2 13 2 0 2 4 2 5 2 1 2 7 2 12 2 11 2 8 2 3 2 1 2 0 2 1 2 7 2 1 2 10 2 0 2 0 2 4 2 2 2 5 2 10 2 1 2 1 2 11 2 12 2 9 2 13 2 3 2 23 2 12 2 7 2 1 2 6 2 1 2 9 2 14 2 16 2 17 2 0 2 4 2 1 2 0 2 1 2 2 2 1 2 5 2 16 2 21 2 4 2 23 2 1 2 0 2 6 2 4 2 1 2 5 2 44 2 12 2 15 2 22 2 1 2 4 2 1 2 7 2 18 2 5 2 3 2 24 2 18 2 4 2 4 2 22 2 7 2 3 2 1 2 5 2 0 2 9 2 10 2 0 2 15 2 16 2 0 2 8 2 2 2 21 2 2 2 2 2 2 2 1 2 9 2 14 2 1 2 4 2 7 2 3000"/>
<path d="M1382 1511.52h1020" stroke-dasharray="0 9 2 22 2 4 2 0 2 0 2 20 2 0 2 0 2 2 2 0 2 0 2 3 2 4 2 8 2 10 2 17 2 3 2 15 2 2 2 0 2 18 2 0 2 8 2 3 2 6 2 3 2 1 2 10 2 7 2 9 2 2 2 3 2 2 2 13 2 4 2 25 2 1 2 6 2 1 2 5 2 0 2 14 2 0 2 6 2 3 2 6 2 3 2 4 2 26 2 9 2 7 2 6 2 6 2 18 2 0 2 0 2 0 2 4 2 2 2 0 2 3 2 12 2 18 2 4 2 7 2 27 2 17 2 5 2 1 2 20 2 9 2 12 2 8 2 1 2 22 2 17 2 2 2 1 2 23 2 2 2 5 2 5 2 36 2 15 2 23 2 4 2 11 2 0 2 4 2 9 2 5 2 6 2 0 2 6 2 2 2 13 2 33 2 7 2 5 2 15 2 1 2 6 2 19 2 5 2 3000"/>
</g>
<rect x="689.6" y="1336.5" width="512.4" height="177.2" fill="none" stroke="#000" stroke-width="2.2"/>
<line x1="689.6" y1="1513.7" x2="689.6" y2="1520.2" stroke="#333" stroke-width="1.2" />
<text transform="translate(676.44 1547.30) scale(1.0488 1)" font-family="DejaVu Sans, sans-serif" font-size="27.57" font-weight="normal" fill="#000">-2</text>
<line x1="753.6" y1="1513.7" x2="753.6" y2="1520.2" stroke="#333" stroke-width="1.2" />
<text transform="translate(740.34 1547.30) scale(1.0488 1)" font-family="DejaVu Sans, sans-serif" font-size="27.57" font-weight="normal" fill="#000">-1</text>
<line x1="817.7" y1="1513.7" x2="817.7" y2="1520.2" stroke="#333" stroke-width="1.2" />
<text transform="translate(809.02 1546.89) scale(1.0488 1)" font-family="DejaVu Sans, sans-serif" font-size="27.57" font-weight="normal" fill="#000">0</text>
<line x1="881.8" y1="1513.7" x2="881.8" y2="1520.2" stroke="#333" stroke-width="1.2" />
<text transform="translate(872.78 1547.30) scale(1.0488 1)" font-family="DejaVu Sans, sans-serif" font-size="27.57" font-weight="normal" fill="#000">1</text>
<line x1="945.8" y1="1513.7" x2="945.8" y2="1520.2" stroke="#333" stroke-width="1.2" />
<text transform="translate(937.48 1547.30) scale(1.0488 1)" font-family="DejaVu Sans, sans-serif" font-size="27.57" font-weight="normal" fill="#000">2</text>
<line x1="1009.9" y1="1513.7" x2="1009.9" y2="1520.2" stroke="#333" stroke-width="1.2" />
<text transform="translate(1001.24 1546.89) scale(1.0488 1)" font-family="DejaVu Sans, sans-serif" font-size="27.57" font-weight="normal" fill="#000">3</text>
<line x1="1073.9" y1="1513.7" x2="1073.9" y2="1520.2" stroke="#333" stroke-width="1.2" />
<text transform="translate(1065.29 1547.30) scale(1.0488 1)" font-family="DejaVu Sans, sans-serif" font-size="27.57" font-weight="normal" fill="#000">4</text>
<line x1="1138.0" y1="1513.7" x2="1138.0" y2="1520.2" stroke="#333" stroke-width="1.2" />
<text transform="translate(1129.41 1546.89) scale(1.0488 1)" font-family="DejaVu Sans, sans-serif" font-size="27.57" font-weight="normal" fill="#000">5</text>
<line x1="1202.0" y1="1513.7" x2="1202.0" y2="1520.2" stroke="#333" stroke-width="1.2" />
<text transform="translate(1193.18 1546.89) scale(1.0488 1)" font-family="DejaVu Sans, sans-serif" font-size="27.57" font-weight="normal" fill="#000">6</text>
<text transform="translate(898.92 1573.05) scale(0.8487 1)" font-family="DejaVu Sans, sans-serif" font-size="28.09" font-weight="normal" fill="#000">Time (s)</text>
<rect x="689.6" y="1612.0" width="512.4" height="177.0" fill="none" stroke="#000" stroke-width="2.2"/>
<line x1="753.6" y1="1612.0" x2="753.6" y2="1618.5" stroke="#333" stroke-width="1.2" />
<line x1="753.6" y1="1789.0" x2="753.6" y2="1782.5" stroke="#333" stroke-width="1.2" />
<line x1="817.7" y1="1612.0" x2="817.7" y2="1618.5" stroke="#333" stroke-width="1.2" />
<line x1="817.7" y1="1789.0" x2="817.7" y2="1782.5" stroke="#333" stroke-width="1.2" />
<line x1="881.8" y1="1612.0" x2="881.8" y2="1618.5" stroke="#333" stroke-width="1.2" />
<line x1="881.8" y1="1789.0" x2="881.8" y2="1782.5" stroke="#333" stroke-width="1.2" />
<line x1="945.8" y1="1612.0" x2="945.8" y2="1618.5" stroke="#333" stroke-width="1.2" />
<line x1="945.8" y1="1789.0" x2="945.8" y2="1782.5" stroke="#333" stroke-width="1.2" />
<line x1="1009.9" y1="1612.0" x2="1009.9" y2="1618.5" stroke="#333" stroke-width="1.2" />
<line x1="1009.9" y1="1789.0" x2="1009.9" y2="1782.5" stroke="#333" stroke-width="1.2" />
<line x1="1073.9" y1="1612.0" x2="1073.9" y2="1618.5" stroke="#333" stroke-width="1.2" />
<line x1="1073.9" y1="1789.0" x2="1073.9" y2="1782.5" stroke="#333" stroke-width="1.2" />
<line x1="1138.0" y1="1612.0" x2="1138.0" y2="1618.5" stroke="#333" stroke-width="1.2" />
<line x1="1138.0" y1="1789.0" x2="1138.0" y2="1782.5" stroke="#333" stroke-width="1.2" />
<line x1="689.6" y1="1789.0" x2="696.1" y2="1789.0" stroke="#333" stroke-width="1.2" />
<line x1="689.6" y1="1700.5" x2="696.1" y2="1700.5" stroke="#333" stroke-width="1.2" />
<line x1="689.6" y1="1612.0" x2="696.1" y2="1612.0" stroke="#333" stroke-width="1.2" />
<line x1="1202.0" y1="1700.5" x2="1195.5" y2="1700.5" stroke="#333" stroke-width="1.2" />
<path d="M689.6 1644.6 L708.8 1626.2 L728.0 1647.4 L747.2 1652.7 L766.5 1652.7 L785.7 1644.6 L804.9 1630.4 L824.1 1649.2 L843.3 1658.7 L862.5 1638.9 L881.8 1662.6 L901.0 1672.2 L920.2 1663.7 L939.4 1698.2 L958.6 1680.1 L977.8 1740.3 L997.0 1737.3 L1016.3 1768.3 L1035.5 1778.7 L1054.7 1748.3 L1073.9 1766.3 L1093.1 1750.1 L1112.3 1716.4 L1131.5 1705.1 L1150.8 1696.3 L1170.0 1670.4 L1189.2 1655.4" fill="none" stroke="#0f6cbd" stroke-width="4.4" stroke-linejoin="miter"/>
<text transform="translate(667.52 1795.39) scale(1.0488 1)" font-family="DejaVu Sans, sans-serif" font-size="27.57" font-weight="normal" fill="#000">8</text>
<text transform="translate(649.59 1711.19) scale(1.0488 1)" font-family="DejaVu Sans, sans-serif" font-size="27.57" font-weight="normal" fill="#000">13</text>
<text transform="translate(649.16 1622.59) scale(1.0488 1)" font-family="DejaVu Sans, sans-serif" font-size="27.57" font-weight="normal" fill="#000">18</text>
<text transform="translate(677.64 1819.50) scale(1.0488 1)" font-family="DejaVu Sans, sans-serif" font-size="27.57" font-weight="normal" fill="#000">-2</text>
<text transform="translate(741.54 1819.50) scale(1.0488 1)" font-family="DejaVu Sans, sans-serif" font-size="27.57" font-weight="normal" fill="#000">-1</text>
<text transform="translate(810.22 1819.09) scale(1.0488 1)" font-family="DejaVu Sans, sans-serif" font-size="27.57" font-weight="normal" fill="#000">0</text>
<text transform="translate(873.98 1819.50) scale(1.0488 1)" font-family="DejaVu Sans, sans-serif" font-size="27.57" font-weight="normal" fill="#000">1</text>
<text transform="translate(938.68 1819.50) scale(1.0488 1)" font-family="DejaVu Sans, sans-serif" font-size="27.57" font-weight="normal" fill="#000">2</text>
<text transform="translate(1002.44 1819.09) scale(1.0488 1)" font-family="DejaVu Sans, sans-serif" font-size="27.57" font-weight="normal" fill="#000">3</text>
<text transform="translate(1066.49 1819.50) scale(1.0488 1)" font-family="DejaVu Sans, sans-serif" font-size="27.57" font-weight="normal" fill="#000">4</text>
<text transform="translate(1130.61 1819.09) scale(1.0488 1)" font-family="DejaVu Sans, sans-serif" font-size="27.57" font-weight="normal" fill="#000">5</text>
<text transform="translate(1194.38 1819.09) scale(1.0488 1)" font-family="DejaVu Sans, sans-serif" font-size="27.57" font-weight="normal" fill="#000">6</text>
<text transform="translate(900.42 1845.45) scale(0.8549 1)" font-family="DejaVu Sans, sans-serif" font-size="28.09" font-weight="normal" fill="#000">Time (s)</text>
<text transform="translate(639.90 1760.13) rotate(-90) scale(0.9595 1)" font-family="DejaVu Sans, sans-serif" font-size="26.19" font-weight="normal" fill="#000">Spikes / s</text>
<g stroke="#262626" stroke-width="4.17" fill="none" transform="scale(0.5 1)">
<path d="M2579 1340.09h1020" stroke-dasharray="0 3 2 12 2 12 2 11 2 9 2 0 2 5 2 5 2 1 2 12 2 13 2 5 2 0 2 1 2 13 2 5 2 6 2 1 2 4 2 23 2 0 2 9 2 69 2 1 2 2 2 3 2 5 2 1 2 9 2 0 2 1 2 3 2 22 2 33 2 5 2 9 2 3 2 3 2 5 2 22 2 0 2 22 2 5 2 36 2 4 2 2 2 4 2 11 2 31 2 0 2 24 2 7 2 7 2 3 2 34 2 0 2 8 2 24 2 2 2 6 2 0 2 1 2 0 2 25 2 10 2 1 2 2 2 3 2 0 2 21 2 47 2 6 2 14 2 6 2 18 2 9 2 11 2 6 2 0 2 13 2 8 2 20 2 0 2 4 2 35 2 3000"/>
<path d="M2579 1344.26h1020" stroke-dasharray="0 18 2 9 2 1 2 6 2 0 2 7 2 25 2 3 2 4 2 2 2 2 2 4 2 8 2 1 2 9 2 9 2 0 2 1 2 0 2 1 2 11 2 2 2 20 2 1 2 3 2 6 2 1 2 7 2 2 2 30 2 2 2 55 2 0 2 1 2 0 2 1 2 0 2 1 2 1 2 11 2 1 2 5 2 0 2 20 2 17 2 1 2 17 2 6 2 4 2 6 2 5 2 2 2 9 2 6 2 5 2 9 2 5 2 4 2 16 2 24 2 1 2 5 2 2 2 49 2 10 2 0 2 42 2 8 2 3 2 5 2 7 2 14 2 6 2 5 2 23 2 0 2 6 2 1 2 6 2 5 2 0 2 2 2 10 2 2 2 28 2 1 2 7 2 7 2 11 2 23 2 1 2 12 2 22 2 7 2 2 2 1 2 0 2 0 2 5 2 15 2 2 2 0 2 8 2 17 2 0 2 3000"/>
<path d="M2579 1348.43h1020" stroke-dasharray="0 8 2 11 2 0 2 18 2 28 2 13 2 1 2 1 2 2 2 1 2 1 2 2 2 10 2 2 2 14 2 4 2 0 2 0 2 3 2 2 2 12 2 17 2 0 2 11 2 15 2 3 2 33 2 0 2 0 2 9 2 2 2 3 2 1 2 1 2 0 2 0 2 6 2 1 2 1 2 3 2 11 2 27 2 14 2 3 2 12 2 1 2 1 2 2 2 7 2 2 2 3 2 4 2 5 2 16 2 5 2 10 2 30 2 10 2 5 2 9 2 6 2 19 2 7 2 11 2 0 2 1 2 4 2 6 2 8 2 4 2 9 2 9 2 4 2 2 2 0 2 8 2 4 2 23 2 4 2 1 2 31 2 26 2 3 2 3 2 1 2 1 2 0 2 3 2 12 2 3 2 9 2 3 2 0 2 3 2 3 2 4 2 5 2 10 2 16 2 2 2 18 2 4 2 26 2 3 2 0 2 12 2 36 2 2 2 3000"/>
<path d="M2579 1352.60h1020" stroke-dasharray="0 3 2 13 2 0 2 2 2 3 2 12 2 8 2 0 2 11 2 0 2 0 2 18 2 0 2 2 2 6 2 11 2 6 2 3 2 14 2 7 2 17 2 25 2 5 2 4 2 4 2 4 2 2 2 1 2 1 2 3 2 1 2 5 2 7 2 32 2 1 2 35 2 1 2 2 2 2 2 39 2 4 2 14 2 8 2 3 2 2 2 4 2 9 2 8 2 0 2 3 2 8 2 11 2 25 2 12 2 27 2 0 2 2 2 36 2 57 2 6 2 16 2 2 2 2 2 14 2 3 2 0 2 6 2 4 2 12 2 1 2 6 2 6 2 9 2 11 2 13 2 0 2 4 2 5 2 5 2 12 2 9 2 16 2 4 2 8 2 4 2 7 2 4 2 25 2 0 2 4 2 1 2 5 2 2 2 19 2 19 2 10 2 3000"/>
<path d="M2579 1356.77h1020" stroke-dasharray="0 14 2 16 2 0 2 0 2 5 2 2 2 2 2 15 2 3 2 1 2 12 2 3 2 15 2 23 2 0 2 2 2 3 2 1 2 17 2 3 2 13 2 8 2 4 2 0 2 19 2 10 2 9 2 18 2 13 2 2 2 32 2 45 2 3 2 51 2 16 2 0 2 2 2 7 2 9 2 13 2 38 2 3 2 16 2 19 2 0 2 30 2 0 2 2 2 6 2 0 2 7 2 4 2 5 2 0 2 15 2 8 2 9 2 8 2 5 2 7 2 6 2 0 2 3 2 0 2 5 2 13 2 15 2 8 2 16 2 17 2 10 2 11 2 13 2 2 2 1 2 1 2 7 2 25 2 7 2 6 2 3 2 27 2 5 2 16 2 1 2 7 2 1 2 19 2 3000"/>
<path d="M2579 1360.94h1020" stroke-dasharray="0 0 2 12 2 14 2 4 2 45 2 10 2 0 2 4 2 14 2 43 2 1 2 9 2 0 2 17 2 13 2 11 2 0 2 0 2 4 2 2 2 11 2 1 2 9 2 3 2 9 2 16 2 0 2 0 2 42 2 16 2 27 2 14 2 1 2 0 2 14 2 23 2 1 2 0 2 1 2 18 2 16 2 0 2 62 2 14 2 5 2 28 2 5 2 4 2 10 2 12 2 1 2 0 2 1 2 20 2 0 2 33 2 4 2 35 2 46 2 9 2 6 2 2 2 0 2 10 2 15 2 8 2 16 2 7 2 7 2 0 2 20 2 6 2 1 2 4 2 14 2 10 2 17 2 2 2 1 2 3000"/>
<path d="M2579 1365.11h1020" stroke-dasharray="0 27 2 6 2 85 2 5 2 6 2 42 2 34 2 8 2 13 2 18 2 20 2 3 2 0 2 58 2 3 2 24 2 30 2 10 2 1 2 10 2 10 2 6 2 0 2 22 2 10 2 3 2 16 2 1 2 26 2 12 2 0 2 9 2 0 2 17 2 0 2 14 2 0 2 9 2 1 2 6 2 1 2 4 2 12 2 16 2 8 2 1 2 9 2 4 2 6 2 14 2 2 2 22 2 16 2 21 2 3 2 6 2 1 2 9 2 64 2 0 2 9 2 12 2 30 2 0 2 42 2 3000"/>
<path d="M2579 1369.29h1020" stroke-dasharray="0 2 2 0 2 2 2 5 2 5 2 27 2 6 2 7 2 2 2 30 2 13 2 23 2 1 2 4 2 33 2 7 2 3 2 0 2 14 2 28 2 29 2 37 2 3 2 25 2 6 2 2 2 24 2 30 2 3 2 0 2 3 2 12 2 15 2 35 2 16 2 0 2 2 2 2 2 3 2 35 2 0 2 4 2 2 2 34 2 2 2 11 2 28 2 1 2 1 2 0 2 1 2 6 2 0 2 3 2 7 2 0 2 2 2 1 2 22 2 17 2 3 2 4 2 8 2 2 2 9 2 2 2 0 2 10 2 5 2 14 2 5 2 0 2 12 2 25 2 6 2 9 2 5 2 5 2 7 2 1 2 1 2 10 2 8 2 3 2 9 2 1 2 1 2 12 2 0 2 8 2 7 2 0 2 1 2 2 2 3000"/>
<path d="M2579 1373.46h1020" stroke-dasharray="0 31 2 3 2 5 2 4 2 6 2 10 2 6 2 4 2 22 2 10 2 0 2 16 2 3 2 12 2 10 2 13 2 2 2 36 2 7 2 32 2 57 2 10 2 35 2 4 2 26 2 5 2 8 2 3 2 23 2 42 2 14 2 1 2 9 2 7 2 32 2 37 2 1 2 8 2 4 2 5 2 15 2 19 2 23 2 3 2 9 2 13 2 8 2 33 2 23 2 1 2 14 2 28 2 10 2 3 2 10 2 3 2 1 2 13 2 2 2 5 2 29 2 7 2 17 2 36 2 0 2 3000"/>
<path d="M2579 1377.63h1020" stroke-dasharray="0 10 2 16 2 5 2 1 2 0 2 9 2 6 2 1 2 2 2 12 2 6 2 2 2 7 2 17 2 13 2 28 2 14 2 2 2 9 2 14 2 8 2 44 2 8 2 22 2 1 2 11 2 12 2 17 2 0 2 8 2 1 2 1 2 9 2 3 2 5 2 18 2 16 2 6 2 15 2 12 2 24 2 7 2 10 2 14 2 3 2 7 2 3 2 4 2 2 2 27 2 15 2 2 2 12 2 3 2 6 2 2 2 7 2 12 2 0 2 2 2 2 2 10 2 12 2 1 2 2 2 1 2 0 2 20 2 7 2 4 2 9 2 18 2 1 2 3 2 6 2 3 2 36 2 10 2 7 2 3 2 1 2 2 2 8 2 4 2 0 2 26 2 2 2 3 2 31 2 15 2 2 2 2 2 3 2 4 2 8 2 1 2 3000"/>
<path d="M2579 1381.80h1020" stroke-dasharray="0 3 2 5 2 8 2 17 2 10 2 12 2 8 2 3 2 2 2 3 2 1 2 2 2 17 2 3 2 10 2 18 2 14 2 38 2 32 2 0 2 7 2 3 2 10 2 5 2 17 2 5 2 12 2 5 2 0 2 1 2 7 2 2 2 42 2 23 2 2 2 3 2 13 2 1 2 0 2 4 2 20 2 0 2 25 2 15 2 9 2 0 2 4 2 0 2 0 2 30 2 6 2 10 2 7 2 14 2 15 2 16 2 7 2 40 2 1 2 0 2 3 2 5 2 0 2 4 2 14 2 22 2 27 2 1 2 1 2 21 2 22 2 15 2 4 2 8 2 30 2 7 2 20 2 2 2 11 2 10 2 29 2 11 2 3000"/>
<path d="M2579 1385.97h1020" stroke-dasharray="0 44 2 1 2 47 2 25 2 12 2 24 2 12 2 4 2 95 2 29 2 4 2 26 2 17 2 18 2 0 2 1 2 4 2 45 2 1 2 6 2 23 2 9 2 0 2 6 2 57 2 20 2 35 2 38 2 1 2 3 2 8 2 4 2 41 2 7 2 0 2 4 2 33 2 1 2 9 2 5 2 2 2 9 2 18 2 18 2 0 2 5 2 12 2 15 2 11 2 28 2 5 2 1 2 17 2 23 2 16 2 3000"/>
<path d="M2579 1390.14h1020" stroke-dasharray="0 0 2 2 2 3 2 5 2 5 2 0 2 8 2 20 2 1 2 21 2 6 2 4 2 0 2 1 2 0 2 12 2 3 2 18 2 3 2 3 2 8 2 3 2 0 2 10 2 0 2 1 2 18 2 3 2 25 2 16 2 10 2 2 2 14 2 14 2 3 2 3 2 2 2 0 2 12 2 7 2 0 2 5 2 26 2 22 2 0 2 4 2 1 2 15 2 20 2 5 2 2 2 0 2 4 2 0 2 34 2 5 2 22 2 17 2 7 2 0 2 13 2 5 2 3 2 20 2 13 2 1 2 16 2 12 2 2 2 4 2 3 2 12 2 2 2 7 2 8 2 7 2 6 2 6 2 9 2 4 2 2 2 8 2 10 2 1 2 11 2 5 2 2 2 9 2 11 2 22 2 4 2 2 2 1 2 3 2 5 2 7 2 1 2 10 2 9 2 4 2 2 2 5 2 4 2 7 2 6 2 1 2 2 2 2 2 2 2 4 2 3 2 7 2 10 2 3000"/>
<path d="M2579 1394.31h1020" stroke-dasharray="0 19 2 12 2 25 2 10 2 9 2 13 2 0 2 1 2 21 2 0 2 21 2 1 2 3 2 9 2 8 2 9 2 8 2 1 2 39 2 7 2 25 2 14 2 5 2 17 2 53 2 3 2 7 2 7 2 0 2 0 2 1 2 9 2 10 2 16 2 15 2 35 2 34 2 6 2 1 2 2 2 13 2 12 2 5 2 42 2 10 2 8 2 14 2 26 2 20 2 1 2 0 2 8 2 9 2 11 2 23 2 10 2 6 2 11 2 3 2 17 2 8 2 11 2 5 2 10 2 1 2 10 2 8 2 9 2 20 2 0 2 10 2 9 2 1 2 24 2 6 2 2 2 1 2 2 2 3000"/>
<path d="M2579 1398.49h1020" stroke-dasharray="0 17 2 20 2 10 2 6 2 0 2 0 2 10 2 2 2 3 2 11 2 13 2 1 2 19 2 3 2 0 2 1 2 12 2 15 2 18 2 9 2 10 2 8 2 13 2 48 2 1 2 0 2 3 2 11 2 2 2 4 2 4 2 4 2 7 2 12 2 6 2 10 2 6 2 10 2 18 2 1 2 16 2 3 2 5 2 35 2 20 2 10 2 0 2 12 2 7 2 4 2 3 2 24 2 2 2 3 2 0 2 4 2 7 2 6 2 3 2 11 2 2 2 20 2 27 2 6 2 4 2 0 2 25 2 6 2 4 2 12 2 18 2 7 2 2 2 1 2 2 2 5 2 1 2 0 2 1 2 12 2 17 2 14 2 0 2 16 2 2 2 2 2 10 2 13 2 20 2 9 2 1 2 8 2 21 2 3 2 3 2 1 2 3000"/>
<path d="M2579 1402.66h1020" stroke-dasharray="0 0 2 7 2 13 2 2 2 7 2 13 2 3 2 1 2 28 2 10 2 2 2 6 2 12 2 11 2 2 2 2 2 2 2 1 2 6 2 4 2 18 2 2 2 64 2 2 2 11 2 3 2 1 2 4 2 1 2 11 2 7 2 10 2 64 2 0 2 1 2 24 2 1 2 5 2 14 2 5 2 8 2 3 2 1 2 2 2 10 2 1 2 11 2 24 2 5 2 14 2 14 2 12 2 4 2 6 2 17 2 18 2 1 2 11 2 2 2 8 2 13 2 18 2 4 2 0 2 2 2 6 2 0 2 12 2 3 2 14 2 17 2 11 2 5 2 2 2 4 2 2 2 5 2 11 2 43 2 16 2 2 2 17 2 18 2 21 2 8 2 22 2 7 2 0 2 3 2 3000"/>
<path d="M2579 1406.83h1020" stroke-dasharray="0 78 2 8 2 5 2 22 2 34 2 4 2 4 2 13 2 16 2 27 2 16 2 2 2 30 2 0 2 3 2 8 2 0 2 34 2 4 2 29 2 2 2 41 2 35 2 21 2 7 2 29 2 6 2 3 2 13 2 10 2 17 2 11 2 0 2 35 2 3 2 5 2 2 2 12 2 0 2 9 2 19 2 31 2 25 2 2 2 50 2 17 2 8 2 5 2 10 2 8 2 15 2 4 2 11 2 3 2 8 2 3 2 3 2 2 2 2 2 2 2 4 2 1 2 18 2 10 2 9 2 4 2 12 2 3000"/>
<path d="M2579 1411.00h1020" stroke-dasharray="0 0 2 3 2 6 2 8 2 16 2 3 2 0 2 2 2 30 2 5 2 2 2 12 2 4 2 4 2 0 2 16 2 6 2 6 2 2 2 13 2 0 2 37 2 10 2 0 2 9 2 6 2 5 2 20 2 9 2 0 2 5 2 7 2 14 2 0 2 6 2 1 2 9 2 17 2 2 2 7 2 6 2 37 2 6 2 8 2 10 2 17 2 1 2 10 2 9 2 0 2 19 2 2 2 9 2 2 2 11 2 9 2 8 2 10 2 11 2 8 2 9 2 6 2 1 2 2 2 1 2 2 2 13 2 7 2 0 2 28 2 4 2 2 2 27 2 16 2 2 2 1 2 17 2 6 2 0 2 20 2 1 2 0 2 6 2 15 2 29 2 18 2 9 2 45 2 5 2 4 2 4 2 2 2 8 2 8 2 3000"/>
<path d="M2579 1415.17h1020" stroke-dasharray="0 3 2 5 2 12 2 17 2 7 2 2 2 1 2 18 2 5 2 8 2 2 2 1 2 2 2 0 2 13 2 6 2 12 2 1 2 9 2 4 2 16 2 10 2 0 2 31 2 5 2 7 2 3 2 13 2 0 2 8 2 4 2 1 2 8 2 8 2 3 2 4 2 14 2 1 2 0 2 6 2 21 2 16 2 5 2 2 2 2 2 3 2 2 2 5 2 23 2 7 2 8 2 10 2 5 2 10 2 6 2 10 2 1 2 4 2 23 2 22 2 11 2 5 2 1 2 2 2 7 2 3 2 17 2 12 2 7 2 11 2 0 2 4 2 7 2 10 2 8 2 5 2 35 2 5 2 6 2 4 2 23 2 5 2 9 2 3 2 39 2 2 2 21 2 0 2 1 2 8 2 5 2 3 2 3 2 2 2 4 2 0 2 4 2 6 2 7 2 1 2 5 2 23 2 8 2 11 2 0 2 3000"/>
<path d="M2579 1419.34h1020" stroke-dasharray="0 25 2 4 2 10 2 39 2 5 2 44 2 26 2 9 2 8 2 5 2 1 2 4 2 4 2 20 2 24 2 17 2 10 2 48 2 4 2 0 2 4 2 11 2 1 2 82 2 11 2 3 2 2 2 17 2 31 2 32 2 14 2 5 2 48 2 0 2 0 2 10 2 0 2 24 2 32 2 0 2 19 2 35 2 15 2 14 2 16 2 26 2 19 2 8 2 4 2 14 2 10 2 18 2 4 2 55 2 3000"/>
<path d="M2579 1423.51h1020" stroke-dasharray="0 8 2 2 2 0 2 3 2 15 2 7 2 1 2 22 2 1 2 10 2 2 2 40 2 8 2 3 2 9 2 9 2 13 2 0 2 2 2 3 2 2 2 2 2 9 2 11 2 0 2 1 2 7 2 10 2 11 2 12 2 3 2 6 2 9 2 21 2 4 2 5 2 6 2 3 2 2 2 4 2 0 2 7 2 12 2 5 2 0 2 28 2 7 2 1 2 7 2 30 2 3 2 3 2 8 2 24 2 9 2 0 2 2 2 5 2 3 2 2 2 34 2 11 2 3 2 9 2 2 2 37 2 5 2 10 2 4 2 2 2 6 2 10 2 14 2 5 2 6 2 1 2 5 2 4 2 0 2 6 2 9 2 4 2 5 2 6 2 4 2 1 2 1 2 10 2 2 2 19 2 4 2 22 2 3 2 4 2 9 2 7 2 1 2 0 2 6 2 1 2 0 2 20 2 19 2 3 2 17 2 6 2 6 2 3000"/>
<path d="M2579 1427.69h1020" stroke-dasharray="0 6 2 20 2 6 2 11 2 6 2 4 2 3 2 4 2 5 2 15 2 6 2 43 2 10 2 8 2 1 2 4 2 6 2 18 2 20 2 17 2 8 2 6 2 7 2 14 2 5 2 5 2 14 2 2 2 2 2 1 2 1 2 0 2 49 2 9 2 1 2 12 2 11 2 14 2 22 2 11 2 28 2 4 2 14 2 9 2 16 2 17 2 47 2 8 2 19 2 25 2 1 2 8 2 10 2 12 2 8 2 13 2 1 2 0 2 0 2 3 2 0 2 16 2 4 2 1 2 7 2 1 2 3 2 7 2 23 2 3 2 4 2 8 2 17 2 15 2 11 2 21 2 10 2 36 2 8 2 5 2 4 2 0 2 3000"/>
<path d="M2579 1431.86h1020" stroke-dasharray="0 3 2 0 2 7 2 20 2 1 2 24 2 23 2 4 2 6 2 17 2 62 2 21 2 16 2 6 2 26 2 27 2 12 2 7 2 11 2 18 2 32 2 4 2 11 2 14 2 2 2 17 2 62 2 13 2 12 2 54 2 21 2 4 2 14 2 28 2 0 2 7 2 2 2 18 2 4 2 10 2 16 2 14 2 20 2 13 2 0 2 12 2 1 2 2 2 23 2 16 2 12 2 15 2 28 2 4 2 1 2 8 2 5 2 5 2 1 2 6 2 4 2 7 2 3000"/>
<path d="M2579 1436.03h1020" stroke-dasharray="0 11 2 10 2 22 2 30 2 4 2 10 2 5 2 9 2 2 2 5 2 43 2 0 2 9 2 31 2 2 2 25 2 7 2 30 2 2 2 8 2 0 2 3 2 13 2 1 2 8 2 6 2 0 2 19 2 6 2 13 2 17 2 12 2 35 2 1 2 5 2 16 2 22 2 19 2 9 2 5 2 8 2 12 2 5 2 4 2 23 2 12 2 23 2 5 2 1 2 8 2 3 2 8 2 12 2 1 2 22 2 13 2 5 2 25 2 1 2 8 2 2 2 1 2 27 2 1 2 7 2 4 2 9 2 14 2 7 2 6 2 20 2 1 2 28 2 24 2 5 2 16 2 3000"/>
<path d="M2579 1440.20h1020" stroke-dasharray="0 0 2 6 2 10 2 5 2 7 2 24 2 1 2 2 2 4 2 0 2 2 2 3 2 34 2 21 2 8 2 7 2 1 2 2 2 26 2 7 2 23 2 9 2 9 2 17 2 6 2 10 2 0 2 12 2 26 2 24 2 8 2 28 2 7 2 34 2 12 2 16 2 1 2 8 2 20 2 9 2 13 2 8 2 0 2 1 2 15 2 4 2 2 2 15 2 12 2 1 2 2 2 5 2 18 2 9 2 5 2 3 2 12 2 9 2 3 2 10 2 9 2 16 2 1 2 2 2 2 2 0 2 1 2 3 2 10 2 6 2 16 2 10 2 4 2 4 2 7 2 4 2 23 2 25 2 4 2 2 2 1 2 26 2 35 2 13 2 2 2 5 2 0 2 11 2 3000"/>
<path d="M2579 1444.37h1020" stroke-dasharray="0 10 2 7 2 0 2 1 2 0 2 2 2 15 2 2 2 8 2 4 2 0 2 6 2 0 2 6 2 3 2 6 2 0 2 6 2 19 2 10 2 7 2 6 2 0 2 13 2 6 2 12 2 4 2 7 2 30 2 3 2 10 2 3 2 1 2 4 2 21 2 3 2 1 2 2 2 1 2 6 2 1 2 0 2 1 2 0 2 1 2 8 2 2 2 7 2 3 2 9 2 0 2 16 2 1 2 12 2 3 2 14 2 1 2 9 2 8 2 18 2 2 2 2 2 4 2 74 2 1 2 2 2 32 2 2 2 2 2 10 2 21 2 10 2 13 2 0 2 9 2 5 2 12 2 2 2 24 2 10 2 6 2 11 2 14 2 6 2 14 2 4 2 12 2 2 2 3 2 21 2 2 2 26 2 3 2 5 2 1 2 27 2 2 2 3 2 3 2 20 2 19 2 3000"/>
<path d="M2579 1448.54h1020" stroke-dasharray="0 8 2 4 2 32 2 24 2 3 2 12 2 8 2 1 2 6 2 10 2 16 2 10 2 18 2 5 2 10 2 17 2 2 2 11 2 1 2 4 2 15 2 8 2 17 2 16 2 1 2 10 2 17 2 10 2 13 2 5 2 9 2 4 2 5 2 4 2 11 2 7 2 7 2 14 2 12 2 0 2 3 2 1 2 19 2 2 2 5 2 4 2 0 2 3 2 9 2 6 2 1 2 9 2 4 2 1 2 37 2 2 2 3 2 6 2 25 2 6 2 12 2 8 2 11 2 14 2 7 2 7 2 4 2 5 2 29 2 4 2 1 2 15 2 6 2 0 2 4 2 0 2 21 2 31 2 24 2 1 2 2 2 9 2 4 2 11 2 14 2 2 2 4 2 7 2 13 2 16 2 0 2 10 2 3000"/>
<path d="M2579 1452.71h1020" stroke-dasharray="0 33 2 4 2 8 2 5 2 21 2 3 2 3 2 5 2 31 2 16 2 1 2 11 2 4 2 8 2 3 2 0 2 1 2 8 2 12 2 9 2 1 2 0 2 5 2 10 2 74 2 5 2 65 2 13 2 0 2 7 2 5 2 22 2 13 2 6 2 8 2 7 2 5 2 3 2 6 2 1 2 22 2 7 2 6 2 2 2 2 2 8 2 7 2 13 2 8 2 10 2 11 2 2 2 5 2 41 2 4 2 5 2 16 2 6 2 17 2 1 2 9 2 3 2 8 2 8 2 7 2 21 2 9 2 6 2 5 2 0 2 13 2 5 2 0 2 7 2 5 2 0 2 22 2 5 2 5 2 16 2 15 2 19 2 0 2 7 2 10 2 5 2 3000"/>
<path d="M2579 1456.89h1020" stroke-dasharray="0 5 2 3 2 7 2 21 2 6 2 16 2 44 2 0 2 9 2 1 2 16 2 8 2 14 2 3 2 44 2 0 2 5 2 5 2 44 2 0 2 17 2 18 2 12 2 10 2 3 2 1 2 5 2 1 2 9 2 2 2 15 2 20 2 23 2 8 2 3 2 6 2 0 2 12 2 1 2 12 2 2 2 3 2 4 2 36 2 8 2 6 2 7 2 3 2 5 2 20 2 3 2 0 2 7 2 23 2 5 2 37 2 5 2 4 2 12 2 9 2 30 2 6 2 0 2 10 2 9 2 3 2 14 2 1 2 3 2 29 2 13 2 15 2 0 2 14 2 6 2 6 2 8 2 33 2 10 2 3000"/>
<path d="M2579 1461.06h1020" stroke-dasharray="0 5 2 12 2 16 2 3 2 6 2 61 2 21 2 19 2 2 2 29 2 1 2 3 2 16 2 9 2 8 2 4 2 31 2 11 2 18 2 27 2 5 2 16 2 32 2 0 2 4 2 40 2 3 2 18 2 42 2 7 2 1 2 4 2 6 2 3 2 18 2 56 2 0 2 11 2 0 2 4 2 13 2 7 2 2 2 3 2 1 2 20 2 42 2 20 2 20 2 4 2 8 2 22 2 5 2 9 2 9 2 11 2 14 2 22 2 17 2 7 2 8 2 22 2 16 2 6 2 3000"/>
<path d="M2579 1465.23h1020" stroke-dasharray="0 6 2 13 2 40 2 4 2 25 2 30 2 6 2 5 2 14 2 3 2 4 2 4 2 12 2 1 2 58 2 0 2 33 2 1 2 11 2 27 2 5 2 15 2 4 2 13 2 5 2 2 2 3 2 12 2 2 2 10 2 7 2 0 2 0 2 1 2 24 2 2 2 13 2 6 2 9 2 2 2 4 2 1 2 9 2 7 2 8 2 1 2 18 2 10 2 14 2 3 2 13 2 24 2 11 2 13 2 3 2 7 2 10 2 3 2 7 2 2 2 0 2 7 2 9 2 4 2 6 2 2 2 8 2 5 2 4 2 3 2 3 2 4 2 0 2 3 2 12 2 20 2 13 2 14 2 7 2 4 2 3 2 3 2 0 2 33 2 0 2 3 2 0 2 2 2 10 2 15 2 4 2 13 2 0 2 8 2 7 2 3000"/>
<path d="M2579 1469.40h1020" stroke-dasharray="0 0 2 7 2 1 2 9 2 7 2 1 2 8 2 3 2 8 2 8 2 1 2 7 2 9 2 2 2 2 2 1 2 13 2 5 2 3 2 1 2 15 2 4 2 2 2 6 2 14 2 12 2 5 2 2 2 64 2 3 2 4 2 13 2 1 2 2 2 12 2 1 2 17 2 1 2 2 2 17 2 3 2 0 2 26 2 25 2 31 2 1 2 1 2 6 2 11 2 2 2 10 2 3 2 19 2 1 2 3 2 5 2 11 2 22 2 8 2 11 2 22 2 2 2 33 2 13 2 3 2 11 2 13 2 2 2 0 2 8 2 6 2 26 2 5 2 0 2 1 2 1 2 3 2 6 2 1 2 10 2 4 2 8 2 5 2 2 2 6 2 11 2 1 2 21 2 10 2 22 2 7 2 2 2 1 2 6 2 1 2 6 2 11 2 20 2 18 2 3000"/>
<path d="M2579 1473.57h1020" stroke-dasharray="0 33 2 21 2 4 2 2 2 37 2 6 2 3 2 15 2 18 2 6 2 24 2 16 2 4 2 0 2 3 2 0 2 8 2 11 2 0 2 4 2 13 2 52 2 4 2 2 2 1 2 11 2 1 2 12 2 14 2 6 2 9 2 1 2 5 2 17 2 12 2 7 2 33 2 29 2 13 2 2 2 3 2 14 2 1 2 8 2 20 2 25 2 15 2 14 2 2 2 6 2 14 2 7 2 47 2 6 2 11 2 11 2 11 2 10 2 0 2 12 2 3 2 14 2 14 2 5 2 7 2 38 2 9 2 11 2 0 2 9 2 11 2 1 2 5 2 14 2 1 2 14 2 0 2 7 2 1 2 3000"/>
<path d="M2579 1477.74h1020" stroke-dasharray="0 3 2 11 2 8 2 1 2 6 2 2 2 15 2 5 2 3 2 7 2 30 2 14 2 2 2 13 2 3 2 37 2 0 2 6 2 16 2 29 2 15 2 8 2 18 2 6 2 7 2 7 2 0 2 32 2 19 2 0 2 0 2 23 2 3 2 4 2 7 2 5 2 0 2 94 2 26 2 4 2 8 2 6 2 3 2 7 2 4 2 2 2 4 2 30 2 7 2 34 2 15 2 14 2 6 2 3 2 0 2 3 2 5 2 31 2 4 2 49 2 7 2 4 2 4 2 0 2 8 2 5 2 7 2 11 2 3 2 0 2 0 2 3 2 2 2 3 2 2 2 1 2 2 2 10 2 8 2 9 2 15 2 2 2 4 2 3000"/>
<path d="M2579 1481.91h1020" stroke-dasharray="0 3 2 2 2 6 2 0 2 1 2 10 2 15 2 27 2 24 2 5 2 5 2 5 2 44 2 13 2 31 2 1 2 23 2 16 2 20 2 19 2 3 2 7 2 21 2 0 2 0 2 3 2 11 2 23 2 1 2 5 2 11 2 8 2 8 2 2 2 1 2 3 2 4 2 0 2 8 2 18 2 25 2 10 2 3 2 6 2 8 2 5 2 21 2 9 2 4 2 1 2 8 2 6 2 3 2 6 2 57 2 15 2 3 2 18 2 36 2 29 2 0 2 30 2 4 2 16 2 5 2 6 2 9 2 23 2 0 2 27 2 12 2 16 2 8 2 1 2 3 2 20 2 3000"/>
<path d="M2579 1486.09h1020" stroke-dasharray="0 39 2 1 2 48 2 2 2 7 2 17 2 2 2 11 2 3 2 8 2 5 2 2 2 2 2 0 2 1 2 23 2 0 2 21 2 3 2 2 2 6 2 0 2 3 2 41 2 4 2 18 2 6 2 15 2 3 2 2 2 10 2 15 2 18 2 19 2 36 2 12 2 7 2 27 2 15 2 12 2 11 2 2 2 4 2 6 2 8 2 12 2 9 2 4 2 27 2 7 2 6 2 4 2 5 2 6 2 31 2 8 2 35 2 0 2 5 2 5 2 0 2 1 2 6 2 2 2 0 2 3 2 21 2 2 2 0 2 18 2 28 2 7 2 4 2 5 2 2 2 0 2 8 2 42 2 13 2 0 2 0 2 0 2 2 2 1 2 7 2 14 2 3000"/>
<path d="M2579 1490.26h1020" stroke-dasharray="0 0 2 9 2 7 2 36 2 2 2 11 2 8 2 24 2 24 2 12 2 5 2 10 2 23 2 34 2 28 2 38 2 3 2 4 2 2 2 4 2 37 2 6 2 50 2 2 2 30 2 1 2 14 2 11 2 16 2 15 2 3 2 6 2 4 2 10 2 28 2 0 2 0 2 11 2 0 2 9 2 10 2 26 2 7 2 23 2 6 2 7 2 21 2 21 2 31 2 8 2 0 2 3 2 2 2 27 2 24 2 39 2 4 2 9 2 0 2 6 2 0 2 0 2 5 2 10 2 17 2 6 2 8 2 16 2 3000"/>
<path d="M2579 1494.43h1020" stroke-dasharray="0 7 2 14 2 60 2 10 2 25 2 114 2 20 2 26 2 1 2 5 2 29 2 3 2 42 2 26 2 16 2 25 2 3 2 7 2 18 2 34 2 11 2 3 2 54 2 27 2 2 2 1 2 25 2 14 2 6 2 0 2 4 2 15 2 9 2 2 2 11 2 1 2 19 2 14 2 5 2 8 2 11 2 10 2 14 2 31 2 14 2 5 2 5 2 1 2 3 2 11 2 6 2 73 2 3000"/>
<path d="M2579 1498.60h1020" stroke-dasharray="0 2 2 11 2 20 2 2 2 0 2 0 2 9 2 2 2 6 2 4 2 15 2 11 2 30 2 4 2 3 2 4 2 16 2 7 2 8 2 6 2 8 2 12 2 3 2 9 2 16 2 5 2 0 2 1 2 2 2 57 2 1 2 0 2 3 2 7 2 16 2 3 2 3 2 3 2 16 2 23 2 0 2 1 2 13 2 0 2 29 2 27 2 3 2 1 2 5 2 10 2 4 2 1 2 30 2 10 2 0 2 13 2 2 2 8 2 5 2 20 2 0 2 17 2 7 2 14 2 6 2 20 2 3 2 24 2 5 2 17 2 4 2 18 2 2 2 3 2 7 2 10 2 21 2 3 2 1 2 6 2 25 2 33 2 40 2 2 2 20 2 3000"/>
<path d="M2579 1502.77h1020" stroke-dasharray="0 32 2 21 2 4 2 14 2 39 2 1 2 8 2 17 2 8 2 10 2 21 2 19 2 7 2 4 2 6 2 0 2 8 2 4 2 14 2 21 2 13 2 2 2 6 2 19 2 2 2 0 2 0 2 7 2 3 2 3 2 3 2 22 2 8 2 1 2 5 2 25 2 2 2 5 2 19 2 7 2 6 2 1 2 2 2 16 2 6 2 16 2 16 2 19 2 27 2 2 2 3 2 1 2 2 2 11 2 9 2 4 2 7 2 2 2 0 2 15 2 0 2 8 2 8 2 4 2 26 2 4 2 1 2 2 2 5 2 1 2 1 2 0 2 21 2 22 2 0 2 1 2 32 2 5 2 3 2 7 2 11 2 21 2 0 2 22 2 10 2 13 2 11 2 5 2 0 2 3 2 7 2 6 2 3000"/>
<path d="M2579 1506.94h1020" stroke-dasharray="0 11 2 0 2 7 2 7 2 1 2 9 2 13 2 0 2 3 2 1 2 13 2 2 2 28 2 4 2 1 2 10 2 6 2 9 2 16 2 0 2 3 2 11 2 9 2 11 2 45 2 0 2 1 2 4 2 11 2 4 2 10 2 32 2 0 2 1 2 6 2 3 2 41 2 6 2 13 2 1 2 4 2 13 2 2 2 2 2 6 2 1 2 1 2 1 2 16 2 26 2 2 2 0 2 28 2 8 2 40 2 5 2 6 2 10 2 7 2 2 2 2 2 22 2 11 2 4 2 37 2 1 2 9 2 13 2 7 2 10 2 28 2 7 2 30 2 1 2 3 2 17 2 17 2 1 2 9 2 31 2 10 2 0 2 0 2 4 2 12 2 2 2 3000"/>
<path d="M2579 1511.11h1020" stroke-dasharray="0 3 2 1 2 1 2 5 2 7 2 22 2 4 2 8 2 19 2 9 2 4 2 10 2 2 2 10 2 7 2 2 2 13 2 1 2 1 2 0 2 19 2 14 2 15 2 6 2 0 2 2 2 1 2 4 2 1 2 22 2 8 2 23 2 1 2 7 2 13 2 14 2 22 2 4 2 10 2 10 2 7 2 10 2 6 2 23 2 22 2 6 2 4 2 2 2 20 2 4 2 9 2 11 2 4 2 15 2 1 2 21 2 5 2 0 2 17 2 5 2 45 2 12 2 10 2 27 2 38 2 7 2 11 2 6 2 2 2 37 2 1 2 1 2 22 2 11 2 0 2 39 2 2 2 3 2 1 2 13 2 2 2 8 2 20 2 0 2 4 2 7 2 3000"/>
</g>
<rect x="1288.2" y="1336.5" width="512.4" height="177.2" fill="none" stroke="#000" stroke-width="2.2"/>
<line x1="1288.2" y1="1513.7" x2="1288.2" y2="1520.2" stroke="#333" stroke-width="1.2" />
<text transform="translate(1275.04 1547.30) scale(1.0488 1)" font-family="DejaVu Sans, sans-serif" font-size="27.57" font-weight="normal" fill="#000">-2</text>
<line x1="1352.2" y1="1513.7" x2="1352.2" y2="1520.2" stroke="#333" stroke-width="1.2" />
<text transform="translate(1338.94 1547.30) scale(1.0488 1)" font-family="DejaVu Sans, sans-serif" font-size="27.57" font-weight="normal" fill="#000">-1</text>
<line x1="1416.3" y1="1513.7" x2="1416.3" y2="1520.2" stroke="#333" stroke-width="1.2" />
<text transform="translate(1407.62 1546.89) scale(1.0488 1)" font-family="DejaVu Sans, sans-serif" font-size="27.57" font-weight="normal" fill="#000">0</text>
<line x1="1480.3" y1="1513.7" x2="1480.3" y2="1520.2" stroke="#333" stroke-width="1.2" />
<text transform="translate(1471.38 1547.30) scale(1.0488 1)" font-family="DejaVu Sans, sans-serif" font-size="27.57" font-weight="normal" fill="#000">1</text>
<line x1="1544.4" y1="1513.7" x2="1544.4" y2="1520.2" stroke="#333" stroke-width="1.2" />
<text transform="translate(1536.08 1547.30) scale(1.0488 1)" font-family="DejaVu Sans, sans-serif" font-size="27.57" font-weight="normal" fill="#000">2</text>
<line x1="1608.5" y1="1513.7" x2="1608.5" y2="1520.2" stroke="#333" stroke-width="1.2" />
<text transform="translate(1599.84 1546.89) scale(1.0488 1)" font-family="DejaVu Sans, sans-serif" font-size="27.57" font-weight="normal" fill="#000">3</text>
<line x1="1672.5" y1="1513.7" x2="1672.5" y2="1520.2" stroke="#333" stroke-width="1.2" />
<text transform="translate(1663.89 1547.30) scale(1.0488 1)" font-family="DejaVu Sans, sans-serif" font-size="27.57" font-weight="normal" fill="#000">4</text>
<line x1="1736.5" y1="1513.7" x2="1736.5" y2="1520.2" stroke="#333" stroke-width="1.2" />
<text transform="translate(1728.01 1546.89) scale(1.0488 1)" font-family="DejaVu Sans, sans-serif" font-size="27.57" font-weight="normal" fill="#000">5</text>
<line x1="1800.6" y1="1513.7" x2="1800.6" y2="1520.2" stroke="#333" stroke-width="1.2" />
<text transform="translate(1791.78 1546.89) scale(1.0488 1)" font-family="DejaVu Sans, sans-serif" font-size="27.57" font-weight="normal" fill="#000">6</text>
<text transform="translate(1497.52 1573.05) scale(0.8487 1)" font-family="DejaVu Sans, sans-serif" font-size="28.09" font-weight="normal" fill="#000">Time (s)</text>
<rect x="1288.2" y="1612.0" width="512.4" height="177.0" fill="none" stroke="#000" stroke-width="2.2"/>
<line x1="1352.2" y1="1612.0" x2="1352.2" y2="1618.5" stroke="#333" stroke-width="1.2" />
<line x1="1352.2" y1="1789.0" x2="1352.2" y2="1782.5" stroke="#333" stroke-width="1.2" />
<line x1="1416.3" y1="1612.0" x2="1416.3" y2="1618.5" stroke="#333" stroke-width="1.2" />
<line x1="1416.3" y1="1789.0" x2="1416.3" y2="1782.5" stroke="#333" stroke-width="1.2" />
<line x1="1480.3" y1="1612.0" x2="1480.3" y2="1618.5" stroke="#333" stroke-width="1.2" />
<line x1="1480.3" y1="1789.0" x2="1480.3" y2="1782.5" stroke="#333" stroke-width="1.2" />
<line x1="1544.4" y1="1612.0" x2="1544.4" y2="1618.5" stroke="#333" stroke-width="1.2" />
<line x1="1544.4" y1="1789.0" x2="1544.4" y2="1782.5" stroke="#333" stroke-width="1.2" />
<line x1="1608.5" y1="1612.0" x2="1608.5" y2="1618.5" stroke="#333" stroke-width="1.2" />
<line x1="1608.5" y1="1789.0" x2="1608.5" y2="1782.5" stroke="#333" stroke-width="1.2" />
<line x1="1672.5" y1="1612.0" x2="1672.5" y2="1618.5" stroke="#333" stroke-width="1.2" />
<line x1="1672.5" y1="1789.0" x2="1672.5" y2="1782.5" stroke="#333" stroke-width="1.2" />
<line x1="1736.5" y1="1612.0" x2="1736.5" y2="1618.5" stroke="#333" stroke-width="1.2" />
<line x1="1736.5" y1="1789.0" x2="1736.5" y2="1782.5" stroke="#333" stroke-width="1.2" />
<line x1="1288.2" y1="1789.0" x2="1294.7" y2="1789.0" stroke="#333" stroke-width="1.2" />
<line x1="1288.2" y1="1700.5" x2="1294.7" y2="1700.5" stroke="#333" stroke-width="1.2" />
<line x1="1288.2" y1="1612.0" x2="1294.7" y2="1612.0" stroke="#333" stroke-width="1.2" />
<line x1="1800.6" y1="1700.5" x2="1794.1" y2="1700.5" stroke="#333" stroke-width="1.2" />
<path d="M1288.2 1719.3 L1307.4 1703.9 L1326.6 1697.0 L1345.8 1707.6 L1365.1 1695.2 L1384.3 1709.5 L1403.5 1706.9 L1422.7 1709.5 L1441.9 1712.4 L1461.1 1697.0 L1480.3 1706.9 L1499.6 1693.1 L1518.8 1713.4 L1538.0 1730.9 L1557.2 1702.6 L1576.4 1696.1 L1595.6 1691.5 L1614.9 1689.9 L1634.1 1700.7 L1653.3 1692.2 L1672.5 1702.6 L1691.7 1694.1 L1710.9 1711.5 L1730.1 1699.1 L1749.4 1670.9 L1768.6 1694.8 L1787.8 1693.8" fill="none" stroke="#0f6cbd" stroke-width="4.4" stroke-linejoin="miter"/>
<text transform="translate(1266.12 1795.39) scale(1.0488 1)" font-family="DejaVu Sans, sans-serif" font-size="27.57" font-weight="normal" fill="#000">8</text>
<text transform="translate(1248.19 1711.19) scale(1.0488 1)" font-family="DejaVu Sans, sans-serif" font-size="27.57" font-weight="normal" fill="#000">13</text>
<text transform="translate(1247.76 1622.59) scale(1.0488 1)" font-family="DejaVu Sans, sans-serif" font-size="27.57" font-weight="normal" fill="#000">18</text>
<text transform="translate(1276.24 1819.50) scale(1.0488 1)" font-family="DejaVu Sans, sans-serif" font-size="27.57" font-weight="normal" fill="#000">-2</text>
<text transform="translate(1340.14 1819.50) scale(1.0488 1)" font-family="DejaVu Sans, sans-serif" font-size="27.57" font-weight="normal" fill="#000">-1</text>
<text transform="translate(1408.82 1819.09) scale(1.0488 1)" font-family="DejaVu Sans, sans-serif" font-size="27.57" font-weight="normal" fill="#000">0</text>
<text transform="translate(1472.58 1819.50) scale(1.0488 1)" font-family="DejaVu Sans, sans-serif" font-size="27.57" font-weight="normal" fill="#000">1</text>
<text transform="translate(1537.28 1819.50) scale(1.0488 1)" font-family="DejaVu Sans, sans-serif" font-size="27.57" font-weight="normal" fill="#000">2</text>
<text transform="translate(1601.04 1819.09) scale(1.0488 1)" font-family="DejaVu Sans, sans-serif" font-size="27.57" font-weight="normal" fill="#000">3</text>
<text transform="translate(1665.09 1819.50) scale(1.0488 1)" font-family="DejaVu Sans, sans-serif" font-size="27.57" font-weight="normal" fill="#000">4</text>
<text transform="translate(1729.21 1819.09) scale(1.0488 1)" font-family="DejaVu Sans, sans-serif" font-size="27.57" font-weight="normal" fill="#000">5</text>
<text transform="translate(1792.98 1819.09) scale(1.0488 1)" font-family="DejaVu Sans, sans-serif" font-size="27.57" font-weight="normal" fill="#000">6</text>
<text transform="translate(1499.02 1845.45) scale(0.8549 1)" font-family="DejaVu Sans, sans-serif" font-size="28.09" font-weight="normal" fill="#000">Time (s)</text>
<text transform="translate(1238.50 1760.13) rotate(-90) scale(0.9595 1)" font-family="DejaVu Sans, sans-serif" font-size="26.19" font-weight="normal" fill="#000">Spikes / s</text>
<path d="M101.48 2506.0V2423.0h14.48V2506.0ZM115.92 2506.0V2174.2h14.48V2506.0ZM130.34 2506.0V2091.2h14.48V2506.0ZM144.78 2506.0V2215.6h14.48V2506.0ZM159.20 2506.0V2215.6h14.48V2506.0ZM173.63 2506.0V2091.2h14.48V2506.0ZM188.06 2506.0V2257.1h14.48V2506.0ZM202.50 2506.0V2423.0h14.48V2506.0ZM216.93 2506.0V2174.2h14.48V2506.0ZM231.36 2506.0V2215.6h14.48V2506.0ZM245.79 2506.0V2423.0h14.48V2506.0ZM260.21 2506.0V2257.1h14.48V2506.0ZM274.64 2506.0V2215.6h14.48V2506.0ZM289.07 2506.0V2174.2h14.48V2506.0ZM303.50 2506.0V2340.1h14.48V2506.0ZM317.94 2506.0V2423.0h14.48V2506.0ZM332.37 2506.0V2381.6h14.48V2506.0ZM346.80 2506.0V2423.0h14.48V2506.0ZM390.08 2506.0V2423.0h14.48V2506.0ZM433.38 2506.0V2464.5h14.48V2506.0ZM462.23 2506.0V2423.0h14.48V2506.0ZM491.09 2506.0V2423.0h14.48V2506.0ZM519.96 2506.0V2423.0h14.48V2506.0ZM534.38 2506.0V2464.5h14.48V2506.0ZM563.25 2506.0V2423.0h14.48V2506.0ZM577.67 2506.0V2464.5h14.48V2506.0ZM606.53 2506.0V2464.5h14.48V2506.0ZM693.12 2506.0V2464.5h14.48V2506.0ZM851.85 2506.0V2464.5h14.48V2506.0Z" fill="#000080"/>
<path d="M94.2 2008.5 V2505.9 H901.5" fill="none" stroke="#000" stroke-width="2.9"/>
<line x1="94.2" y1="2506.0" x2="102.4" y2="2506.0" stroke="#000" stroke-width="2.2" />
<line x1="94.2" y1="2263.3" x2="102.4" y2="2263.3" stroke="#000" stroke-width="2.2" />
<line x1="94.2" y1="2020.7" x2="102.4" y2="2020.7" stroke="#000" stroke-width="2.2" />
<line x1="108.7" y1="2505.9" x2="108.7" y2="2497.9" stroke="#000" stroke-width="2.2" />
<line x1="397.3" y1="2505.9" x2="397.3" y2="2497.9" stroke="#000" stroke-width="2.2" />
<line x1="685.9" y1="2505.9" x2="685.9" y2="2497.9" stroke="#000" stroke-width="2.2" />
<text transform="translate(47.41 2035.98) scale(1.0719 1)" font-family="Liberation Sans, Arial, sans-serif" font-size="32.25" font-weight="normal" fill="#000">10</text>
<text transform="translate(62.69 2275.95) scale(1.0719 1)" font-family="Liberation Sans, Arial, sans-serif" font-size="32.25" font-weight="normal" fill="#000">5</text>
<text transform="translate(68.79 2505.48) scale(1.0719 1)" font-family="Liberation Sans, Arial, sans-serif" font-size="32.25" font-weight="normal" fill="#000">0</text>
<text transform="translate(100.91 2542.38) scale(1.0719 1)" font-family="Liberation Sans, Arial, sans-serif" font-size="32.25" font-weight="normal" fill="#000">0</text>
<text transform="translate(377.84 2542.38) scale(1.0719 1)" font-family="Liberation Sans, Arial, sans-serif" font-size="32.25" font-weight="normal" fill="#000">20</text>
<text transform="translate(668.27 2542.38) scale(1.0719 1)" font-family="Liberation Sans, Arial, sans-serif" font-size="32.25" font-weight="normal" fill="#000">40</text>
<text transform="translate(410.47 1979.49) scale(0.9803 1)" font-family="Liberation Sans, Arial, sans-serif" font-size="41.36" font-weight="normal" fill="#000080">Control</text>
<text transform="translate(384.80 2581.56) scale(0.9618 1)" font-family="Liberation Sans, Arial, sans-serif" font-size="34.97" font-weight="normal" fill="#000">firing rate (Hz)</text>
<text transform="translate(39.87 2345.09) rotate(-90) scale(1.0242 1)" font-family="Liberation Sans, Arial, sans-serif" font-size="33.06" font-weight="normal" fill="#000">% of Cells</text>
<path d="M1005.20 2506.0V2481.1h14.45V2506.0ZM1019.60 2506.0V2207.3h14.45V2506.0ZM1034.00 2506.0V2082.9h14.45V2506.0ZM1048.40 2506.0V2182.4h14.45V2506.0ZM1062.80 2506.0V2182.4h14.45V2506.0ZM1077.20 2506.0V2257.1h14.45V2506.0ZM1091.60 2506.0V2282.0h14.45V2506.0ZM1106.00 2506.0V2381.6h14.45V2506.0ZM1120.40 2506.0V2356.7h14.45V2506.0ZM1134.80 2506.0V2257.1h14.45V2506.0ZM1149.20 2506.0V2456.2h14.45V2506.0ZM1163.60 2506.0V2456.2h14.45V2506.0ZM1178.00 2506.0V2431.3h14.45V2506.0ZM1192.40 2506.0V2431.3h14.45V2506.0ZM1206.80 2506.0V2431.3h14.45V2506.0ZM1221.20 2506.0V2481.1h14.45V2506.0ZM1235.60 2506.0V2456.2h14.45V2506.0ZM1250.00 2506.0V2431.3h14.45V2506.0ZM1307.60 2506.0V2481.1h14.45V2506.0ZM1322.00 2506.0V2431.3h14.45V2506.0ZM1365.20 2506.0V2481.1h14.45V2506.0ZM1379.60 2506.0V2481.1h14.45V2506.0ZM1422.80 2506.0V2481.1h14.45V2506.0ZM1437.20 2506.0V2481.1h14.45V2506.0ZM1466.00 2506.0V2456.2h14.45V2506.0ZM1624.40 2506.0V2481.1h14.45V2506.0Z" fill="#ff0000"/>
<path d="M998.3 2008.5 V2505.6 H1806.2" fill="none" stroke="#000" stroke-width="2.5"/>
<line x1="998.3" y1="2506.0" x2="1006.3" y2="2506.0" stroke="#000" stroke-width="2" />
<line x1="998.3" y1="2349.2" x2="1006.3" y2="2349.2" stroke="#000" stroke-width="2" />
<line x1="998.3" y1="2192.4" x2="1006.3" y2="2192.4" stroke="#000" stroke-width="2" />
<line x1="998.3" y1="2035.6" x2="1006.3" y2="2035.6" stroke="#000" stroke-width="2" />
<line x1="1012.4" y1="2505.6" x2="1012.4" y2="2497.6" stroke="#000" stroke-width="2" />
<line x1="1300.4" y1="2505.6" x2="1300.4" y2="2497.6" stroke="#000" stroke-width="2" />
<line x1="1588.4" y1="2505.6" x2="1588.4" y2="2497.6" stroke="#000" stroke-width="2" />
<text transform="translate(946.21 2046.65) scale(1.0719 1)" font-family="Liberation Sans, Arial, sans-serif" font-size="32.25" font-weight="normal" fill="#000">15</text>
<text transform="translate(946.21 2204.28) scale(1.0719 1)" font-family="Liberation Sans, Arial, sans-serif" font-size="32.25" font-weight="normal" fill="#000">10</text>
<text transform="translate(966.79 2360.05) scale(1.0719 1)" font-family="Liberation Sans, Arial, sans-serif" font-size="32.25" font-weight="normal" fill="#000">5</text>
<text transform="translate(966.79 2516.48) scale(1.0719 1)" font-family="Liberation Sans, Arial, sans-serif" font-size="32.25" font-weight="normal" fill="#000">0</text>
<text transform="translate(1003.21 2542.38) scale(1.0719 1)" font-family="Liberation Sans, Arial, sans-serif" font-size="32.25" font-weight="normal" fill="#000">0</text>
<text transform="translate(1280.04 2542.38) scale(1.0719 1)" font-family="Liberation Sans, Arial, sans-serif" font-size="32.25" font-weight="normal" fill="#000">20</text>
<text transform="translate(1571.07 2542.38) scale(1.0719 1)" font-family="Liberation Sans, Arial, sans-serif" font-size="32.25" font-weight="normal" fill="#000">40</text>
<text transform="translate(1285.26 1979.39) scale(0.9844 1)" font-family="Liberation Sans, Arial, sans-serif" font-size="41.09" font-weight="normal" fill="#ff0000">Fluoxetine</text>
<text transform="translate(1288.00 2581.56) scale(0.9600 1)" font-family="Liberation Sans, Arial, sans-serif" font-size="34.97" font-weight="normal" fill="#000">firing rate (Hz)</text>
<text transform="translate(933.79 2345.09) rotate(-90) scale(1.0774 1)" font-family="Liberation Sans, Arial, sans-serif" font-size="31.43" font-weight="normal" fill="#000">% of Cells</text></svg>
</body></html>
